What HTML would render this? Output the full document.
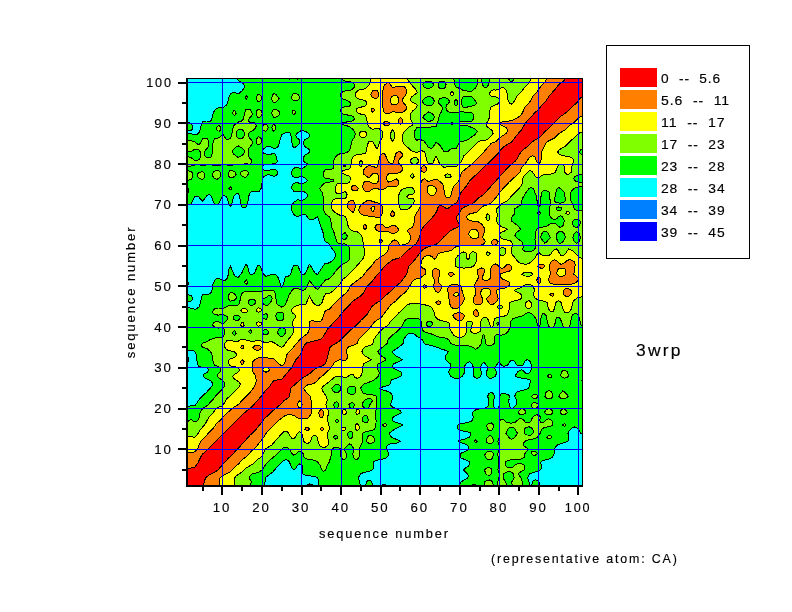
<!DOCTYPE html>
<html><head><meta charset="utf-8"><title>3wrp</title>
<style>
html,body{margin:0;padding:0;background:#fff;}
body{width:792px;height:612px;overflow:hidden;font-family:"Liberation Sans",sans-serif;}
svg{display:block;will-change:transform}
text{font-family:"Liberation Sans",sans-serif;font-size:13px;fill:#000;white-space:pre;stroke:#000;stroke-width:0.15px}
</style></head><body>
<svg width="792" height="612" viewBox="0 0 792 612">
<rect width="792" height="612" fill="#fff"/>
<defs><clipPath id="cp"><rect x="186" y="78" width="397" height="408"/></clipPath></defs>
<g clip-path="url(#cp)" shape-rendering="crispEdges">
<path fill="#ff0000" stroke="#ff0000" stroke-width="0.6" d="M186.9,486.1L203.3,486.1L205.4,478.0L208.7,475.2L214.6,472.3L218.1,469.8L228.4,458.2L232.4,454.6L236.4,449.9L240.3,446.1L250.2,435.1L256.1,429.4L264.0,419.2L272.9,410.7L279.9,405.0L283.8,400.9L287.2,398.5L289.4,396.5L290.9,388.3L291.7,387.4L301.6,378.5L309.5,373.8L313.7,370.0L315.5,368.8L322.0,365.9L325.4,363.9L326.2,361.8L329.8,347.6L332.2,345.5L339.2,341.4L351.1,329.6L357.0,324.7L361.0,320.3L366.8,315.0L371.8,306.8L372.8,305.8L374.8,304.1L380.8,300.5L384.7,296.3L390.6,291.4L394.6,287.2L400.5,282.5L406.6,274.2L408.8,266.1L414.4,260.3L422.3,250.0L426.2,247.6L434.2,245.0L437.1,243.7L439.6,241.6L443.2,237.5L450.0,231.1L453.9,228.8L457.5,227.4L459.9,225.5L456.6,219.2L456.4,217.2L459.3,213.1L461.8,208.6L464.6,207.0L471.7,204.0L473.7,202.6L477.7,198.6L483.6,194.5L505.4,170.3L509.3,166.1L515.3,161.2L517.2,158.4L521.2,151.5L528.1,145.9L532.2,141.8L538.9,137.7L541.0,135.9L544.9,131.7L548.9,128.2L552.8,123.9L556.8,120.5L560.7,116.4L566.7,112.2L571.7,107.1L576.6,103.2L580.5,97.7L582.5,96.6L582.5,78.6L565.0,78.6L564.0,80.7L558.6,84.7L554.8,89.8L549.9,94.9L545.9,101.0L541.9,105.1L538.6,109.2L534.3,113.3L531.0,117.3L526.9,121.4L525.1,123.6L521.2,130.4L517.2,134.6L511.8,141.8L505.1,145.9L502.4,147.9L497.5,154.0L493.5,158.1L470.0,180.5L466.0,186.6L462.2,190.7L460.8,192.7L457.9,200.1L456.3,202.9L452.0,205.5L448.0,208.5L446.0,208.3L439.9,204.9L438.1,207.3L436.8,211.1L434.4,215.1L428.2,222.1L424.3,225.9L422.3,228.4L421.0,231.4L418.5,239.6L416.1,243.7L406.1,251.8L400.5,257.5L392.6,259.9L384.6,266.1L380.0,272.2L375.9,276.3L371.2,282.4L367.1,286.4L363.6,292.6L362.0,294.6L361.0,295.6L353.1,300.9L347.9,306.8L343.6,310.9L338.9,317.0L327.4,329.2L323.4,336.5L321.4,339.0L319.4,339.7L307.6,342.6L305.6,343.4L303.6,346.9L300.8,353.7L299.7,355.5L295.9,359.8L291.4,367.9L282.7,378.1L281.9,379.0L273.9,380.6L272.0,382.8L269.6,386.3L265.7,390.4L260.1,397.6L251.9,406.7L242.0,414.8L236.4,420.9L225.8,431.1L222.0,435.2L217.5,439.3L214.0,443.3L202.7,454.0L200.4,457.6L197.5,463.7L194.8,467.1L186.9,469.2L186.9,486.1Z"/>
<path fill="#ff7f00" stroke="#ff7f00" stroke-width="0.6" d="M203.3,486.1L219.4,486.1L219.6,480.0L220.1,478.0L220.5,477.5L222.5,475.7L224.5,474.5L228.4,473.0L230.4,471.6L234.4,467.4L238.8,463.7L242.3,459.7L247.7,455.6L251.0,451.5L256.1,446.9L258.8,443.3L262.1,439.7L263.9,437.2L266.2,433.1L268.0,431.2L278.1,420.9L283.8,416.5L285.8,415.3L287.8,414.8L291.7,414.8L293.7,415.3L297.7,418.0L299.7,418.7L301.6,419.0L305.6,418.8L307.6,418.1L309.3,416.8L311.5,412.8L311.3,402.6L310.8,398.5L310.2,396.5L309.5,395.5L304.8,390.4L303.8,388.3L305.3,386.3L307.6,384.9L313.5,383.6L315.5,382.5L319.4,378.2L323.4,375.0L329.3,369.5L331.3,367.3L333.5,363.9L335.3,361.8L337.2,360.7L339.2,360.0L341.2,359.9L343.2,360.3L345.1,360.4L346.4,359.8L347.3,357.8L347.4,355.7L346.2,351.6L346.6,349.6L347.5,347.6L349.1,346.6L355.0,344.6L357.2,343.5L358.8,339.4L366.8,331.3L372.1,325.2L374.8,321.6L381.7,317.0L390.6,304.9L396.1,300.7L399.8,296.6L405.2,292.6L406.5,291.1L412.4,281.6L414.4,279.8L416.4,278.8L420.3,277.9L425.4,274.2L425.9,272.2L425.6,270.1L424.3,268.9L422.3,267.9L420.8,266.1L421.3,262.0L422.0,260.0L423.3,257.9L424.3,257.0L426.2,256.0L428.2,255.7L430.2,255.9L432.2,256.9L434.2,259.2L436.2,257.9L438.1,253.8L442.1,252.2L448.0,251.4L450.0,250.8L452.1,249.8L453.9,248.1L455.9,246.8L457.9,246.1L461.8,245.7L479.6,245.4L481.6,245.0L484.2,243.7L485.4,241.6L482.7,237.5L485.0,229.4L484.0,227.4L481.6,224.1L479.6,222.5L477.7,221.7L471.7,221.0L469.8,220.4L467.8,219.3L466.5,217.2L467.7,215.1L469.8,213.9L475.7,212.5L477.7,211.5L481.6,207.2L483.6,205.9L489.5,204.1L491.5,202.7L493.3,200.9L501.1,190.7L509.3,182.0L519.9,172.3L521.1,168.3L526.4,162.2L529.1,157.5L531.1,156.1L533.1,155.9L535.0,157.1L537.0,162.1L539.0,163.8L540.3,162.2L541.1,160.1L541.5,152.0L545.5,143.8L546.9,142.2L548.9,140.8L554.8,137.9L558.8,133.5L565.7,129.6L569.6,125.5L575.2,121.4L578.5,117.9L580.5,116.5L582.5,115.8L582.5,96.6L580.5,97.7L576.6,103.2L571.7,107.1L566.7,112.2L560.7,116.4L556.8,120.5L552.8,123.9L548.9,128.2L544.9,131.7L541.0,135.9L538.9,137.7L532.2,141.8L528.1,145.9L521.2,151.5L517.2,158.4L515.3,161.2L509.3,166.1L505.4,170.3L483.6,194.5L477.7,198.6L473.7,202.6L471.7,204.0L464.6,207.0L461.8,208.6L459.3,213.1L456.4,217.2L456.6,219.2L459.9,225.5L457.5,227.4L453.9,228.8L450.0,231.1L443.2,237.5L439.6,241.6L437.1,243.7L434.2,245.0L426.2,247.6L422.3,250.0L414.4,260.3L408.8,266.1L406.6,274.2L400.5,282.5L394.6,287.2L390.6,291.4L384.7,296.3L380.8,300.5L374.8,304.1L372.8,305.8L371.8,306.8L366.8,315.0L361.0,320.3L357.0,324.7L351.1,329.6L339.2,341.4L332.2,345.5L329.8,347.6L326.2,361.8L325.4,363.9L322.0,365.9L315.5,368.8L313.7,370.0L309.5,373.8L301.6,378.5L291.7,387.4L290.9,388.3L289.4,396.5L287.2,398.5L283.8,400.9L279.9,405.0L272.9,410.7L264.0,419.2L256.1,429.4L250.2,435.1L240.3,446.1L236.4,449.9L232.4,454.6L228.4,458.2L218.1,469.8L214.6,472.3L208.7,475.2L205.4,478.0L203.3,486.1ZM299.7,408.3L298.2,406.7L297.5,404.6L298.2,402.6L299.7,400.9L301.6,402.6L302.1,404.6L301.6,406.7L299.7,408.3ZM471.7,237.9L469.3,235.5L468.6,233.5L469.5,231.4L471.7,229.6L473.7,229.2L475.7,229.4L477.7,230.8L478.7,233.5L478.8,235.5L478.2,237.5L475.7,238.5L473.7,238.5L471.7,237.9ZM186.9,467.8L186.9,469.2L194.8,467.1L197.5,463.7L200.4,457.6L202.7,454.0L214.0,443.3L217.5,439.3L222.0,435.2L225.8,431.1L236.4,420.9L242.0,414.8L251.9,406.7L260.1,397.6L265.7,390.4L269.6,386.3L272.0,382.8L273.9,380.6L281.9,379.0L282.7,378.1L291.4,367.9L295.9,359.8L299.7,355.5L300.8,353.7L303.6,346.9L305.6,343.4L307.6,342.6L319.4,339.7L321.4,339.0L323.4,336.5L327.4,329.2L338.9,317.0L343.6,310.9L347.9,306.8L353.1,300.9L361.0,295.6L362.0,294.6L363.6,292.6L367.1,286.4L371.2,282.4L375.9,276.3L380.0,272.2L384.6,266.1L392.6,259.9L400.5,257.5L406.1,251.8L416.1,243.7L418.5,239.6L421.0,231.4L422.3,228.4L424.3,225.9L428.2,222.1L434.4,215.1L436.8,211.1L438.1,207.3L439.9,204.9L446.0,208.3L448.0,208.5L452.0,205.5L456.3,202.9L457.9,200.1L460.8,192.7L462.2,190.7L466.0,186.6L470.0,180.5L493.5,158.1L497.5,154.0L502.4,147.9L505.1,145.9L511.8,141.8L517.2,134.6L521.2,130.4L525.1,123.6L526.9,121.4L531.0,117.3L534.3,113.3L538.6,109.2L541.9,105.1L545.9,101.0L549.9,94.9L554.8,89.8L558.6,84.7L564.0,80.7L565.0,78.6L546.4,78.6L545.7,80.7L544.4,82.7L541.0,86.2L537.0,91.9L533.1,96.0L529.2,103.1L525.0,107.1L522.2,113.3L520.8,115.3L519.2,116.7L511.3,120.9L503.4,121.3L501.4,122.1L499.9,123.4L501.5,125.5L506.3,127.5L507.5,129.6L507.3,131.6L506.0,133.6L501.4,136.4L495.5,141.9L491.5,143.1L482.1,154.0L473.7,162.5L463.8,170.5L462.0,172.3L460.7,174.4L459.0,180.5L457.7,182.5L453.5,186.6L452.6,188.6L451.2,194.8L450.0,196.8L448.0,198.2L446.0,196.8L444.8,194.8L444.3,192.7L443.6,186.6L442.8,184.6L441.2,182.5L438.1,180.1L436.1,179.1L428.2,181.5L424.3,178.6L422.3,179.9L421.0,182.5L420.6,184.6L420.3,202.9L420.0,207.0L419.2,209.0L418.0,211.1L416.4,213.0L415.3,215.1L414.8,217.2L414.0,223.3L412.5,227.4L408.4,229.3L407.2,231.4L409.4,233.5L410.4,235.5L410.6,237.5L410.3,239.6L409.4,241.6L408.4,242.7L406.5,243.9L404.5,244.7L400.5,245.2L398.8,243.7L397.8,241.6L396.6,240.3L394.6,240.0L392.6,240.5L389.1,245.7L388.1,249.8L387.2,251.8L385.5,253.8L376.2,260.0L374.8,261.3L370.9,266.8L366.9,270.6L362.8,276.3L352.1,284.4L351.1,285.5L346.6,292.6L343.2,295.3L337.2,300.9L329.3,309.1L325.4,310.7L324.3,312.9L322.3,319.0L321.4,320.7L319.4,321.6L317.5,322.0L313.5,320.9L311.5,320.9L309.5,321.8L309.0,323.1L309.4,327.2L309.3,329.2L308.7,331.3L307.6,333.3L305.6,335.1L302.2,337.4L300.1,339.4L294.8,345.5L291.7,349.6L287.5,353.7L286.4,355.7L285.2,361.8L283.8,364.2L281.9,365.7L279.9,364.7L274.9,359.8L273.9,359.1L272.0,358.5L268.0,358.0L258.1,357.8L254.2,360.1L252.9,361.8L252.3,363.9L252.1,367.9L253.1,372.0L255.6,376.1L256.2,378.1L256.2,382.2L255.6,384.2L254.5,386.3L250.2,392.2L240.3,402.6L238.3,404.5L234.4,406.8L232.0,408.7L228.4,412.1L225.0,414.8L220.5,420.1L216.6,423.5L212.5,429.1L208.7,432.6L205.1,437.2L201.0,441.3L199.7,443.3L198.2,447.4L197.1,449.4L195.3,451.5L194.8,451.9L192.8,452.4L186.9,452.7L186.9,467.8ZM266.0,372.2L264.0,371.4L262.4,370.0L264.0,368.0L266.0,367.4L268.0,368.0L269.6,370.0L268.0,371.4L266.0,372.2ZM430.2,195.2L427.9,192.7L427.3,190.7L427.3,188.6L428.2,186.0L430.2,185.5L432.2,185.6L434.7,186.6L436.1,188.6L436.4,190.7L436.1,191.9L435.9,192.7L434.2,195.0L432.2,196.0L430.2,195.2ZM304.7,429.1L305.6,429.9L307.6,430.9L309.8,429.1L307.6,427.2L305.6,428.0L304.7,429.1ZM320.0,429.1L321.4,430.6L323.4,429.8L323.9,429.1L323.4,428.3L321.4,427.4L320.0,429.1ZM319.9,416.8L321.4,418.4L322.7,416.8L324.0,412.8L323.4,411.2L321.4,409.4L319.4,410.6L318.7,412.8L319.1,414.8L319.9,416.8ZM241.5,363.9L242.3,364.8L243.3,363.9L244.1,361.8L242.3,359.6L240.5,361.8L241.5,363.9ZM255.2,349.6L258.1,350.3L260.1,349.7L261.4,347.6L259.7,345.5L258.1,344.9L256.1,345.3L254.2,346.2L252.7,347.6L254.2,349.2L255.2,349.6ZM240.8,347.6L242.3,349.0L243.9,347.6L243.1,345.5L242.3,345.0L241.6,345.5L240.8,347.6ZM455.6,319.0L457.9,320.8L459.9,321.0L461.8,320.1L463.2,319.0L464.0,317.0L464.1,315.0L461.8,313.3L459.9,312.8L455.9,313.1L453.9,314.0L452.8,315.0L453.7,317.0L455.6,319.0ZM473.8,315.0L475.7,316.8L477.7,316.2L479.0,315.0L478.7,312.9L477.5,310.9L475.7,309.2L474.0,310.9L473.7,312.9L473.8,315.0ZM455.0,308.9L455.9,308.9L457.9,308.1L459.5,306.8L462.8,302.8L464.5,298.7L462.0,290.5L461.3,286.4L459.9,285.5L457.9,284.9L453.9,284.5L450.0,285.3L448.4,286.4L447.9,288.5L447.8,290.5L448.6,294.6L449.4,302.8L450.0,304.8L450.8,306.8L452.0,307.8L453.9,308.8L455.0,308.9ZM455.9,296.7L453.9,295.4L453.6,294.6L453.9,294.0L455.9,292.5L457.9,293.0L458.6,294.6L457.9,295.7L455.9,296.7ZM477.0,304.8L479.6,304.7L481.6,303.7L482.4,302.8L482.5,298.7L480.7,294.6L480.8,292.6L481.2,290.5L481.6,289.9L483.6,288.6L485.6,288.3L487.6,288.5L489.5,289.4L490.5,290.5L490.5,292.6L490.2,294.6L486.1,298.7L489.5,303.7L491.5,304.6L493.5,304.1L495.4,302.8L497.1,300.7L498.2,298.7L496.6,292.6L496.5,290.5L497.5,289.7L499.4,289.0L505.4,287.9L508.6,286.4L509.6,284.4L509.5,282.4L501.4,278.4L500.5,276.3L500.3,274.2L501.4,273.4L509.3,271.1L510.9,270.1L511.6,268.1L511.3,266.1L509.3,264.2L507.3,264.2L503.4,267.9L501.4,268.2L499.4,267.4L497.5,265.0L495.5,264.0L493.5,264.4L491.7,266.1L490.2,270.1L490.5,276.3L490.2,278.3L489.5,279.1L487.6,280.2L485.6,280.4L483.6,279.9L482.0,278.3L485.0,270.1L483.6,268.5L481.6,268.0L479.6,268.5L477.4,270.1L477.5,272.2L478.2,276.3L478.1,278.3L477.1,280.3L475.5,282.4L474.8,284.4L474.6,286.4L475.7,290.5L475.7,293.4L475.5,294.6L473.0,298.7L473.0,300.7L473.5,302.8L475.7,304.5L477.0,304.8ZM435.7,302.8L438.1,304.6L440.1,303.9L440.8,302.8L440.1,301.6L438.1,300.8L435.7,302.8ZM549.8,294.6L550.9,295.8L552.8,296.1L553.9,294.6L552.8,293.1L550.9,293.4L549.8,294.6ZM563.9,294.6L564.7,295.6L566.7,296.6L568.7,296.4L570.7,294.6L571.5,292.6L571.3,290.5L568.7,288.6L566.7,288.4L564.7,289.2L563.3,290.5L563.4,292.6L563.9,294.6ZM435.1,290.5L436.1,291.5L438.1,292.4L440.1,291.2L441.2,288.5L441.6,286.4L440.6,284.4L438.6,282.4L438.2,280.3L438.4,278.3L439.9,274.2L439.7,272.2L439.0,270.1L436.1,268.2L434.2,268.7L433.0,270.1L432.1,274.2L432.8,276.3L433.9,278.3L434.2,282.4L433.6,286.4L434.1,288.5L435.1,290.5ZM422.9,286.4L424.3,288.2L426.2,287.3L426.7,286.4L426.2,285.6L424.3,284.7L422.9,286.4ZM558.6,284.4L568.7,284.4L572.6,283.9L576.3,282.4L578.0,280.3L578.7,278.3L573.8,274.2L574.9,270.1L575.1,264.0L574.5,262.0L572.6,260.5L570.6,259.9L568.5,260.0L566.7,260.6L564.7,262.6L562.7,263.9L560.7,264.1L558.8,263.1L556.8,260.8L554.8,259.9L552.8,260.3L550.9,262.0L550.0,264.0L549.5,266.1L550.3,274.2L548.8,278.3L548.8,280.3L549.3,282.4L550.9,283.4L552.8,284.0L558.6,284.4ZM560.7,276.4L558.8,275.9L556.9,274.2L557.0,272.2L557.5,270.1L558.8,268.8L560.7,268.0L562.7,268.1L564.7,268.9L565.8,270.1L566.0,272.2L565.7,274.2L564.7,275.4L562.7,276.3L560.7,276.4ZM537.2,282.4L539.0,283.9L540.8,282.4L540.7,280.3L540.3,278.3L539.0,276.8L537.3,278.3L536.8,280.3L537.2,282.4ZM448.0,274.2L450.0,276.1L452.0,276.1L454.2,274.2L452.0,272.3L450.0,272.3L448.0,274.2ZM540.7,268.1L542.9,268.0L545.0,266.1L542.9,264.1L541.0,264.0L539.0,264.8L537.7,266.1L539.0,267.4L540.7,268.1ZM491.9,243.7L493.5,245.2L495.5,244.9L497.2,243.7L498.3,241.6L495.5,239.3L493.5,239.3L491.3,241.6L491.9,243.7ZM379.0,241.6L380.8,243.0L382.5,241.6L381.5,239.6L380.8,239.1L380.0,239.6L379.0,241.6ZM392.4,233.5L396.6,232.6L398.0,231.4L398.5,229.4L396.6,226.4L394.6,225.7L392.6,225.5L388.7,227.0L386.7,227.3L384.7,226.9L382.7,224.8L380.8,223.7L376.8,224.8L376.1,225.3L374.9,227.4L375.9,229.4L376.8,230.5L378.8,231.5L380.8,232.0L384.7,231.4L387.4,231.4L388.7,231.7L390.6,232.9L392.4,233.5ZM364.6,229.4L364.9,229.8L366.8,227.4L366.0,225.3L364.9,224.6L363.8,225.3L363.1,227.4L364.6,229.4ZM375.6,217.2L378.8,217.3L380.8,216.7L381.8,215.1L382.6,211.1L382.6,209.0L381.7,204.9L380.8,203.5L376.8,202.8L368.9,200.1L366.8,200.9L363.6,202.9L361.0,205.3L359.7,207.0L358.9,209.0L359.0,211.1L360.0,213.1L361.0,214.2L364.9,215.7L372.8,216.6L375.6,217.2ZM372.8,211.4L372.1,211.1L370.8,209.0L371.7,207.0L372.8,206.3L374.4,207.0L374.9,209.0L373.5,211.1L372.8,211.4ZM390.8,215.1L392.6,217.2L394.5,215.1L394.5,213.1L392.6,210.8L390.8,213.1L390.8,215.1ZM350.9,211.1L353.1,212.3L354.0,211.1L354.9,209.0L355.2,207.0L355.0,204.5L354.7,202.9L353.1,200.6L351.1,200.7L349.1,201.5L348.0,202.9L347.2,204.9L347.4,207.0L349.1,209.3L350.9,211.1ZM354.5,190.7L357.0,190.4L358.6,188.6L357.0,186.8L355.0,185.5L353.1,185.2L351.8,186.6L351.3,188.6L353.1,190.6L354.5,190.7ZM364.6,190.7L366.9,191.4L368.9,191.5L370.4,190.7L372.8,188.9L374.8,188.6L377.1,188.6L380.8,189.7L382.7,189.5L384.7,188.8L386.7,187.2L388.7,186.1L390.6,186.1L394.6,186.8L396.6,186.9L398.2,184.6L398.6,182.5L398.2,180.5L396.6,179.0L388.7,182.2L387.1,180.5L386.6,178.5L386.8,176.4L387.9,174.4L388.7,173.7L390.6,173.4L396.6,173.7L400.5,172.2L402.2,170.3L402.5,168.3L401.6,166.2L399.3,164.2L398.5,162.2L398.8,160.1L402.3,156.0L402.3,154.0L400.5,151.9L398.6,151.7L396.6,152.4L395.7,154.0L393.4,162.2L392.6,163.3L390.6,163.1L388.7,162.3L384.7,153.8L382.7,153.7L380.8,154.7L380.1,156.0L379.3,158.1L378.3,164.2L377.6,166.2L376.8,167.2L374.8,167.1L368.9,165.5L366.9,166.6L364.9,168.3L363.6,170.3L363.2,172.3L364.0,174.4L364.9,175.1L368.9,178.0L372.8,173.7L374.8,173.4L376.8,173.4L377.9,174.4L378.8,176.4L378.9,178.5L378.6,180.5L377.4,182.5L376.8,183.0L372.8,183.5L368.9,181.6L366.9,181.5L364.9,181.8L364.0,182.5L363.0,184.6L362.8,186.6L363.2,188.6L364.6,190.7ZM423.3,172.3L424.3,172.6L424.6,172.3L426.5,170.3L426.5,168.3L424.3,165.3L422.3,166.5L421.1,168.3L420.8,170.3L422.3,171.9L423.3,172.3ZM385.8,125.5L386.7,125.7L388.7,125.2L390.1,123.4L388.7,122.1L386.7,121.6L384.7,121.6L383.2,123.4L384.7,125.3L385.8,125.5ZM399.2,123.4L400.5,124.8L401.8,123.4L402.6,121.4L402.4,119.4L400.5,117.2L398.6,119.4L398.5,121.4L399.2,123.4ZM386.1,113.3L388.7,113.4L392.6,111.8L400.5,112.6L402.5,112.1L404.5,111.2L406.2,109.2L406.5,107.1L405.7,105.1L403.4,103.1L402.5,101.0L402.6,99.0L403.9,97.0L405.8,94.9L406.5,92.9L406.6,90.8L406.0,88.8L404.5,86.9L402.5,86.2L398.6,86.2L396.6,86.5L392.6,87.6L388.7,82.6L386.7,83.2L384.7,85.0L383.8,86.8L382.9,90.8L382.8,107.1L383.7,111.2L384.7,112.8L386.1,113.3ZM392.6,105.0L390.9,103.1L390.5,101.0L390.7,99.0L391.5,97.0L392.6,96.0L394.6,95.7L396.6,95.8L397.8,97.0L398.6,99.0L398.6,101.0L397.9,103.1L396.6,104.4L394.6,104.9L392.6,105.0ZM371.6,111.2L372.8,112.3L374.0,111.2L374.3,109.2L372.8,108.0L371.4,109.2L371.6,111.2ZM371.8,97.0L372.8,97.8L374.8,98.3L376.8,98.4L378.1,97.0L378.8,94.9L378.6,92.9L376.8,90.2L374.8,90.0L372.8,90.8L371.1,92.9L370.9,94.9L371.8,97.0Z"/>
<path fill="#ffff00" stroke="#ffff00" stroke-width="0.6" d="M219.4,486.1L234.4,486.1L234.9,482.1L234.4,478.0L236.3,475.9L242.3,471.9L246.3,467.8L253.5,463.7L257.2,459.6L260.3,457.6L262.1,455.9L263.5,453.5L265.0,449.4L266.0,448.5L271.4,445.4L279.9,435.7L283.8,431.8L285.8,431.2L287.8,432.1L290.9,437.2L291.7,438.2L293.7,439.0L295.4,437.2L297.7,433.1L299.7,431.7L301.4,433.1L302.4,435.2L303.6,441.3L305.6,443.0L307.6,443.4L309.5,442.6L310.6,441.3L311.6,437.2L313.5,435.4L315.5,435.4L317.4,437.2L318.5,443.3L319.5,445.4L321.4,446.9L323.4,447.5L325.4,447.1L327.8,445.4L328.6,443.3L328.7,441.3L327.4,437.2L327.3,435.2L327.6,433.1L328.7,431.1L329.3,429.1L329.2,427.0L327.8,420.9L327.6,416.8L328.8,412.8L328.3,410.7L325.7,404.6L327.3,400.5L327.0,398.5L326.2,396.5L322.4,390.4L321.8,388.3L323.4,386.1L329.3,381.8L333.3,378.2L335.3,377.0L337.2,376.4L339.2,376.1L341.2,376.4L343.2,377.2L345.1,377.5L347.1,377.1L351.1,374.3L353.1,374.8L355.0,377.4L357.0,378.2L359.0,377.7L360.8,376.1L362.4,372.0L362.8,370.0L363.1,363.9L371.6,359.8L364.4,355.7L362.8,353.7L362.0,351.6L362.7,349.6L364.1,347.6L364.9,347.0L370.9,344.9L373.5,343.5L373.9,339.4L376.8,335.0L382.2,329.2L388.0,325.2L390.9,321.1L398.6,313.2L403.4,308.9L406.5,305.6L408.4,304.3L412.4,303.4L420.3,303.9L428.2,305.5L430.9,306.8L433.9,310.9L434.4,315.0L435.6,317.0L437.6,319.0L440.1,320.3L446.0,321.7L449.0,323.1L449.5,327.2L450.2,329.2L451.2,331.3L454.0,335.4L455.9,336.8L457.9,337.4L459.9,337.5L461.8,337.2L463.8,336.1L464.8,335.4L465.9,333.3L466.5,331.3L466.6,329.2L466.0,323.1L467.8,321.6L469.8,321.1L471.7,321.9L472.6,323.1L470.9,329.2L470.8,331.3L471.7,332.4L473.7,333.3L475.7,333.4L477.7,332.9L480.2,331.3L480.9,329.2L481.0,327.2L480.5,323.1L480.8,321.1L481.8,319.0L483.6,317.6L485.6,317.1L487.6,318.5L490.2,325.2L491.3,327.2L491.8,327.2L493.5,325.1L494.0,321.1L494.7,319.0L495.5,318.2L497.5,317.5L503.4,316.5L506.8,315.0L508.1,312.9L508.9,310.9L509.3,308.9L509.5,302.8L511.3,301.7L519.2,299.7L521.2,298.7L521.8,296.6L521.5,294.6L514.2,290.5L517.2,288.9L521.2,287.6L525.1,285.0L527.1,284.4L529.1,284.3L531.1,285.0L533.0,286.4L534.0,288.5L534.4,290.5L533.2,294.6L534.1,296.6L535.7,298.7L539.0,300.1L544.9,301.4L547.3,302.8L548.0,306.8L548.7,308.9L549.8,310.9L550.9,311.8L552.8,311.8L553.6,310.9L555.9,302.8L556.8,301.5L558.8,300.8L560.7,302.0L561.3,302.8L562.7,308.5L563.7,310.9L564.7,312.1L566.7,312.8L568.7,312.1L570.2,310.9L571.3,308.9L572.0,306.8L572.7,302.8L573.9,300.7L576.6,298.3L578.5,297.5L582.5,296.7L582.5,258.8L580.4,257.9L577.8,255.9L572.6,250.8L570.6,249.6L568.7,248.9L564.7,254.7L562.7,255.8L560.7,255.2L559.6,253.8L557.6,249.8L556.8,248.9L554.8,249.6L552.8,251.2L550.9,253.9L548.9,255.4L546.9,255.9L542.9,255.7L541.0,254.6L539.0,252.6L537.4,253.8L535.0,257.9L531.0,262.0L529.1,263.3L527.1,264.0L523.2,264.1L521.2,263.7L519.2,262.6L518.3,262.0L511.8,253.8L511.0,249.8L512.4,245.7L512.3,243.7L511.5,241.6L509.3,240.4L503.4,239.3L501.4,238.4L500.4,237.5L499.8,235.5L499.9,233.5L501.4,232.1L503.7,231.4L507.5,229.4L503.7,227.4L501.4,226.7L499.4,225.3L497.5,223.2L496.5,221.2L497.2,215.1L496.7,209.0L501.4,203.8L507.5,200.9L510.8,196.8L519.0,188.6L521.9,184.6L522.9,178.5L523.5,176.4L529.1,170.7L531.1,170.9L532.7,172.3L535.5,176.4L537.0,178.0L539.0,177.9L541.0,176.1L542.9,175.1L544.9,174.7L550.9,174.1L552.8,173.7L554.8,172.7L555.2,172.3L557.8,166.2L558.8,165.1L560.7,164.1L562.7,164.5L564.2,166.2L564.9,168.3L564.9,172.3L566.7,174.1L568.7,174.1L571.2,172.3L571.5,170.3L571.4,168.3L571.8,166.2L573.4,162.2L573.8,160.1L572.0,158.1L570.6,157.2L568.7,156.4L562.7,155.7L560.7,155.0L559.1,154.0L557.7,152.0L559.1,149.9L565.6,145.9L569.5,141.8L574.5,137.7L578.4,133.6L580.5,132.4L582.5,131.8L582.5,115.8L580.5,116.5L578.5,117.9L575.2,121.4L569.6,125.5L565.7,129.6L558.8,133.5L554.8,137.9L548.9,140.8L546.9,142.2L545.5,143.8L541.5,152.0L541.1,160.1L540.3,162.2L539.0,163.8L537.0,162.1L535.0,157.1L533.1,155.9L531.1,156.1L529.1,157.5L526.4,162.2L521.1,168.3L519.9,172.3L509.3,182.0L501.1,190.7L493.3,200.9L491.5,202.7L489.5,204.1L483.6,205.9L481.6,207.2L477.7,211.5L475.7,212.5L469.8,213.9L467.7,215.1L466.5,217.2L467.8,219.3L469.8,220.4L471.7,221.0L477.7,221.7L479.6,222.5L481.6,224.1L484.0,227.4L485.0,229.4L482.7,237.5L485.4,241.6L484.2,243.7L481.6,245.0L479.6,245.4L461.8,245.7L457.9,246.1L455.9,246.8L453.9,248.1L452.1,249.8L450.0,250.8L448.0,251.4L442.1,252.2L438.1,253.8L436.2,257.9L434.2,259.2L432.2,256.9L430.2,255.9L428.2,255.7L426.2,256.0L424.3,257.0L423.3,257.9L422.0,260.0L421.3,262.0L420.8,266.1L422.3,267.9L424.3,268.9L425.6,270.1L425.9,272.2L425.4,274.2L420.3,277.9L416.4,278.8L414.4,279.8L412.4,281.6L406.5,291.1L405.2,292.6L399.8,296.6L396.1,300.7L390.6,304.9L381.7,317.0L374.8,321.6L372.1,325.2L366.8,331.3L358.8,339.4L357.2,343.5L355.0,344.6L349.1,346.6L347.5,347.6L346.6,349.6L346.2,351.6L347.4,355.7L347.3,357.8L346.4,359.8L345.1,360.4L343.2,360.3L341.2,359.9L339.2,360.0L337.2,360.7L335.3,361.8L333.5,363.9L331.3,367.3L329.3,369.5L323.4,375.0L319.4,378.2L315.5,382.5L313.5,383.6L307.6,384.9L305.3,386.3L303.8,388.3L304.8,390.4L309.5,395.5L310.2,396.5L310.8,398.5L311.3,402.6L311.5,412.8L309.3,416.8L307.6,418.1L305.6,418.8L301.6,419.0L299.7,418.7L297.7,418.0L293.7,415.3L289.8,414.6L285.8,415.3L283.3,416.8L278.1,420.9L266.2,433.1L263.9,437.2L256.1,446.9L251.0,451.5L247.7,455.6L242.3,459.7L238.8,463.7L234.4,467.4L230.4,471.6L228.4,473.0L224.5,474.5L222.5,475.7L220.5,477.5L220.1,478.0L219.6,480.0L219.4,486.1ZM305.6,429.9L304.7,429.1L305.6,428.0L307.6,427.2L309.8,429.1L307.6,430.9L305.6,429.9ZM321.4,430.6L320.0,429.1L321.4,427.4L323.4,428.3L323.9,429.1L323.4,429.8L321.4,430.6ZM424.3,288.2L422.9,286.4L424.3,284.7L426.2,285.6L426.7,286.4L426.2,287.3L424.3,288.2ZM436.1,303.1L435.7,302.8L438.1,300.8L440.1,301.6L440.8,302.8L440.1,303.9L438.1,304.6L436.1,303.1ZM455.9,319.3L453.7,317.0L452.8,315.0L453.9,314.0L455.9,313.1L459.9,312.8L461.8,313.3L464.1,315.0L464.0,317.0L463.2,319.0L461.8,320.1L459.9,321.0L457.9,320.8L455.9,319.3ZM475.7,316.8L473.8,315.0L473.7,312.9L474.0,310.9L475.7,309.2L477.5,310.9L478.7,312.9L479.0,315.0L477.7,316.2L475.7,316.8ZM497.5,307.5L496.9,306.8L499.4,305.2L501.4,305.2L502.9,306.8L501.4,308.6L499.4,308.8L497.5,307.5ZM527.1,276.4L525.1,276.2L523.2,275.4L521.8,274.2L523.2,273.1L525.1,272.2L529.2,272.2L531.1,272.8L532.7,274.2L531.1,275.6L529.1,276.3L527.1,276.4ZM539.0,283.9L537.2,282.4L536.8,280.3L537.3,278.3L539.0,276.8L540.3,278.3L540.7,280.3L540.8,282.4L539.0,283.9ZM541.0,268.2L539.0,267.4L537.7,266.1L539.0,264.8L541.0,264.0L542.9,264.1L544.9,265.9L544.9,266.3L542.9,268.0L541.0,268.2ZM550.9,295.8L549.8,294.6L550.9,293.4L552.8,293.1L553.9,294.6L552.8,296.1L550.9,295.8ZM558.8,284.4L552.8,284.0L550.9,283.4L549.3,282.4L548.8,280.3L548.8,278.3L550.3,274.2L549.5,266.1L550.0,264.0L550.9,262.0L552.8,260.3L554.8,259.9L556.8,260.8L558.8,263.1L560.7,264.1L562.7,263.9L564.7,262.6L566.7,260.6L568.5,260.0L570.6,259.9L572.6,260.5L574.5,262.0L575.1,264.0L574.9,270.1L573.8,274.2L578.7,278.3L578.0,280.3L576.3,282.4L572.6,283.9L568.7,284.4L558.8,284.4ZM564.7,295.6L563.9,294.6L563.4,292.6L563.3,290.5L564.7,289.2L566.7,288.4L568.7,288.6L571.3,290.5L571.5,292.6L570.7,294.6L568.7,296.4L566.7,296.6L564.7,295.6ZM321.4,418.4L319.9,416.8L319.1,414.8L318.7,412.8L319.4,410.6L321.4,409.4L323.4,411.2L324.0,412.8L322.7,416.8L321.4,418.4ZM436.1,291.5L435.1,290.5L434.1,288.5L433.6,286.4L434.2,282.4L434.2,279.6L433.9,278.3L432.8,276.3L432.1,274.2L433.0,270.1L434.2,268.7L436.1,268.2L439.0,270.1L439.7,272.2L439.9,274.2L438.4,278.3L438.2,280.3L438.6,282.4L440.6,284.4L441.6,286.4L441.2,288.5L440.1,291.2L438.1,292.4L436.1,291.5ZM455.9,308.9L453.9,308.8L452.0,307.8L450.8,306.8L449.4,302.8L448.6,294.6L447.8,290.5L447.9,288.5L448.4,286.4L450.0,285.3L453.9,284.5L457.9,284.9L459.9,285.5L461.3,286.4L462.0,290.5L464.5,298.7L463.8,300.8L461.8,304.2L459.5,306.8L457.9,308.1L455.9,308.9ZM477.7,304.9L475.7,304.5L473.5,302.8L473.0,300.7L473.0,298.7L475.5,294.6L475.7,293.4L475.7,290.5L474.6,286.4L474.8,284.4L475.5,282.4L477.1,280.3L478.1,278.3L478.2,276.3L477.5,272.2L477.4,270.1L479.6,268.5L481.6,268.0L483.6,268.5L485.0,270.1L482.0,278.3L483.6,279.9L485.6,280.4L487.6,280.2L489.5,279.1L490.2,278.3L490.5,276.3L490.2,270.1L491.7,266.1L493.5,264.4L495.5,264.0L497.5,265.0L499.4,267.4L501.4,268.2L503.4,267.9L507.3,264.2L509.3,264.2L511.3,266.1L511.6,268.1L510.9,270.1L509.3,271.1L501.4,273.4L500.3,274.2L500.5,276.3L501.4,278.4L509.5,282.4L509.6,284.4L508.6,286.4L505.4,287.9L499.4,289.0L497.5,289.7L496.5,290.5L496.6,292.6L498.2,298.7L497.1,300.7L495.4,302.8L493.5,304.1L491.5,304.6L489.5,303.7L486.1,298.7L490.2,294.6L490.5,292.6L490.5,290.5L489.5,289.4L487.6,288.5L485.6,288.3L483.6,288.6L481.6,289.9L481.2,290.5L480.8,292.6L480.7,294.6L482.5,298.7L482.4,302.8L481.6,303.7L479.6,304.7L477.7,304.9ZM450.0,276.1L448.0,274.2L450.0,272.3L452.0,272.3L454.2,274.2L452.0,276.1L450.0,276.1ZM455.9,266.3L455.6,266.1L455.2,264.0L456.0,257.9L457.7,255.9L461.8,252.6L463.8,251.9L465.8,253.0L466.3,253.8L466.4,257.9L467.8,259.5L469.5,257.9L470.0,253.8L471.7,252.1L473.7,251.8L475.7,252.9L476.4,253.8L476.7,255.9L476.5,260.0L476.1,262.0L475.1,264.0L473.6,266.1L469.8,267.7L465.8,268.1L459.9,267.8L457.9,267.3L455.9,266.3ZM487.6,255.7L485.9,253.8L487.6,252.0L489.5,252.8L490.2,253.8L489.5,254.9L487.6,255.7ZM493.5,245.2L491.9,243.7L491.3,241.6L493.5,239.3L495.5,239.3L498.3,241.6L497.2,243.7L495.5,244.9L493.5,245.2ZM501.4,255.7L499.5,253.8L499.2,251.8L499.4,249.8L501.4,247.6L503.4,247.7L505.4,249.0L505.8,249.8L505.4,253.3L505.2,253.8L503.4,255.7L501.4,255.7ZM487.6,220.7L486.6,219.2L485.9,217.2L486.6,215.1L487.6,213.8L489.5,215.3L490.0,217.2L489.5,219.8L487.6,220.7ZM186.9,451.5L186.9,452.7L192.8,452.4L194.8,451.9L197.1,449.4L198.2,447.4L199.7,443.3L201.0,441.3L205.1,437.2L208.7,432.6L212.5,429.1L216.6,423.5L220.5,420.1L225.0,414.8L234.4,406.8L238.3,404.5L250.2,392.2L254.2,386.8L255.6,384.2L256.3,380.2L255.6,376.1L253.1,372.0L252.1,367.9L252.3,363.9L252.9,361.8L254.2,360.1L258.1,357.8L268.0,358.0L272.0,358.5L273.9,359.1L274.9,359.8L279.9,364.7L281.9,365.7L283.8,364.2L285.2,361.8L286.4,355.7L287.5,353.7L291.7,349.6L294.8,345.5L300.1,339.4L302.2,337.4L305.6,335.1L307.6,333.3L308.7,331.3L309.3,329.2L309.4,327.2L309.0,323.1L309.5,321.8L311.5,320.9L313.5,320.9L317.5,322.0L319.4,321.6L321.4,320.7L322.3,319.0L324.3,312.9L325.4,310.7L329.3,309.1L337.2,300.9L343.2,295.3L346.6,292.6L351.1,285.5L352.1,284.4L362.8,276.3L366.9,270.6L370.9,266.8L374.8,261.3L376.2,260.0L385.5,253.8L387.2,251.8L388.1,249.8L389.1,245.7L392.6,240.5L394.6,240.0L396.6,240.3L397.8,241.6L398.8,243.7L400.5,245.2L404.5,244.7L406.5,243.9L408.4,242.7L409.4,241.6L410.3,239.6L410.6,237.5L410.4,235.5L409.4,233.5L407.2,231.4L408.4,229.3L412.5,227.4L414.0,223.3L414.8,217.2L415.3,215.1L416.4,213.0L418.0,211.1L419.2,209.0L420.0,207.0L420.3,202.9L420.6,184.6L421.0,182.5L422.3,179.9L424.3,178.6L428.2,181.5L436.1,179.1L438.1,180.1L441.2,182.5L442.8,184.6L443.6,186.6L444.3,192.7L444.8,194.8L446.0,196.8L448.0,198.2L450.0,196.8L451.2,194.8L452.6,188.6L453.5,186.6L457.7,182.5L459.0,180.5L460.7,174.4L462.0,172.3L463.8,170.5L473.7,162.5L482.1,154.0L491.5,143.1L495.5,141.9L501.4,136.4L506.0,133.6L507.3,131.6L507.5,129.6L506.3,127.5L501.5,125.5L499.9,123.4L501.4,122.1L503.4,121.3L511.3,120.9L519.2,116.7L520.8,115.3L522.2,113.3L525.0,107.1L529.2,103.1L533.1,96.0L537.0,91.9L541.0,86.2L544.4,82.7L545.7,80.7L546.4,78.6L530.9,78.6L530.3,80.7L529.1,82.9L525.1,86.9L521.2,92.0L517.2,96.0L513.3,102.8L511.3,104.1L509.3,102.8L508.3,101.0L507.7,99.0L507.0,92.9L506.3,90.8L505.4,89.4L503.4,87.6L501.4,88.0L497.5,89.6L495.5,90.1L493.5,89.9L491.5,90.3L489.8,92.9L489.8,94.9L491.5,96.8L495.5,96.8L497.5,97.5L499.2,99.0L499.6,101.0L498.6,103.1L497.5,104.1L491.5,106.7L491.1,107.1L490.2,109.2L489.8,111.2L489.3,117.3L488.8,119.4L487.9,121.4L486.2,123.4L486.1,125.5L487.6,127.0L491.5,130.0L492.9,131.6L493.1,133.6L487.6,139.4L485.6,140.0L479.6,141.0L475.7,144.0L467.8,152.5L463.8,155.9L461.0,162.2L455.9,167.0L450.0,166.5L444.0,167.2L442.2,166.2L440.1,164.2L438.8,162.2L438.1,159.8L436.1,155.9L434.2,159.8L433.5,162.2L432.2,163.8L430.2,163.8L428.2,163.2L427.4,162.2L426.6,160.1L425.4,154.0L424.3,151.8L422.3,150.9L420.3,150.9L417.8,152.0L416.4,152.3L412.4,151.5L404.5,144.7L403.9,143.8L402.9,141.8L402.4,139.8L402.6,135.7L403.2,133.6L404.5,131.6L408.4,127.6L412.4,125.1L413.6,123.4L411.6,121.4L410.6,119.4L410.4,115.3L410.9,113.3L412.4,111.2L415.0,109.2L416.5,107.1L417.2,105.1L416.4,104.3L412.4,102.2L411.1,101.0L410.5,99.0L411.6,97.0L417.2,92.9L416.5,90.8L415.3,88.8L410.4,83.5L408.4,80.8L407.6,78.6L370.8,78.6L370.1,82.7L369.2,84.7L366.9,87.4L364.9,88.7L361.0,89.5L359.0,90.1L357.0,91.3L355.8,92.9L355.1,94.9L355.9,97.0L357.0,98.0L359.3,99.0L364.9,100.4L365.7,101.0L366.8,103.1L366.1,105.1L364.9,106.0L357.0,108.4L356.1,109.2L356.1,111.2L357.0,112.3L359.0,113.5L361.0,114.2L364.9,114.9L366.2,117.3L367.5,123.4L368.9,126.9L370.9,128.4L372.8,129.4L376.8,128.2L378.8,128.6L380.8,129.7L382.2,131.6L382.8,133.6L382.8,135.7L382.1,137.7L379.6,141.8L378.4,145.9L376.8,149.0L372.8,141.4L370.9,141.2L368.9,141.8L367.8,143.8L366.0,152.0L364.9,153.9L359.0,154.1L357.0,154.5L355.0,155.3L353.1,156.6L351.6,160.1L350.6,166.2L349.9,168.3L349.1,169.1L347.1,169.8L343.2,170.3L341.2,172.0L341.2,172.6L343.2,173.7L349.6,176.4L351.0,178.5L350.5,180.5L349.1,182.3L347.1,183.4L345.1,183.7L341.2,183.2L339.2,183.3L337.2,184.0L335.7,186.6L335.2,188.6L335.3,190.7L336.1,192.7L337.2,193.6L339.2,193.6L345.1,191.8L346.3,192.7L347.1,194.8L346.6,196.8L345.1,198.6L339.2,198.1L337.2,198.2L335.3,198.8L333.3,199.9L332.5,200.9L331.5,202.9L331.2,204.9L331.3,207.0L331.9,209.0L333.3,211.0L337.2,213.9L339.2,214.9L341.2,215.7L345.1,216.1L346.6,219.2L347.9,225.3L349.1,227.9L351.1,230.0L353.1,231.2L357.0,231.7L359.0,233.0L361.0,234.8L362.2,237.5L363.8,245.7L364.3,253.8L363.4,257.9L362.2,260.0L359.0,263.1L354.8,268.1L347.1,276.0L343.2,279.0L339.2,285.0L333.6,290.5L329.3,293.5L325.4,293.9L324.0,296.6L321.9,302.8L321.4,303.6L319.4,305.1L317.5,305.8L315.5,304.9L313.5,303.3L309.5,295.9L305.6,304.7L299.7,304.9L297.7,305.4L293.7,307.0L292.1,308.9L291.7,310.9L292.5,312.9L295.0,315.0L295.5,317.0L292.8,321.1L292.3,323.1L292.6,325.2L293.5,327.2L293.7,329.2L293.5,331.3L292.8,333.3L291.7,335.4L288.2,339.4L284.0,345.5L281.9,347.2L279.9,346.5L273.9,342.7L272.0,341.8L270.0,341.5L266.0,343.1L260.1,340.5L258.1,340.0L254.2,341.2L250.2,341.0L244.3,339.6L242.3,339.5L240.3,340.0L238.3,341.2L236.4,341.5L234.4,341.4L230.4,340.1L228.4,340.2L226.5,341.0L224.8,343.5L224.4,345.5L225.0,347.6L226.5,349.5L228.4,350.6L234.4,351.7L236.2,353.7L236.2,355.7L234.4,357.7L230.4,358.7L229.1,359.8L228.4,361.8L228.8,363.9L230.4,365.9L236.4,367.1L238.3,368.2L239.7,370.0L238.3,372.0L234.4,374.4L232.7,376.1L233.4,378.1L234.4,379.0L239.3,382.2L240.3,384.2L239.6,386.3L235.8,390.4L226.5,399.1L223.4,404.6L222.5,405.7L218.6,407.2L216.3,408.7L214.6,410.5L212.6,413.7L208.7,417.5L204.7,424.9L200.7,429.1L196.8,435.3L194.8,437.2L190.9,436.7L186.9,437.2L186.9,451.5ZM242.3,364.8L241.5,363.9L240.5,361.8L242.3,359.6L244.1,361.8L243.3,363.9L242.3,364.8ZM256.1,350.0L254.2,349.2L252.7,347.6L254.2,346.2L255.6,345.5L258.1,344.9L259.7,345.5L261.4,347.6L260.1,349.7L258.1,350.3L256.1,350.0ZM364.9,229.8L363.1,227.4L363.8,225.3L364.9,224.6L366.0,225.3L366.8,227.4L364.9,229.8ZM380.8,243.0L379.0,241.6L380.0,239.6L380.8,239.1L381.5,239.6L382.5,241.6L380.8,243.0ZM392.6,233.5L390.6,232.9L388.7,231.7L387.4,231.4L384.7,231.4L380.8,232.0L378.8,231.5L376.8,230.5L375.9,229.4L374.9,227.4L376.1,225.3L376.8,224.8L380.8,223.7L382.7,224.8L384.7,226.9L386.7,227.3L388.7,227.0L392.6,225.5L394.6,225.7L396.6,226.4L397.4,227.4L398.5,229.4L398.0,231.4L396.6,232.6L392.6,233.5ZM400.5,209.3L399.4,207.0L398.9,204.9L398.6,200.9L398.9,194.8L400.5,190.8L402.5,189.3L404.5,188.3L406.5,187.8L410.4,187.6L412.4,187.9L413.3,188.6L414.4,190.7L414.1,192.7L412.4,194.5L408.4,195.0L406.9,196.8L408.4,198.2L412.4,198.3L413.2,198.8L414.3,200.9L413.7,202.9L410.4,207.2L408.4,208.9L402.5,209.7L400.5,209.3ZM414.4,164.5L412.4,164.1L410.6,162.2L410.6,160.1L412.4,158.2L414.4,157.7L416.4,157.7L417.1,158.1L418.3,159.9L418.5,162.2L416.4,164.3L414.4,164.5ZM424.3,172.6L422.3,171.9L420.8,170.3L421.1,168.3L422.3,166.5L424.3,165.3L426.5,168.3L426.5,170.3L424.3,172.6ZM446.0,177.4L444.6,176.4L445.5,174.4L446.0,174.2L448.0,173.9L449.9,174.4L451.3,176.4L450.0,177.4L448.0,178.1L446.0,177.4ZM372.8,112.3L371.6,111.2L371.4,109.2L372.8,108.0L374.3,109.2L374.0,111.2L372.8,112.3ZM351.1,211.3L349.1,209.3L347.4,207.0L347.2,204.9L348.0,202.9L349.1,201.5L351.1,200.7L353.1,200.6L354.7,202.9L355.0,204.5L355.2,207.0L354.9,209.0L354.0,211.1L353.1,212.3L351.1,211.3ZM242.3,349.0L240.8,347.6L241.6,345.5L242.3,345.0L243.1,345.5L243.9,347.6L242.3,349.0ZM376.8,217.4L372.8,216.6L364.9,215.7L361.0,214.2L360.0,213.1L359.0,211.1L358.9,209.0L359.7,207.0L361.0,205.3L363.6,202.9L366.8,200.9L368.9,200.1L376.8,202.8L380.8,203.5L381.7,204.9L382.6,209.0L382.6,211.1L381.8,215.1L380.8,216.7L378.8,217.3L376.8,217.4ZM392.6,217.2L390.8,215.1L390.8,213.1L392.6,210.8L394.5,213.1L394.5,215.1L392.6,217.2ZM412.4,178.1L410.6,176.4L411.4,174.4L412.4,173.7L413.4,174.4L414.2,176.4L412.4,178.1ZM372.8,97.8L371.8,97.0L370.9,94.9L371.1,92.9L372.8,90.8L374.8,90.0L376.8,90.2L378.6,92.9L378.8,94.9L378.1,97.0L376.8,98.4L374.8,98.3L372.8,97.8ZM355.0,190.7L353.1,190.6L351.3,188.6L351.8,186.6L353.1,185.2L355.0,185.5L357.0,186.8L358.6,188.6L357.0,190.4L355.0,190.7ZM361.0,166.8L360.3,166.2L359.0,164.2L359.3,162.2L361.0,160.6L362.6,162.2L362.6,164.2L361.0,166.8ZM364.9,190.9L363.2,188.6L362.8,186.6L363.0,184.6L364.0,182.5L364.9,181.8L366.9,181.5L368.9,181.6L372.8,183.5L376.8,183.0L377.4,182.5L378.6,180.5L378.9,178.5L378.8,176.4L377.9,174.4L376.8,173.4L374.8,173.4L372.8,173.7L368.9,178.0L364.9,175.1L364.0,174.4L363.2,172.3L363.6,170.3L364.9,168.3L366.9,166.6L368.9,165.5L374.8,167.1L376.8,167.2L377.6,166.2L378.3,164.2L379.3,158.1L380.1,156.0L380.8,154.7L382.7,153.7L384.7,153.8L388.7,162.3L390.6,163.1L392.6,163.3L393.4,162.2L395.7,154.0L396.6,152.4L398.6,151.7L400.5,151.9L402.3,154.0L402.3,156.0L398.8,160.1L398.5,162.2L399.3,164.2L401.6,166.2L402.5,168.3L402.2,170.3L400.5,172.2L396.6,173.7L390.6,173.4L388.7,173.7L387.9,174.4L386.8,176.4L386.6,178.5L387.1,180.5L388.7,182.2L396.6,179.0L398.2,180.5L398.6,182.5L398.2,184.6L396.6,186.9L394.6,186.8L390.6,186.1L388.7,186.1L386.7,187.2L384.7,188.8L382.7,189.5L380.8,189.7L377.1,188.6L374.8,188.6L372.8,188.9L370.4,190.7L368.9,191.5L366.9,191.4L364.9,190.9ZM386.7,125.7L384.7,125.3L383.2,123.4L384.7,121.6L386.7,121.6L388.7,122.1L390.1,123.4L388.7,125.2L386.7,125.7ZM392.6,141.1L391.5,139.8L390.7,137.7L390.5,135.7L390.6,133.6L391.3,131.6L392.6,129.9L394.0,131.6L394.6,133.6L394.8,135.7L394.5,137.7L393.7,139.8L392.6,141.1ZM400.5,124.8L399.2,123.4L398.5,121.4L398.6,119.4L400.5,117.2L402.4,119.4L402.6,121.4L401.8,123.4L400.5,124.8ZM386.7,113.4L384.7,112.8L383.7,111.2L382.8,107.1L382.9,90.8L383.8,86.8L384.7,85.0L386.7,83.2L388.7,82.6L392.6,87.6L396.6,86.5L398.6,86.2L402.5,86.2L404.5,86.9L406.0,88.8L406.6,90.8L406.5,92.9L405.8,94.9L403.9,97.0L402.6,99.0L402.5,101.0L403.4,103.1L405.7,105.1L406.5,107.2L406.2,109.2L404.5,111.2L402.5,112.1L400.5,112.6L392.6,111.8L388.7,113.4L386.7,113.4ZM341.0,429.1L343.2,430.8L345.1,430.0L346.0,429.1L345.1,427.8L343.2,427.1L341.0,429.1ZM355.7,429.1L357.0,430.8L359.0,429.1L359.3,427.0L358.8,425.0L357.0,423.5L355.3,425.0L355.3,427.0L355.7,429.1ZM342.0,412.8L343.2,414.1L345.1,414.5L346.6,412.8L346.0,410.7L345.1,409.2L343.2,409.8L342.0,412.8ZM355.6,412.8L357.0,414.4L359.0,413.8L360.0,412.8L359.0,409.9L357.0,409.4L355.6,412.8ZM298.2,406.7L299.7,408.3L301.6,406.7L302.1,404.6L301.6,402.6L299.7,400.9L298.2,402.6L297.5,404.6L298.2,406.7ZM265.6,372.0L266.0,372.2L268.0,371.4L269.6,370.0L267.9,367.9L266.0,367.4L264.2,367.9L262.4,370.0L264.0,371.4L265.6,372.0ZM242.0,327.2L242.3,327.4L242.6,327.2L244.2,325.2L243.5,323.1L242.3,322.3L241.4,323.1L240.7,325.2L242.0,327.2ZM256.9,325.2L258.1,326.3L260.1,325.7L261.0,325.2L261.6,323.1L260.1,322.2L258.1,321.7L256.4,323.1L256.9,325.2ZM240.7,310.9L242.3,312.3L244.3,312.7L246.2,312.7L247.7,310.9L246.2,309.0L244.3,308.5L242.3,308.8L240.7,310.9ZM256.5,310.9L258.1,312.3L261.3,310.9L260.9,308.9L258.1,307.8L257.1,308.9L256.5,310.9ZM525.8,306.8L527.1,308.1L529.1,308.7L531.2,306.8L531.6,304.8L531.3,302.8L529.1,300.8L527.1,301.3L525.8,302.8L525.6,304.8L525.8,306.8ZM455.9,296.6L457.9,295.7L458.6,294.6L457.9,293.0L455.9,292.5L453.9,294.0L453.6,294.6L453.9,295.4L455.9,296.6ZM560.1,276.3L562.7,276.3L564.7,275.4L565.7,274.2L566.0,272.2L565.8,270.1L564.7,268.9L562.7,268.1L560.7,268.0L558.8,268.8L557.5,270.1L557.0,272.2L556.9,274.2L558.8,275.9L560.1,276.3ZM471.1,237.5L473.7,238.5L475.7,238.5L478.2,237.5L478.8,235.5L478.7,233.5L477.7,230.8L475.7,229.4L473.7,229.2L471.7,229.6L469.8,231.1L468.6,233.5L469.3,235.5L471.1,237.5ZM565.8,213.1L566.7,214.0L568.7,214.6L570.1,213.1L568.7,211.4L566.7,211.9L565.8,213.1ZM372.1,211.1L372.8,211.4L373.5,211.1L374.9,209.0L374.4,207.0L372.8,206.3L371.7,207.0L370.8,209.0L372.1,211.1ZM429.6,194.8L432.2,196.0L434.2,195.0L435.9,192.7L436.4,190.7L436.1,188.6L434.7,186.6L434.2,186.3L432.2,185.6L430.2,185.5L428.2,186.0L427.9,186.6L427.3,188.6L427.3,190.7L427.9,192.7L429.6,194.8ZM359.7,135.7L361.0,137.0L362.9,137.3L364.9,137.1L366.4,135.7L366.8,133.6L364.9,131.3L362.9,131.1L361.0,131.5L359.2,133.6L359.7,135.7ZM390.9,103.1L392.6,105.0L394.6,104.9L396.6,104.4L397.9,103.1L398.6,101.0L398.6,99.0L397.8,97.0L396.6,95.8L394.6,95.7L392.6,96.0L391.5,97.0L390.7,99.0L390.5,101.0L390.9,103.1ZM451.1,94.9L452.0,95.8L453.2,94.9L453.6,92.9L452.0,91.4L450.5,92.9L451.1,94.9Z"/>
<path fill="#7fff00" stroke="#7fff00" stroke-width="0.6" d="M234.4,486.1L249.3,486.1L251.6,482.1L249.1,478.0L250.2,475.5L252.2,473.8L258.1,472.5L262.5,469.8L264.7,465.8L266.0,464.2L270.6,459.6L275.9,455.1L281.3,449.4L283.8,447.6L285.8,447.3L287.8,447.9L289.6,449.4L292.0,453.5L293.7,455.2L295.7,454.4L297.7,452.0L299.8,451.5L301.6,452.1L303.1,453.5L304.3,457.6L305.6,458.3L307.6,459.1L313.5,460.1L315.5,460.6L317.4,461.7L320.6,465.8L321.5,469.8L323.4,471.5L325.7,469.8L327.1,465.8L329.4,461.7L331.3,455.1L331.6,449.4L333.3,448.1L335.3,447.4L337.2,447.3L339.2,447.9L340.9,449.4L340.3,453.5L341.2,457.6L343.2,459.5L345.1,459.1L346.3,457.6L346.4,455.6L346.2,453.5L344.4,449.4L345.4,447.4L349.1,443.9L351.1,444.4L353.0,447.4L353.8,449.4L352.8,453.5L353.5,457.6L355.0,459.3L357.0,459.4L358.9,457.6L359.6,455.6L359.9,453.5L359.0,449.4L362.0,443.3L362.5,441.3L362.0,437.2L362.2,435.2L362.8,433.1L364.9,432.0L372.8,430.0L374.5,429.1L375.5,427.0L376.2,420.9L375.4,416.8L375.4,414.8L376.4,406.7L376.8,398.5L376.5,396.5L374.8,395.5L370.9,394.6L366.9,394.2L364.9,393.7L362.9,392.8L360.6,388.3L361.5,386.3L363.8,384.2L372.8,380.7L376.4,378.1L378.4,376.1L379.0,374.1L379.0,372.0L377.1,367.9L377.2,365.9L378.1,363.9L384.7,360.8L386.1,359.8L384.1,357.8L381.2,355.7L379.1,353.7L377.8,351.6L379.5,349.6L387.2,343.5L388.2,339.4L392.2,335.4L397.3,331.3L401.4,327.2L404.4,321.1L406.5,319.2L408.4,318.7L412.4,318.4L416.4,318.4L419.1,319.0L420.3,319.8L422.0,323.1L421.9,327.2L422.4,329.2L423.4,331.3L424.3,331.8L432.2,334.2L438.1,336.8L446.0,338.2L448.4,339.4L451.0,343.5L453.9,344.9L457.9,345.5L465.8,345.6L469.8,346.1L471.7,346.7L475.7,349.3L478.2,347.6L480.1,345.5L481.4,343.5L482.6,335.4L483.6,334.6L484.6,335.4L485.6,343.5L487.6,345.3L489.5,345.7L491.5,345.4L494.3,343.5L494.6,337.4L495.2,335.4L495.5,335.1L497.5,334.6L501.4,335.2L503.4,334.8L506.2,333.3L508.2,331.3L510.1,327.2L510.3,323.1L511.0,321.1L512.5,319.0L515.3,317.7L521.2,316.4L523.2,315.6L525.1,314.0L527.1,313.0L529.1,312.9L531.1,313.3L533.0,315.0L536.2,319.0L537.6,325.2L539.0,327.2L540.0,325.2L540.7,319.0L541.2,317.0L541.9,315.0L542.9,313.6L544.9,314.1L545.9,315.0L548.2,325.2L548.9,326.6L550.9,327.8L552.8,327.6L553.4,327.2L554.8,324.8L555.8,319.0L556.8,317.7L558.8,317.4L560.3,319.0L561.3,321.1L562.7,325.6L564.0,327.2L564.7,327.6L566.7,327.9L568.7,327.3L570.1,325.2L571.5,317.0L572.7,315.0L574.6,313.5L576.6,313.6L578.1,315.0L579.9,319.0L580.1,323.1L580.5,324.5L582.5,326.3L582.5,296.7L578.5,297.5L576.6,298.3L573.9,300.7L572.7,302.8L571.3,308.9L570.2,310.9L568.7,312.1L566.7,312.8L564.7,312.1L563.7,310.9L562.7,308.5L561.3,302.8L560.7,302.0L558.8,300.8L556.8,301.5L555.9,302.8L553.6,310.9L552.8,311.8L550.9,311.8L549.8,310.9L548.7,308.9L548.0,306.8L547.3,302.8L544.9,301.4L539.0,300.1L535.7,298.7L534.1,296.6L533.2,294.6L534.4,290.5L534.0,288.5L533.0,286.4L531.1,285.0L529.1,284.3L527.0,284.4L525.1,285.0L521.2,287.6L517.2,288.9L514.2,290.5L521.5,294.6L521.8,296.6L521.2,298.7L519.2,299.7L511.3,301.7L509.5,302.8L509.3,308.9L508.9,310.9L508.1,312.9L506.8,315.0L503.4,316.5L497.5,317.5L495.5,318.2L494.7,319.0L494.0,321.1L493.5,325.1L491.8,327.2L491.3,327.2L490.2,325.2L487.6,318.5L485.6,317.1L483.6,317.6L481.8,319.0L480.8,321.1L480.5,323.1L481.0,327.2L480.9,329.2L480.2,331.3L477.7,332.9L475.7,333.4L473.7,333.3L471.7,332.4L470.8,331.3L470.9,329.2L472.6,323.1L471.7,321.9L469.8,321.1L467.8,321.6L466.0,323.1L466.6,329.2L466.5,331.3L465.9,333.3L464.8,335.4L463.8,336.1L461.8,337.2L459.9,337.5L457.9,337.4L455.9,336.8L454.0,335.4L451.2,331.3L450.2,329.2L449.5,327.2L449.0,323.1L446.0,321.7L440.1,320.3L437.6,319.0L435.6,317.0L434.4,315.0L433.9,310.9L430.9,306.8L428.2,305.5L418.3,303.7L412.4,303.4L410.4,303.7L407.5,304.8L398.8,312.9L395.1,317.0L392.6,319.3L390.9,321.1L388.0,325.2L382.2,329.2L376.5,335.4L373.9,339.4L373.5,343.5L370.9,344.9L364.9,347.0L364.1,347.6L362.7,349.6L362.0,351.6L362.8,353.7L364.4,355.7L371.6,359.8L363.1,363.9L362.8,370.0L362.4,372.0L360.8,376.1L359.0,377.7L357.0,378.2L355.0,377.4L353.1,374.8L351.1,374.3L347.1,377.1L345.1,377.5L343.2,377.2L341.2,376.4L339.2,376.1L337.2,376.4L335.3,377.0L333.3,378.2L329.3,381.8L323.4,386.1L321.8,388.3L322.4,390.4L326.2,396.5L327.0,398.5L327.3,400.5L325.7,404.6L328.3,410.7L328.8,412.8L327.6,416.8L327.8,420.9L329.2,427.0L329.3,429.1L328.7,431.1L327.6,433.1L327.3,435.2L327.4,437.2L328.7,441.3L328.6,443.3L327.8,445.4L325.4,447.1L323.4,447.5L321.4,446.9L319.5,445.4L318.5,443.3L317.4,437.2L315.5,435.4L313.5,435.4L311.6,437.2L310.6,441.3L309.5,442.6L307.6,443.4L305.6,443.0L303.6,441.3L302.4,435.2L301.4,433.1L299.7,431.7L297.7,433.1L295.4,437.2L293.7,439.0L291.7,438.2L290.9,437.2L287.8,432.1L285.8,431.2L283.8,431.8L279.9,435.7L271.4,445.4L266.0,448.5L265.0,449.4L263.5,453.5L262.1,455.9L260.3,457.6L257.2,459.6L253.5,463.7L246.3,467.8L242.3,471.9L236.3,475.9L234.4,478.0L234.9,482.1L234.4,486.1ZM333.3,437.4L333.3,437.0L335.3,435.3L337.2,436.2L337.9,437.2L337.2,438.2L335.3,439.1L333.3,437.4ZM341.2,429.4L341.0,429.1L341.2,428.8L343.2,427.1L345.1,427.8L346.0,429.1L345.1,430.0L343.2,430.8L341.2,429.4ZM349.1,438.1L348.4,437.2L347.9,435.2L348.0,433.1L349.1,432.0L351.1,431.1L352.9,433.1L352.8,435.2L352.2,437.2L351.1,438.6L349.1,438.1ZM357.0,430.8L355.7,429.1L355.3,427.0L355.3,425.0L357.0,423.5L358.8,425.0L359.3,427.0L359.0,429.1L357.0,430.8ZM362.9,421.4L362.4,420.9L362.4,418.9L363.2,416.8L364.9,415.4L366.9,415.6L367.8,416.8L368.3,420.9L366.9,422.6L364.9,422.8L362.9,421.4ZM428.2,326.8L426.8,325.2L426.3,323.1L428.2,321.2L430.2,321.2L432.9,323.1L432.0,325.2L430.2,326.7L428.2,326.8ZM497.5,325.7L496.8,323.1L497.5,322.1L499.0,323.1L498.0,325.2L497.5,325.7ZM527.1,308.1L525.8,306.8L525.6,304.8L525.8,302.8L527.1,301.3L529.1,300.8L531.3,302.7L531.6,304.8L531.2,306.8L529.1,308.7L527.1,308.1ZM335.3,421.4L334.9,420.9L335.3,420.4L337.2,419.2L338.8,420.9L337.2,422.6L335.3,421.4ZM343.2,414.1L342.0,412.8L342.6,410.7L343.2,409.8L345.1,409.2L346.0,410.7L346.6,412.8L345.1,414.5L343.2,414.1ZM351.1,408.9L349.4,406.7L348.9,404.6L351.1,402.7L353.1,403.0L354.3,404.6L353.1,407.9L351.1,408.9ZM357.0,414.4L355.6,412.8L357.0,409.4L359.0,409.9L360.0,412.8L359.0,413.8L357.0,414.4ZM366.9,408.8L364.9,408.5L363.1,406.7L362.3,404.6L362.8,402.6L364.5,400.5L366.9,398.9L368.9,398.4L370.9,398.6L372.6,400.5L370.0,404.6L368.9,407.4L366.9,408.8ZM335.3,408.2L334.2,406.7L333.6,404.6L335.3,402.1L337.2,401.9L339.0,404.6L338.3,406.7L337.2,408.2L335.3,408.2ZM351.1,394.5L349.1,393.7L347.6,392.4L347.3,390.4L347.5,388.3L349.1,386.8L351.1,386.2L353.1,386.3L355.0,387.1L356.0,388.3L355.5,392.4L355.0,393.2L353.1,394.4L351.1,394.5ZM335.3,392.5L333.3,391.2L332.6,390.4L331.9,388.3L333.3,386.3L335.3,384.8L337.2,384.3L339.2,385.1L340.1,386.3L340.8,388.3L340.2,390.4L339.2,391.6L337.6,392.4L335.3,392.5ZM470.6,486.1L476.7,486.1L475.7,484.7L473.7,484.1L471.7,485.0L470.6,486.1ZM483.8,486.1L493.5,486.1L492.4,482.1L491.5,480.9L489.5,480.0L487.6,480.1L485.6,481.1L484.5,482.1L483.8,486.1ZM497.4,486.1L507.0,486.1L505.8,482.1L503.1,478.0L503.2,475.9L503.8,473.9L505.4,472.4L507.3,471.8L509.3,471.7L511.3,472.1L513.3,473.8L513.9,475.9L514.1,478.0L511.6,482.1L512.4,486.1L522.5,486.1L522.2,482.1L521.0,478.0L518.1,473.9L519.2,472.8L524.2,469.8L524.9,467.8L524.7,465.8L523.2,464.5L521.2,463.7L519.2,463.5L517.2,463.9L515.3,465.0L513.3,466.9L511.3,467.8L509.3,467.9L507.3,467.3L505.7,465.8L505.5,463.7L505.9,461.7L507.3,460.7L509.3,460.1L511.3,459.7L519.2,459.4L521.2,459.0L524.2,457.6L525.0,453.5L527.1,450.6L528.8,449.4L523.4,445.4L523.6,443.3L524.8,441.3L527.1,440.2L535.0,438.5L537.0,437.8L539.0,435.4L540.3,433.1L541.7,429.1L542.9,428.2L550.9,426.2L552.8,425.2L552.9,423.0L552.1,420.9L550.9,419.8L548.9,418.9L546.9,419.1L542.9,422.8L541.0,422.4L539.8,420.9L540.2,416.8L539.0,415.6L537.0,414.8L535.0,415.1L533.0,416.8L531.8,418.9L531.0,420.9L529.1,422.7L527.1,423.0L525.1,422.0L523.2,419.6L521.2,418.8L519.2,419.0L517.2,420.3L515.3,422.1L513.3,422.8L511.3,423.2L507.3,422.6L505.4,421.5L503.4,419.4L501.4,419.1L499.4,420.9L499.8,425.0L499.1,433.1L499.3,437.2L497.8,441.3L498.2,443.3L499.2,445.4L499.4,447.4L499.2,449.4L497.9,453.5L498.1,457.6L498.9,463.7L498.8,465.8L497.8,469.8L499.2,473.9L499.2,475.9L497.7,482.1L497.4,486.1ZM509.3,438.0L505.8,433.1L508.1,429.1L509.3,427.7L511.3,427.0L513.3,427.4L514.9,429.1L517.2,433.3L516.4,435.2L513.3,438.6L511.3,439.2L509.3,438.0ZM529.1,435.3L527.1,435.1L525.1,434.1L524.4,433.1L524.3,431.1L524.5,429.1L525.1,428.3L527.1,427.1L529.1,426.9L531.1,427.4L532.8,429.1L533.2,431.1L533.1,433.2L531.1,434.9L529.1,435.3ZM486.1,473.9L487.6,475.3L489.5,475.5L490.9,473.9L491.8,471.9L492.1,469.8L491.5,468.8L489.5,467.8L487.6,467.8L485.6,469.0L484.7,469.8L485.1,471.9L486.1,473.9ZM489.1,459.6L491.5,459.1L492.7,457.6L493.4,453.5L491.5,451.7L489.5,451.4L487.6,451.7L485.1,453.5L484.9,455.6L485.5,457.6L487.6,459.3L489.1,459.6ZM531.4,453.5L533.1,455.3L535.0,455.5L537.3,453.5L535.3,451.5L533.1,451.0L531.9,451.5L531.4,453.5ZM369.0,443.3L370.9,443.4L372.8,442.9L374.6,441.3L374.5,439.3L373.7,437.2L370.9,435.2L368.9,435.5L367.5,437.2L366.8,439.3L366.5,441.3L366.9,442.1L369.0,443.3ZM489.1,443.3L491.5,443.3L493.7,441.3L493.0,439.3L491.5,436.3L489.5,435.4L487.5,437.2L486.3,439.3L486.0,441.3L487.6,442.9L489.1,443.3ZM474.1,441.3L475.7,442.9L477.3,441.3L475.7,439.8L474.1,441.3ZM546.7,437.2L548.9,439.1L550.9,438.3L551.8,437.2L550.9,436.1L548.9,435.3L546.7,437.2ZM186.9,435.2L186.9,437.2L190.9,436.7L194.8,437.2L196.9,435.2L200.7,429.1L204.7,425.0L208.7,417.5L212.6,413.7L214.6,410.5L216.3,408.7L218.6,407.2L222.5,405.7L223.4,404.6L226.5,399.1L235.8,390.4L239.6,386.3L240.3,384.2L239.3,382.2L234.4,379.0L233.4,378.1L232.7,376.1L234.4,374.4L238.3,372.0L239.7,370.0L238.3,368.2L236.4,367.1L230.4,365.9L228.8,363.9L228.4,361.8L229.1,359.8L230.4,358.7L234.4,357.7L236.2,355.7L236.2,353.7L234.4,351.7L228.4,350.6L226.5,349.5L225.0,347.6L224.4,345.5L224.8,343.5L226.5,341.0L228.4,340.2L230.4,340.1L234.4,341.4L236.4,341.5L238.3,341.2L240.3,340.0L242.3,339.5L244.3,339.6L250.2,341.0L254.2,341.2L258.1,340.0L260.1,340.5L266.0,343.1L270.0,341.5L272.0,341.8L273.9,342.7L279.9,346.5L281.9,347.2L284.0,345.5L288.2,339.4L291.7,335.4L292.8,333.3L293.5,331.3L293.7,329.2L293.5,327.2L292.6,325.2L292.3,323.1L292.8,321.1L295.5,317.0L295.0,315.0L292.5,312.9L291.7,310.9L292.1,308.9L293.7,307.0L297.7,305.4L299.7,304.9L305.6,304.7L309.5,295.9L313.5,303.3L315.5,304.9L317.5,305.8L319.4,305.1L321.4,303.6L321.9,302.8L324.0,296.6L325.4,293.9L329.3,293.5L333.3,290.8L339.2,285.0L343.2,279.0L347.1,276.0L348.9,274.2L351.1,271.6L355.0,267.9L362.9,258.9L364.0,255.9L364.3,253.8L364.0,247.7L362.2,237.5L361.0,234.8L359.0,233.0L357.0,231.7L353.1,231.2L351.1,230.0L349.1,227.9L347.9,225.3L346.6,219.2L345.1,216.1L341.2,215.7L339.2,214.9L337.2,213.9L333.3,211.0L331.9,209.0L331.3,207.0L331.2,204.9L331.5,202.9L332.5,200.9L333.3,199.9L335.3,198.8L337.2,198.2L339.2,198.1L345.1,198.6L346.6,196.8L347.1,194.8L346.3,192.7L345.1,191.8L339.2,193.6L337.2,193.6L336.1,192.7L335.3,190.7L335.2,188.6L335.7,186.6L337.2,184.0L339.2,183.3L341.2,183.2L345.1,183.7L347.1,183.4L349.1,182.3L350.5,180.5L351.0,178.5L349.6,176.4L343.2,173.7L341.2,172.6L341.2,172.0L343.2,170.3L347.1,169.8L349.1,169.1L349.9,168.3L350.6,166.2L351.6,160.1L353.1,156.6L355.0,155.3L357.0,154.5L359.0,154.1L364.9,153.9L366.0,152.0L367.8,143.8L368.9,141.8L370.9,141.2L372.8,141.4L376.8,149.0L378.4,145.9L379.6,141.8L382.1,137.7L382.7,135.8L382.8,133.6L382.2,131.6L380.8,129.7L378.8,128.6L376.8,128.2L372.8,129.4L370.9,128.4L368.9,126.9L367.5,123.4L366.2,117.3L364.9,114.9L361.0,114.2L359.0,113.5L357.0,112.3L356.1,111.2L356.1,109.2L357.0,108.4L364.9,106.0L366.1,105.1L366.8,103.1L365.7,101.0L364.9,100.4L359.3,99.0L357.0,98.0L355.9,97.0L355.1,94.9L355.8,92.9L357.0,91.3L359.0,90.1L364.9,88.7L366.9,87.4L369.2,84.7L370.1,82.7L370.8,78.6L342.1,78.6L343.8,80.7L345.1,81.1L349.1,81.3L353.1,83.1L354.4,84.7L354.5,86.8L353.1,88.7L351.1,90.0L343.2,91.4L341.1,92.9L340.5,94.9L340.8,97.0L341.2,97.7L342.7,99.0L347.1,100.5L349.1,101.5L350.7,103.1L350.4,105.1L349.1,106.2L343.6,107.1L341.2,108.6L340.8,109.2L340.6,111.2L341.8,113.3L343.2,114.0L353.1,116.3L353.9,117.3L354.4,119.4L353.1,120.5L351.1,121.2L349.1,121.7L343.2,122.4L341.2,123.4L343.2,124.9L349.1,126.4L353.1,129.6L354.7,131.6L355.1,133.6L354.9,135.7L354.0,137.7L352.5,139.8L351.7,141.8L350.4,147.9L349.1,150.7L347.1,152.2L345.1,153.0L341.2,153.2L337.2,155.2L335.3,157.2L333.8,160.1L333.5,162.2L334.0,166.2L333.5,168.3L333.3,168.6L331.3,169.2L325.4,169.5L323.6,172.3L323.3,174.4L323.6,176.4L325.4,178.4L333.3,179.5L334.0,180.5L333.3,181.5L325.4,182.8L323.4,184.2L321.4,186.1L319.7,188.6L322.3,192.7L322.9,194.8L323.4,198.8L323.4,207.0L324.0,211.1L325.4,214.1L329.3,216.8L330.5,219.2L331.9,227.4L334.4,233.5L336.7,241.6L337.2,242.5L339.2,243.6L341.2,244.1L345.1,243.9L348.4,245.7L349.1,246.9L349.7,249.8L349.8,253.8L349.5,257.9L348.9,260.0L347.1,262.1L341.2,265.1L337.2,269.4L333.3,274.6L329.3,278.8L325.4,279.9L319.4,287.7L317.5,289.4L315.5,288.1L313.5,285.9L311.5,283.0L309.5,280.9L308.6,282.4L305.6,289.2L303.6,290.1L301.6,290.2L297.7,288.3L295.7,288.3L293.7,288.8L291.7,291.0L289.2,294.6L285.8,303.9L283.8,306.2L281.9,307.2L277.5,304.8L276.6,302.8L276.2,300.7L275.8,296.6L274.9,292.6L273.9,290.8L272.0,290.5L264.0,290.9L256.1,291.9L254.2,292.0L250.2,291.1L246.2,291.4L244.3,291.8L242.3,292.9L241.4,294.6L239.5,302.8L238.3,304.9L236.4,305.6L234.4,305.7L230.4,305.3L228.4,305.7L222.5,308.8L218.6,308.0L216.6,308.2L214.6,308.9L212.9,310.9L212.9,312.9L214.6,314.5L218.6,315.2L222.5,314.2L224.5,315.1L227.4,317.0L227.9,319.0L224.5,322.8L222.5,323.9L218.6,322.0L216.6,321.8L214.6,322.0L213.1,323.1L212.8,325.2L214.6,327.2L218.6,328.1L222.5,327.5L224.0,329.2L224.6,331.3L224.5,333.3L223.8,335.4L222.5,337.1L217.1,337.4L210.6,339.3L206.7,341.7L202.7,343.1L201.1,345.5L202.7,347.5L206.7,348.4L210.6,351.7L211.7,353.7L212.2,355.7L213.2,361.8L213.9,363.9L214.6,365.2L218.6,366.4L219.9,367.9L220.5,369.9L220.1,372.0L217.7,374.1L217.0,376.1L218.6,377.9L222.5,380.3L224.0,382.2L224.6,384.2L224.3,386.3L222.5,388.9L217.0,394.4L212.6,399.9L208.2,404.6L206.7,406.0L202.7,408.3L200.1,412.8L198.8,418.9L197.2,420.9L194.8,422.0L190.9,419.5L186.9,421.9L186.9,435.2ZM234.4,335.5L232.6,333.3L233.4,331.3L234.4,330.6L235.3,331.3L236.2,333.3L234.4,335.5ZM242.3,327.4L240.7,325.2L241.4,323.1L242.3,322.3L243.5,323.1L244.2,325.2L242.3,327.4ZM250.2,333.7L249.7,333.3L248.6,331.3L250.2,329.6L251.8,331.3L250.7,333.3L250.2,333.7ZM258.1,326.3L256.9,325.2L256.4,323.1L258.1,321.7L260.1,322.2L261.6,323.1L261.0,325.2L258.1,326.3ZM264.0,334.4L262.6,333.3L262.5,331.3L264.0,330.1L266.0,329.5L268.7,331.3L268.5,333.3L268.0,333.8L266.0,335.0L264.0,334.4ZM279.9,336.0L279.1,335.4L277.8,333.3L277.7,331.3L278.7,329.2L279.9,328.3L281.9,327.6L283.8,328.3L285.0,329.2L285.7,331.3L285.2,333.3L283.8,335.4L281.9,336.8L279.9,336.0ZM343.2,166.5L342.7,166.2L343.2,165.7L345.1,164.6L346.1,166.2L345.1,166.9L343.2,166.5ZM361.0,137.0L359.7,135.7L359.2,133.6L361.0,131.5L362.9,131.1L364.9,131.3L366.8,133.6L366.4,135.7L364.9,137.1L362.9,137.3L361.0,137.0ZM343.2,239.1L341.6,237.5L341.7,235.5L343.2,233.6L345.1,232.7L347.1,235.5L347.0,237.5L345.1,239.5L343.2,239.1ZM234.4,319.8L233.5,319.0L233.0,317.0L234.4,315.8L236.4,315.3L238.3,315.2L240.3,317.0L239.5,319.0L238.3,320.2L236.4,320.3L234.4,319.8ZM242.3,312.3L240.7,310.9L242.3,308.8L244.3,308.5L246.2,309.0L247.7,310.9L246.2,312.7L244.3,312.7L242.3,312.3ZM250.2,305.4L248.4,302.8L248.6,300.7L250.2,299.3L254.2,299.8L255.4,300.7L255.6,302.8L254.2,304.5L252.2,305.4L250.2,305.4ZM258.1,312.3L256.5,310.9L257.1,308.9L258.1,307.8L260.9,308.9L261.3,310.9L258.1,312.3ZM266.0,319.3L264.0,318.7L261.9,317.0L262.9,315.0L266.0,313.7L267.6,315.0L267.9,317.0L266.0,319.3ZM277.9,320.6L276.6,319.0L275.9,317.1L276.0,315.0L277.1,312.9L277.9,312.4L279.9,312.0L281.9,312.0L283.0,312.9L283.9,315.0L283.9,317.0L283.4,319.0L281.9,320.7L279.9,320.9L277.9,320.6ZM266.0,305.5L264.0,304.6L262.3,302.8L262.0,300.7L263.4,298.7L266.0,297.5L270.0,294.8L271.8,296.6L272.1,298.7L271.6,300.7L270.0,303.1L268.3,304.8L266.0,305.5ZM487.6,429.1L489.5,430.9L491.5,430.6L492.7,429.1L493.5,424.8L491.5,423.0L489.5,423.1L487.6,424.4L486.9,425.0L486.9,427.0L487.6,429.1ZM382.6,425.0L384.7,426.9L387.1,425.0L384.7,423.2L382.6,425.0ZM562.5,425.0L562.7,425.5L564.7,426.2L565.8,425.0L564.7,423.7L562.7,424.5L562.5,425.0ZM521.1,414.8L523.2,414.8L526.0,412.8L525.3,410.7L523.2,408.9L521.2,409.0L519.1,410.7L518.1,412.8L519.2,413.9L521.1,414.8ZM548.0,414.8L548.9,415.0L550.9,414.6L552.8,412.8L552.2,410.7L550.9,409.2L548.6,408.7L546.9,409.2L545.3,410.7L544.5,412.8L546.9,414.6L548.0,414.8ZM560.3,412.8L560.7,413.5L562.7,414.8L564.7,414.7L567.2,412.8L566.4,410.7L564.7,409.0L562.7,408.8L560.8,410.7L560.3,412.8ZM532.0,406.7L533.1,408.0L535.0,408.7L537.0,407.6L537.8,406.7L538.4,404.6L537.0,403.3L535.0,402.5L533.1,403.0L531.5,404.6L532.0,406.7ZM534.6,398.5L535.0,398.6L537.0,397.8L538.0,396.5L537.0,395.1L535.0,394.4L533.1,394.8L531.4,396.5L533.1,398.1L534.6,398.5ZM548.2,398.5L550.9,398.4L553.0,396.5L552.6,394.4L551.7,392.4L550.9,391.3L548.9,390.5L546.9,391.5L545.9,392.4L545.1,394.4L545.0,396.5L546.9,398.2L548.2,398.5ZM561.9,398.5L564.7,398.5L566.7,397.7L568.1,396.5L567.1,394.4L565.0,392.4L562.7,390.9L559.9,394.4L558.8,396.5L560.7,398.3L561.9,398.5ZM581.7,380.2L582.5,380.6L582.5,379.8L581.7,380.2ZM564.3,378.1L566.7,377.6L568.3,376.1L568.1,374.1L567.4,372.0L566.7,371.2L564.7,370.1L562.7,370.7L561.4,372.0L560.9,374.1L561.0,376.1L562.7,377.8L564.3,378.1ZM547.5,376.1L548.9,377.6L550.9,377.6L551.9,376.1L550.9,374.6L548.9,374.6L547.5,376.1ZM581.8,372.0L582.5,372.4L582.5,371.6L581.8,372.0ZM496.9,306.8L497.5,307.5L499.4,308.8L501.4,308.6L502.9,306.8L501.4,305.2L499.4,305.2L496.9,306.8ZM229.7,300.7L230.4,301.2L232.4,300.8L234.4,300.1L236.0,298.7L236.3,296.6L234.4,293.7L232.4,292.9L230.4,292.7L228.9,294.6L228.3,296.6L228.5,298.7L229.7,300.7ZM246.0,284.4L246.4,284.4L248.0,282.4L246.2,279.9L244.4,282.4L246.0,284.4ZM525.5,276.3L529.2,276.3L531.1,275.6L532.7,274.2L531.1,272.8L529.2,272.2L525.1,272.2L523.2,273.1L521.8,274.2L523.2,275.4L525.5,276.3ZM455.6,266.1L457.9,267.3L459.9,267.8L463.8,268.1L469.8,267.7L473.6,266.1L475.1,264.0L476.1,262.0L476.5,260.0L476.7,255.9L476.4,253.8L475.7,252.9L473.7,251.8L471.7,252.1L470.0,253.8L469.5,257.9L467.8,259.5L466.4,257.9L466.3,253.8L465.8,253.0L463.8,251.9L461.8,252.6L457.7,255.9L456.0,257.9L455.2,264.0L455.6,266.1ZM522.8,264.0L527.1,264.0L529.1,263.3L531.0,262.0L535.0,257.9L537.4,253.8L539.0,252.6L541.0,254.6L542.9,255.7L546.9,255.9L548.9,255.4L550.9,253.9L552.8,251.2L554.8,249.6L556.8,248.9L557.6,249.8L559.6,253.8L560.7,255.2L562.7,255.8L564.7,254.7L568.7,248.9L570.6,249.6L572.6,250.8L577.8,255.9L580.4,257.9L582.5,258.8L582.5,211.1L578.5,210.7L576.6,210.2L574.4,209.0L573.0,204.9L570.8,200.9L570.2,194.8L570.3,192.7L573.6,188.6L576.6,187.3L578.5,186.9L582.5,186.6L582.5,182.5L580.5,182.5L576.6,181.5L574.4,180.5L573.9,178.5L574.7,176.4L578.5,174.8L582.5,174.4L582.5,154.8L581.0,154.0L579.3,152.0L580.8,149.9L582.5,149.1L582.5,131.8L580.5,132.4L578.4,133.6L574.5,137.7L569.5,141.8L565.6,145.9L559.1,149.9L557.7,152.0L559.1,154.0L560.7,155.0L562.7,155.7L568.7,156.4L570.6,157.2L572.0,158.1L573.8,160.1L573.4,162.2L571.8,166.2L571.4,168.3L571.5,170.3L571.2,172.3L568.7,174.1L566.7,174.1L564.9,172.3L564.9,168.3L564.2,166.2L562.7,164.5L560.7,164.1L558.8,165.1L557.8,166.2L555.2,172.3L554.8,172.7L552.8,173.7L550.9,174.1L544.9,174.7L542.9,175.1L541.0,176.1L539.0,177.9L537.0,178.0L535.5,176.4L532.7,172.3L531.1,170.9L529.1,170.7L523.5,176.4L522.9,178.5L521.9,184.6L519.0,188.6L510.8,196.8L507.5,200.9L501.4,203.8L496.7,209.0L497.2,215.1L496.5,221.2L497.5,223.2L499.4,225.3L501.4,226.7L503.7,227.4L507.5,229.4L503.7,231.4L501.4,232.1L499.9,233.5L499.8,235.5L500.4,237.5L501.4,238.4L503.4,239.3L509.3,240.4L511.5,241.6L512.3,243.7L512.4,245.7L511.0,249.8L511.8,253.8L518.3,262.0L521.2,263.7L522.8,264.0ZM527.1,251.9L525.1,251.4L522.7,249.8L523.4,245.7L521.7,241.6L516.1,237.5L515.0,235.5L515.1,233.5L520.5,229.4L519.5,227.4L517.5,225.3L511.6,221.2L511.3,219.2L511.8,217.2L515.0,213.1L514.4,209.0L520.9,204.9L521.7,200.9L523.3,196.8L527.2,190.7L529.1,188.5L531.1,187.0L533.0,188.6L534.2,190.7L536.7,196.8L537.4,204.9L539.0,206.5L540.4,204.9L541.3,192.7L542.9,191.1L544.9,190.6L546.9,190.8L548.9,192.1L549.3,192.7L549.6,194.8L550.5,204.9L549.2,209.0L550.2,217.2L552.8,219.0L554.8,219.3L556.8,218.6L558.8,216.3L560.7,215.6L562.7,217.2L563.8,219.2L564.3,221.2L563.2,225.3L562.7,226.0L560.7,227.3L558.8,226.8L556.8,224.6L554.8,223.4L552.8,223.1L550.9,223.5L546.9,226.1L539.0,228.1L536.2,229.4L535.0,239.6L535.3,247.7L534.6,249.8L531.1,251.7L527.1,251.9ZM544.9,243.2L543.4,241.6L540.6,237.6L542.0,233.5L542.9,232.1L544.9,231.4L546.9,231.8L548.5,233.5L550.2,237.5L546.9,241.6L544.9,243.2ZM558.8,242.8L557.8,241.6L556.8,239.5L556.2,237.5L556.4,235.5L556.9,233.5L558.8,231.7L560.7,231.4L562.7,232.1L564.0,233.5L564.9,235.5L565.4,237.5L563.0,241.6L560.7,243.5L558.8,242.8ZM566.7,214.0L565.8,213.1L566.7,211.9L568.7,211.4L570.1,213.1L568.7,214.6L566.7,214.0ZM574.6,241.9L573.4,239.6L572.9,237.5L573.4,235.5L574.4,233.5L576.6,231.7L579.0,233.5L579.9,235.5L580.2,237.5L579.9,239.6L579.0,241.6L576.6,243.4L574.6,241.9ZM558.8,211.1L556.8,210.1L556.1,209.0L556.8,207.9L558.6,207.0L560.7,207.3L562.2,209.0L560.7,210.5L558.8,211.1ZM576.6,227.4L574.6,227.0L573.0,225.3L572.7,223.3L572.9,221.2L574.6,219.5L576.6,219.2L578.5,219.9L580.1,221.2L580.2,223.3L579.8,225.3L578.5,226.5L576.6,227.4ZM558.8,203.1L556.8,202.8L554.8,201.6L554.4,200.9L554.6,198.8L556.4,190.7L557.3,188.6L558.8,187.3L563.0,190.7L564.6,192.7L565.2,198.8L565.1,200.9L564.7,201.5L562.7,202.7L558.8,203.1ZM485.9,253.8L487.6,255.7L489.5,254.9L490.2,253.8L489.5,252.8L487.6,252.0L485.9,253.8ZM499.5,253.8L501.4,255.7L503.4,255.7L505.2,253.8L505.7,251.8L505.8,249.8L505.4,249.0L503.4,247.7L501.1,247.7L499.4,249.8L499.2,251.8L499.5,253.8ZM486.6,219.2L487.6,220.7L489.5,219.8L489.8,219.2L490.0,217.2L489.5,215.3L487.6,213.8L486.6,215.1L485.9,217.2L486.6,219.2ZM537.2,213.1L539.0,214.8L540.6,213.1L539.0,211.4L537.2,213.1ZM400.3,209.0L400.5,209.3L402.5,209.7L408.4,208.9L410.4,207.2L413.7,202.9L414.3,200.9L413.2,198.8L412.4,198.3L408.4,198.2L406.9,196.8L408.4,195.0L412.4,194.5L414.1,192.7L414.4,190.7L413.3,188.6L412.4,187.9L410.4,187.6L406.5,187.8L404.5,188.3L402.5,189.3L400.5,190.8L398.9,194.8L398.6,198.8L398.9,204.9L399.4,207.0L400.3,209.0ZM186.9,192.7L186.9,193.9L188.0,192.7L188.9,190.7L188.3,188.6L186.9,187.6L186.9,192.7ZM228.8,188.6L230.4,190.3L231.9,188.6L230.4,187.0L228.8,188.6ZM186.9,178.5L186.9,180.3L190.9,179.6L191.8,178.5L192.8,176.4L192.9,174.4L192.0,172.3L190.9,171.5L186.9,170.3L186.9,178.5ZM199.9,178.5L200.8,179.0L202.7,179.4L203.6,178.5L204.7,176.4L204.7,174.3L203.7,172.3L202.7,171.7L200.8,172.1L198.8,172.9L197.2,174.4L197.4,176.4L198.8,178.0L199.9,178.5ZM214.6,178.5L216.6,179.1L218.6,178.9L220.3,176.4L220.6,174.4L220.3,172.3L218.6,170.4L214.6,171.1L213.1,172.3L212.5,174.4L212.9,176.4L214.6,178.5ZM228.9,176.4L230.4,178.0L232.4,177.7L234.4,176.5L236.1,174.4L235.2,172.3L232.4,170.8L230.4,170.1L230.0,170.3L228.5,172.3L228.3,174.4L228.9,176.4ZM242.4,176.4L244.3,177.1L246.2,177.1L246.8,176.4L248.1,174.4L248.1,172.3L246.4,170.3L244.3,170.5L242.3,171.1L240.8,172.3L240.5,174.4L242.4,176.4ZM410.6,176.4L412.4,178.1L414.2,176.4L413.4,174.4L412.4,173.7L411.4,174.4L410.6,176.4ZM444.6,176.4L446.0,177.4L448.0,178.1L450.0,177.4L451.3,176.4L449.9,174.4L448.0,173.9L445.5,174.4L444.6,176.4ZM186.9,166.2L190.9,166.0L196.8,164.5L198.8,164.5L202.7,165.9L206.7,164.9L208.7,164.7L210.6,164.8L214.6,165.6L218.6,165.8L222.5,164.4L224.5,164.2L226.5,164.5L228.4,165.4L230.4,165.9L234.4,164.3L238.3,164.6L246.2,163.8L250.2,164.2L252.0,162.2L251.7,160.1L249.6,158.1L248.5,156.0L248.0,152.0L248.3,149.9L249.1,147.9L250.8,145.9L252.1,143.8L252.2,141.8L251.4,139.8L249.2,137.7L248.2,135.7L248.4,133.6L250.2,131.7L252.2,130.9L254.2,129.6L255.8,127.5L256.2,125.5L255.4,123.4L254.2,122.2L250.2,122.6L248.8,121.4L248.4,119.4L252.0,115.3L252.2,113.3L251.3,111.2L250.2,109.9L248.2,109.1L246.2,109.0L245.1,111.2L243.8,117.3L243.1,119.4L242.3,120.7L238.3,122.1L236.1,123.4L233.9,125.5L233.1,127.5L231.5,135.7L230.4,138.1L228.4,139.3L226.5,139.5L222.5,133.9L221.4,135.7L218.6,137.9L214.6,138.7L213.2,141.8L212.8,143.8L212.2,154.0L211.6,156.0L210.6,157.5L208.7,157.9L206.7,157.7L205.1,156.0L204.6,154.0L204.7,152.0L205.6,149.9L207.4,147.9L208.5,145.9L208.8,143.8L208.7,141.8L207.9,139.8L206.7,138.2L204.7,138.0L202.7,138.7L199.9,143.8L198.8,144.9L194.8,142.0L190.9,140.8L186.9,140.5L186.9,150.8L190.9,151.7L194.8,149.1L196.8,149.3L198.9,149.9L200.5,152.0L200.9,154.0L200.8,156.0L200.2,158.1L198.8,159.7L196.8,160.3L194.8,160.4L190.9,157.6L186.9,156.4L186.9,166.2ZM236.4,156.2L233.6,154.0L232.5,152.0L233.1,149.9L234.4,148.4L236.4,146.7L238.3,145.8L242.3,148.2L243.9,149.9L244.3,152.0L243.6,154.0L240.3,156.6L238.3,157.6L236.4,156.2ZM238.3,138.4L237.4,137.7L236.4,135.7L236.2,133.6L236.6,131.6L238.3,129.5L240.3,129.4L242.3,129.8L243.9,131.6L244.4,133.6L244.2,135.7L243.0,137.7L242.3,138.3L240.3,138.6L238.3,138.4ZM360.3,166.2L361.0,166.8L362.6,164.2L362.6,162.2L361.0,160.6L359.3,162.2L359.0,164.2L360.3,166.2ZM442.2,166.2L444.0,167.2L450.0,166.5L455.9,167.0L461.0,162.2L463.8,155.9L467.8,152.5L475.7,144.0L479.6,141.0L485.6,140.0L487.6,139.4L493.1,133.6L492.9,131.6L491.5,130.0L487.6,127.0L486.1,125.5L486.2,123.4L487.9,121.4L488.8,119.4L489.3,117.3L489.8,111.2L490.2,109.2L491.1,107.1L491.5,106.7L497.5,104.1L498.6,103.1L499.6,101.0L499.2,99.0L497.5,97.5L495.5,96.8L491.5,96.8L489.8,94.9L489.8,92.9L491.5,90.3L493.5,89.9L495.5,90.1L497.5,89.6L501.4,88.0L503.4,87.6L505.4,89.4L506.3,90.8L507.0,92.9L507.7,99.0L508.3,101.0L509.3,102.8L511.3,104.1L513.3,102.8L517.2,96.0L521.2,92.0L525.1,86.9L529.1,82.9L530.3,80.7L530.9,78.6L514.1,78.6L513.3,80.4L511.3,81.9L509.3,80.2L508.5,78.6L489.5,78.6L489.1,82.7L487.6,86.6L485.6,87.5L483.6,86.9L482.6,84.7L481.7,80.7L481.6,78.6L477.7,78.6L477.4,82.7L477.0,84.7L475.7,87.8L471.7,91.2L469.8,91.3L463.8,90.7L459.9,88.5L455.9,87.0L454.8,84.7L454.3,82.7L453.9,78.6L407.6,78.6L408.4,80.8L410.4,83.5L415.3,88.8L416.5,90.8L417.2,92.9L411.6,97.0L410.5,99.0L411.1,101.0L412.4,102.2L416.4,104.3L417.2,105.1L416.5,107.1L415.0,109.2L412.4,111.2L410.9,113.3L410.4,115.3L410.6,119.4L411.6,121.4L413.6,123.4L412.4,125.1L408.4,127.6L404.5,131.6L403.2,133.6L402.6,135.7L402.3,137.7L402.9,141.8L404.5,144.7L412.4,151.5L416.4,152.3L417.8,152.0L420.3,150.9L422.3,150.9L424.3,151.8L425.4,154.0L426.6,160.1L427.4,162.2L428.2,163.2L430.2,163.8L432.2,163.8L433.5,162.2L434.2,159.8L436.1,155.9L438.1,159.8L438.8,162.2L440.1,164.2L442.2,166.2ZM444.0,151.6L440.1,145.5L438.1,143.5L436.1,142.5L432.2,148.1L430.2,148.2L428.2,147.1L424.3,141.3L420.3,139.5L416.4,140.2L414.8,137.7L414.2,133.6L414.5,131.6L416.4,127.9L418.3,127.3L426.2,127.6L436.1,126.4L437.4,123.4L439.4,115.3L441.8,111.2L442.2,109.2L442.0,107.2L440.8,105.1L438.6,103.1L438.2,101.0L439.4,99.0L440.1,98.5L444.0,97.4L446.0,97.9L448.0,99.1L449.5,101.0L448.8,103.1L446.6,105.1L445.9,107.1L446.2,109.2L448.0,111.9L455.9,112.9L459.9,111.6L469.8,112.5L471.7,112.8L472.4,113.3L473.6,115.3L473.8,117.3L473.3,119.4L471.7,121.1L459.9,122.0L458.4,123.4L459.9,125.0L465.8,125.4L467.8,125.8L473.7,128.4L475.7,129.6L477.3,131.6L475.8,133.6L473.7,135.6L467.8,139.6L463.8,141.2L459.9,142.0L455.9,148.8L452.0,148.1L448.0,151.4L446.0,151.9L444.0,151.6ZM428.2,121.8L424.3,118.9L422.7,117.3L424.3,115.3L428.2,111.9L432.2,113.7L433.8,115.3L434.2,117.3L433.5,119.4L432.2,120.4L428.2,121.8ZM440.1,88.4L438.5,86.8L438.1,84.7L439.0,82.7L440.1,81.4L442.1,81.0L444.0,81.1L445.4,82.7L446.0,84.6L445.8,86.8L444.0,88.6L442.1,88.7L440.1,88.4ZM452.0,95.8L451.1,94.9L450.5,92.9L452.0,91.4L453.6,92.9L453.2,94.9L452.0,95.8ZM455.9,105.8L454.9,105.1L453.9,103.1L454.5,101.0L455.9,99.5L457.6,101.0L458.0,103.1L457.0,105.1L455.9,105.8ZM463.8,107.5L463.1,107.1L462.0,105.1L461.7,103.1L462.1,99.0L463.2,97.0L463.8,96.6L465.8,96.4L471.7,97.0L473.7,98.7L477.0,103.1L475.7,104.6L473.7,105.6L465.8,107.4L463.8,107.5ZM428.2,105.7L424.3,104.1L423.2,103.1L422.5,101.0L424.3,98.8L428.2,96.3L430.2,96.8L432.2,97.7L433.5,99.0L434.2,101.0L433.9,103.1L432.2,105.0L428.2,105.7ZM424.3,87.0L422.6,84.7L424.3,82.3L426.2,81.3L428.2,81.0L430.2,81.3L432.2,82.3L433.9,84.7L432.2,86.9L430.2,88.0L428.2,88.5L426.2,88.0L424.3,87.0ZM413.1,164.2L414.4,164.5L416.4,164.3L418.5,162.2L418.3,159.9L417.1,158.1L416.4,157.7L414.4,157.7L412.4,158.2L410.6,160.1L410.6,162.2L412.4,164.1L413.1,164.2ZM257.0,143.8L258.1,145.0L260.1,144.0L261.8,141.8L261.9,139.8L260.1,137.5L258.1,136.8L256.2,139.7L256.1,141.8L257.0,143.8ZM391.5,139.8L392.6,141.1L393.7,139.8L394.6,137.3L394.6,133.5L394.0,131.6L392.6,129.9L391.3,131.6L390.6,133.6L390.7,137.7L391.5,139.8ZM216.8,129.6L218.6,131.3L220.5,130.7L221.0,129.6L220.5,127.2L218.6,125.2L216.7,127.5L216.8,129.6ZM262.8,129.6L264.0,130.7L266.0,131.2L267.6,129.6L268.1,127.5L267.3,125.5L266.0,124.0L264.0,124.7L263.1,125.5L262.1,127.5L262.8,129.6ZM272.3,129.6L273.9,131.2L275.5,129.6L275.9,127.3L275.3,125.5L273.9,124.5L272.6,125.5L272.0,127.2L272.3,129.6ZM450.3,123.4L452.0,125.3L453.6,123.4L452.0,121.8L450.3,123.4ZM257.7,117.3L258.1,117.7L260.1,116.9L261.6,115.3L262.2,113.3L261.6,111.2L260.1,109.9L258.1,109.2L256.4,111.2L256.0,113.3L256.3,115.3L257.7,117.3ZM234.1,115.3L234.7,115.3L236.2,113.3L235.4,111.2L234.4,110.3L233.3,111.2L232.5,113.3L234.1,115.3ZM272.2,115.3L273.9,117.3L275.9,117.1L277.9,116.3L278.8,115.3L279.8,113.3L278.9,111.2L277.9,110.3L275.9,109.5L273.9,109.0L273.6,109.2L272.1,111.2L271.8,113.3L272.2,115.3ZM292.2,113.3L293.7,114.7L295.2,113.3L295.1,111.2L293.7,110.2L292.3,111.2L292.2,113.3ZM257.4,101.0L258.1,101.5L260.1,101.0L261.9,99.0L261.8,97.0L260.1,95.2L258.1,94.4L256.3,97.0L256.2,99.0L257.4,101.0ZM272.2,101.0L273.9,103.1L275.9,101.9L279.3,99.0L277.9,96.7L275.9,94.5L273.9,93.5L272.8,94.9L272.0,97.0L271.8,99.0L272.2,101.0ZM245.8,99.0L246.2,99.3L246.7,99.0L247.5,97.0L246.2,95.8L245.1,97.0L245.8,99.0ZM292.0,99.0L293.7,100.8L295.7,100.9L297.7,100.4L298.9,99.0L299.6,97.0L298.5,94.9L297.7,94.2L295.7,93.5L293.7,93.2L292.2,94.9L291.7,97.0L292.0,99.0ZM289.4,78.6L289.8,79.5L290.2,78.6L289.4,78.6ZM297.3,78.6L297.7,79.4L298.1,78.6L297.3,78.6Z"/>
<path fill="#00ff00" stroke="#00ff00" stroke-width="0.6" d="M249.3,486.1L263.9,486.1L265.0,482.1L265.0,478.0L272.9,471.9L278.2,465.8L283.8,460.4L285.8,459.7L287.8,460.4L289.2,461.7L291.7,467.5L293.7,469.5L295.7,468.6L297.7,465.0L299.7,463.9L302.2,465.8L302.6,467.8L302.6,471.9L303.0,473.9L305.6,475.1L307.6,475.6L313.5,476.3L315.5,476.9L317.7,478.0L318.4,480.0L318.7,486.1L360.5,486.1L358.5,478.0L359.2,475.9L360.6,473.9L362.9,472.8L370.9,470.8L372.7,469.8L373.3,467.8L373.3,463.7L373.9,461.7L376.8,460.3L382.7,459.2L386.8,457.6L388.2,455.6L388.8,453.5L386.9,449.4L386.7,447.4L387.3,445.4L390.6,443.9L396.6,443.0L398.6,442.4L400.6,441.3L391.5,437.2L390.0,435.2L389.4,433.1L394.7,429.1L399.2,427.0L402.5,425.0L400.5,423.9L394.6,422.0L392.6,420.9L392.4,418.9L393.4,416.8L401.7,412.8L400.4,410.7L392.6,407.2L390.6,405.1L390.4,404.6L392.5,398.5L392.8,396.5L391.8,394.4L390.6,393.1L388.7,391.7L382.7,389.8L379.7,388.3L382.7,386.9L388.7,385.1L390.1,384.2L391.3,380.2L392.6,379.4L398.6,377.4L401.0,376.1L401.6,374.1L401.1,372.0L392.6,368.0L392.4,365.9L393.4,363.9L400.5,360.8L402.1,359.8L399.4,357.8L395.7,355.7L393.5,353.7L392.2,351.6L400.5,345.9L402.5,344.1L403.1,343.5L403.6,339.4L405.1,337.4L406.7,335.4L408.4,333.9L410.4,333.2L412.4,333.3L414.4,334.2L416.4,335.9L422.0,339.4L424.3,343.5L426.2,344.5L434.2,346.2L440.1,348.6L446.0,350.5L448.3,351.6L447.3,353.7L445.6,355.7L445.3,357.8L445.7,359.8L450.3,363.9L450.7,365.9L450.6,367.9L448.6,372.0L449.3,374.1L450.6,376.1L453.9,377.9L455.9,378.3L458.4,378.1L459.9,377.8L462.4,376.1L465.0,372.0L464.3,367.9L464.8,365.9L465.9,363.9L467.8,362.1L469.8,361.9L472.1,363.9L473.5,367.9L473.0,372.0L473.2,376.1L475.7,378.0L477.7,378.2L479.6,377.6L480.9,376.1L481.5,372.0L479.8,367.9L482.0,363.9L483.6,362.2L485.3,363.9L486.8,365.9L487.8,367.9L486.6,372.0L487.0,376.1L487.6,376.9L489.5,378.1L491.5,378.2L493.5,377.7L495.4,376.1L496.2,374.1L496.3,372.0L494.7,367.9L497.5,363.8L499.4,361.7L501.4,365.2L503.4,366.0L505.4,366.0L507.3,365.3L508.7,363.9L509.6,361.8L511.3,360.0L513.3,360.0L514.9,361.8L515.9,363.9L517.2,365.3L519.2,366.0L521.2,365.8L523.2,364.7L525.1,361.0L527.1,359.7L529.1,360.5L530.2,361.8L531.9,365.9L532.2,367.9L530.1,372.0L529.1,372.9L527.1,373.9L525.1,372.8L523.2,370.4L521.2,369.9L519.2,370.6L517.6,372.0L516.2,374.1L515.3,376.1L517.2,377.2L519.2,377.8L525.1,378.4L529.1,379.7L530.0,380.2L530.3,382.2L529.3,386.3L528.2,388.3L525.1,389.7L519.2,391.1L517.2,391.9L516.4,392.4L515.3,394.2L514.8,396.5L516.6,400.5L516.5,402.6L516.1,404.6L513.3,408.2L511.3,408.4L510.0,406.7L509.2,404.6L508.6,400.5L509.5,398.5L510.0,396.5L509.3,395.5L507.7,394.4L503.4,393.2L501.4,393.3L500.6,394.4L499.8,396.5L499.4,400.5L499.4,404.6L498.8,406.7L497.5,408.5L495.5,408.7L493.9,406.7L493.3,404.6L494.4,396.5L493.5,393.7L491.3,392.4L489.5,393.1L488.4,394.4L487.7,396.5L488.9,400.5L489.0,402.6L488.8,404.6L487.6,406.6L485.6,407.8L483.6,408.5L477.7,409.1L474.1,410.7L472.3,412.8L473.2,416.8L472.9,418.9L472.0,420.9L467.8,422.6L461.8,423.4L459.9,424.0L458.0,425.0L457.2,427.0L457.6,429.1L459.9,430.2L467.8,431.8L470.9,433.1L470.6,435.2L469.2,437.2L465.8,438.7L459.9,440.3L458.1,441.3L459.9,442.3L465.8,444.4L467.7,445.4L468.9,447.4L469.0,449.4L460.6,453.5L460.0,455.6L460.5,457.6L469.5,461.7L469.7,463.7L468.8,465.8L465.8,467.8L463.5,469.8L465.2,471.9L467.7,473.9L468.3,475.9L467.9,478.0L460.5,482.1L460.0,484.1L459.9,486.1L470.6,486.1L471.7,485.0L473.7,484.1L475.7,484.7L476.7,486.1L483.8,486.1L484.5,482.1L485.6,481.1L487.6,480.1L489.5,480.0L491.5,480.9L492.4,482.1L493.5,486.1L497.4,486.1L497.7,482.1L499.2,475.9L499.2,473.9L497.8,469.8L498.8,465.8L498.9,463.7L498.1,457.6L497.9,453.5L499.2,449.4L499.4,447.4L499.2,445.4L498.2,443.3L497.8,441.3L499.3,437.2L499.1,433.1L499.8,425.0L499.4,420.9L501.4,419.1L503.4,419.4L505.4,421.5L507.3,422.6L511.3,423.2L513.3,422.8L515.3,422.1L517.2,420.3L519.2,419.0L521.2,418.8L523.2,419.6L525.1,422.0L527.1,423.0L529.1,422.7L531.0,420.9L531.8,418.9L533.0,416.8L535.0,415.1L537.0,414.8L539.0,415.6L540.2,416.8L539.8,420.9L541.0,422.4L542.9,422.8L546.9,419.1L548.9,418.9L550.9,419.8L552.1,420.9L552.9,423.0L552.8,425.2L550.9,426.2L542.9,428.2L541.7,429.1L540.3,433.1L539.0,435.4L537.0,437.8L535.0,438.5L527.1,440.2L524.8,441.3L523.6,443.3L523.4,445.4L528.8,449.4L527.1,450.6L525.0,453.5L524.2,457.6L521.2,459.0L519.2,459.4L511.3,459.7L509.3,460.1L507.3,460.7L505.9,461.7L505.5,463.7L505.7,465.8L507.3,467.3L509.3,467.9L511.3,467.8L513.3,466.9L515.3,465.0L517.2,463.9L519.2,463.5L521.2,463.7L523.2,464.5L524.7,465.8L524.9,467.8L524.2,469.8L519.2,472.8L518.1,473.9L521.0,478.0L522.2,482.1L522.5,486.1L529.4,486.1L529.1,482.1L527.8,478.0L528.4,475.9L529.1,474.7L529.7,473.9L531.1,473.2L539.0,470.8L540.6,469.8L541.3,467.8L541.4,465.8L540.9,463.7L541.0,461.7L542.9,460.7L548.9,459.0L552.0,457.6L553.5,455.6L554.3,453.5L554.4,449.4L555.3,447.4L556.8,445.4L558.8,444.4L564.7,442.6L567.7,441.3L568.7,439.3L568.9,437.2L567.9,433.1L569.1,431.1L571.0,429.1L572.6,427.7L574.5,427.0L576.6,427.4L578.5,429.1L580.4,433.1L582.5,434.1L582.5,380.6L581.7,380.2L582.5,379.8L582.5,372.4L581.8,372.0L582.5,371.6L582.5,326.3L580.5,324.5L580.1,323.1L579.9,319.0L578.1,315.0L576.6,313.6L574.6,313.5L572.7,315.0L571.5,317.0L570.1,325.2L568.7,327.3L566.7,327.9L564.7,327.6L564.0,327.2L562.7,325.6L561.3,321.1L560.3,319.0L558.8,317.4L556.8,317.7L555.8,319.0L554.8,324.8L553.4,327.2L552.8,327.6L550.9,327.8L548.9,326.6L548.2,325.2L545.9,315.0L544.9,314.1L542.9,313.6L541.9,315.0L540.7,319.0L540.0,325.2L539.0,327.2L537.6,325.2L536.2,319.0L533.0,315.0L531.1,313.3L529.1,312.9L527.1,313.0L525.1,314.0L523.2,315.6L521.2,316.4L515.3,317.7L512.5,319.0L511.0,321.1L510.3,323.1L510.1,327.2L508.2,331.3L506.2,333.3L503.4,334.8L501.4,335.2L497.5,334.6L495.5,335.1L495.2,335.4L494.6,337.4L494.3,343.5L491.5,345.4L489.5,345.7L487.6,345.3L485.6,343.5L484.6,335.4L483.6,334.6L482.6,335.4L481.4,343.5L480.1,345.5L478.2,347.6L475.7,349.3L471.7,346.7L469.8,346.1L465.8,345.6L457.9,345.5L453.9,344.9L451.0,343.5L448.4,339.4L446.0,338.2L438.1,336.8L432.2,334.2L424.3,331.8L423.4,331.3L422.4,329.2L421.9,327.2L422.0,323.1L420.3,319.8L419.1,319.0L416.4,318.4L412.4,318.4L408.4,318.7L406.5,319.2L404.4,321.1L401.4,327.2L397.3,331.3L392.2,335.4L388.2,339.4L387.2,343.5L379.5,349.6L377.8,351.6L379.1,353.7L381.2,355.7L384.1,357.8L386.1,359.8L384.7,360.8L378.1,363.9L377.2,365.9L377.1,367.9L379.0,372.0L379.0,374.1L378.4,376.1L376.4,378.1L372.8,380.7L363.8,384.2L361.5,386.3L360.6,388.3L362.9,392.8L364.9,393.7L366.9,394.2L370.9,394.6L374.8,395.5L376.5,396.5L376.8,398.5L376.4,406.7L375.4,414.8L375.4,416.8L376.2,420.9L375.5,427.0L374.5,429.1L372.8,430.0L364.9,432.0L362.8,433.1L362.2,435.2L362.0,437.2L362.5,441.3L362.0,443.3L359.0,449.4L359.9,453.5L359.6,455.6L358.9,457.6L357.0,459.4L355.0,459.3L353.5,457.6L352.8,453.5L353.8,449.4L353.0,447.4L351.1,444.4L349.1,443.9L345.4,447.4L344.4,449.4L346.2,453.5L346.4,455.6L346.3,457.6L345.1,459.1L343.2,459.5L341.2,457.6L340.3,453.5L340.9,449.4L339.2,447.9L337.2,447.3L335.3,447.4L333.3,448.1L331.6,449.4L331.3,455.1L329.4,461.7L327.1,465.8L325.7,469.8L323.4,471.5L321.5,469.8L320.6,465.8L317.4,461.7L315.5,460.6L313.5,460.1L307.6,459.1L305.6,458.3L304.3,457.6L303.1,453.5L301.6,452.1L299.8,451.5L297.7,452.0L295.7,454.4L293.7,455.2L292.0,453.5L289.6,449.4L287.8,447.9L285.8,447.3L283.8,447.6L281.3,449.4L275.9,455.1L270.6,459.6L266.0,464.2L264.7,465.8L262.5,469.8L258.1,472.5L252.2,473.8L250.2,475.5L249.1,478.0L251.6,482.1L249.3,486.1ZM370.9,443.4L368.9,443.3L366.9,442.1L366.5,441.3L367.5,437.2L368.9,435.5L370.9,435.2L373.7,437.2L374.5,439.3L374.6,441.3L372.8,442.9L370.9,443.4ZM382.7,425.2L382.7,424.8L384.7,423.2L387.1,425.0L384.7,426.9L382.7,425.2ZM475.7,442.9L474.1,441.3L475.7,439.8L477.3,441.3L475.7,442.9ZM487.6,475.3L486.1,473.9L485.1,471.9L484.7,469.8L485.6,469.0L487.6,467.8L489.5,467.8L491.5,468.8L492.1,469.8L491.8,471.9L490.9,473.9L489.5,475.5L487.6,475.3ZM521.2,414.9L519.2,413.9L518.1,412.8L519.1,410.7L521.2,409.0L523.2,408.9L525.3,410.7L526.0,412.8L523.2,414.8L521.2,414.9ZM533.1,408.0L532.0,406.7L531.5,404.6L533.1,403.0L535.0,402.5L537.0,403.3L538.4,404.6L537.8,406.7L537.0,407.6L535.0,408.7L533.1,408.0ZM548.9,415.0L546.9,414.6L544.5,412.8L545.3,410.7L546.9,409.2L548.9,408.6L550.9,409.2L552.2,410.7L552.8,412.8L550.9,414.6L548.9,415.0ZM533.1,455.3L531.4,453.5L531.9,451.5L533.1,451.0L535.3,451.5L537.3,453.5L535.0,455.5L533.1,455.3ZM546.9,437.5L546.9,436.9L548.9,435.3L550.9,436.1L551.8,437.2L550.9,438.3L548.9,439.1L546.9,437.5ZM560.7,413.5L560.3,412.8L560.8,410.7L562.7,408.8L564.7,409.0L566.4,410.7L567.2,412.8L564.7,414.7L562.7,414.8L560.7,413.5ZM562.7,425.5L562.5,425.0L562.7,424.5L564.7,423.7L565.8,425.0L564.7,426.2L562.7,425.5ZM489.5,459.7L487.6,459.3L485.5,457.6L484.9,455.6L485.1,453.5L487.6,451.7L489.5,451.4L491.5,451.7L493.4,453.5L492.7,457.6L491.5,459.1L489.5,459.7ZM535.0,398.6L533.1,398.1L531.4,396.5L533.1,394.8L535.3,394.4L537.0,395.1L538.0,396.5L537.0,397.8L535.0,398.6ZM548.9,398.6L546.9,398.2L545.0,396.5L545.1,394.4L545.9,392.4L546.9,391.5L548.9,390.5L550.9,391.3L551.7,392.4L552.6,394.4L553.0,396.5L550.9,398.4L548.9,398.6ZM562.7,398.6L560.7,398.3L558.8,396.5L559.9,394.4L562.7,390.9L565.0,392.4L567.1,394.4L568.1,396.5L566.7,397.7L564.7,398.5L562.7,398.6ZM489.5,443.4L487.6,442.9L486.0,441.3L486.3,439.3L487.5,437.2L489.5,435.4L491.5,436.3L493.0,439.3L493.7,441.3L491.5,443.3L489.5,443.4ZM548.9,377.6L547.5,376.1L548.9,374.6L550.9,374.6L551.9,376.1L550.9,377.6L548.9,377.6ZM564.7,378.2L562.7,377.8L561.0,376.1L560.9,374.1L561.4,372.0L562.7,370.7L564.7,370.1L566.7,371.2L567.4,372.0L568.1,374.1L568.3,376.1L566.7,377.6L564.7,378.2ZM489.5,430.9L487.6,429.1L486.9,427.0L486.9,425.0L489.5,423.1L491.5,423.0L493.6,425.0L493.3,427.0L492.7,429.1L491.5,430.6L489.5,430.9ZM305.9,486.1L313.6,486.1L311.5,484.2L309.5,484.0L307.6,484.6L305.9,486.1ZM365.6,486.1L372.8,486.1L371.9,482.1L370.9,481.1L368.9,480.1L366.9,481.4L366.5,482.1L365.6,486.1ZM381.5,486.1L386.6,486.1L384.7,484.3L382.7,484.6L381.5,486.1ZM507.0,486.1L512.4,486.1L511.6,482.1L514.1,478.0L513.3,473.9L511.3,472.1L509.3,471.7L507.3,471.8L505.4,472.4L503.8,473.9L503.2,475.9L503.1,478.0L505.8,482.1L507.0,486.1ZM531.8,486.1L539.5,486.1L539.7,484.1L539.4,482.1L537.0,480.2L535.0,479.9L533.1,480.9L532.3,482.1L531.8,486.1ZM333.2,437.2L335.3,439.1L337.2,438.2L337.9,437.2L337.2,436.2L335.3,435.3L333.2,437.2ZM348.4,437.2L349.1,438.1L351.1,438.6L352.2,437.2L352.8,435.2L352.9,433.1L351.1,431.1L349.1,432.0L348.0,433.1L347.9,435.2L348.4,437.2ZM508.7,437.2L509.3,438.0L511.3,439.2L513.3,438.6L516.4,435.2L517.3,433.1L514.9,429.1L513.3,427.4L511.3,427.0L509.3,427.7L508.1,429.1L505.8,433.1L508.7,437.2ZM527.6,435.2L529.1,435.3L531.1,434.9L533.1,433.1L533.2,431.1L532.8,429.1L531.1,427.4L529.1,426.9L527.1,427.1L525.1,428.3L524.5,429.1L524.3,431.1L524.4,433.1L525.1,434.1L527.6,435.2ZM186.9,420.9L186.9,421.9L190.9,419.5L194.8,422.0L197.2,420.9L198.8,418.9L200.1,412.8L202.7,408.3L206.7,406.0L208.2,404.6L212.6,399.9L217.0,394.4L222.5,388.9L224.3,386.3L224.6,384.2L224.0,382.2L222.5,380.3L218.6,377.9L217.0,376.1L217.7,374.1L220.1,372.0L220.5,369.9L219.9,367.9L218.6,366.4L214.6,365.2L213.9,363.9L213.2,361.8L212.2,355.7L211.7,353.7L210.6,351.7L206.7,348.4L202.7,347.5L201.1,345.5L202.7,343.1L206.7,341.7L210.6,339.3L217.1,337.4L222.5,337.1L223.8,335.4L224.5,333.3L224.6,331.3L224.0,329.2L222.5,327.5L218.6,328.1L214.6,327.2L212.8,325.2L213.1,323.1L214.6,322.0L216.6,321.8L218.6,322.0L222.5,323.9L224.5,322.8L227.9,319.0L227.4,317.0L224.5,315.1L222.5,314.2L218.6,315.2L214.6,314.5L212.9,312.9L212.9,310.9L214.6,308.9L216.6,308.2L218.6,308.0L222.5,308.8L228.4,305.7L230.4,305.3L234.4,305.7L236.4,305.6L238.3,304.9L239.5,302.8L241.4,294.6L242.3,292.9L244.3,291.8L246.2,291.4L250.2,291.1L254.2,292.0L256.1,291.9L264.0,290.9L272.0,290.5L273.9,290.8L274.9,292.6L275.8,296.6L276.2,300.7L276.6,302.8L277.5,304.8L281.9,307.2L283.8,306.2L285.8,303.9L289.2,294.6L291.7,291.0L293.7,288.8L295.7,288.3L297.7,288.3L301.6,290.2L303.6,290.1L305.6,289.2L308.6,282.4L309.5,280.9L311.5,283.0L313.5,285.9L315.5,288.1L317.5,289.4L319.4,287.7L325.4,279.9L329.3,278.8L333.3,274.6L337.2,269.4L341.2,265.1L347.1,262.1L348.9,260.0L349.5,257.9L349.8,253.8L349.7,249.8L349.1,246.9L348.4,245.7L345.1,243.9L341.2,244.1L339.2,243.6L337.2,242.5L336.7,241.6L334.4,233.5L331.9,227.4L330.5,219.2L329.3,216.8L325.4,214.1L324.0,211.1L323.4,207.0L323.4,198.8L322.9,194.8L322.3,192.7L319.7,188.6L321.4,186.1L323.4,184.2L325.4,182.8L333.3,181.5L334.0,180.5L333.3,179.5L325.4,178.4L323.6,176.4L323.3,174.4L323.6,172.3L325.4,169.5L331.3,169.2L333.3,168.6L333.5,168.3L334.0,166.2L333.5,162.2L333.8,160.1L335.3,157.2L337.2,155.2L341.2,153.2L345.1,153.0L347.1,152.2L349.1,150.7L350.4,147.9L351.7,141.8L352.5,139.8L354.0,137.7L354.9,135.7L355.1,133.6L354.7,131.6L353.1,129.6L349.1,126.4L343.2,124.9L341.2,123.4L343.2,122.4L349.1,121.7L351.1,121.2L353.1,120.5L354.4,119.4L353.9,117.3L353.1,116.3L343.2,114.0L341.8,113.3L340.6,111.2L340.8,109.2L343.2,107.3L349.1,106.2L350.4,105.1L350.7,103.1L349.1,101.5L347.1,100.5L342.7,99.0L341.2,97.7L340.8,97.0L340.5,94.9L341.2,92.8L343.2,91.4L351.1,90.0L353.1,88.7L354.5,86.8L354.4,84.7L353.1,83.1L351.1,82.1L349.1,81.3L345.1,81.1L343.8,80.7L342.1,78.6L298.1,78.6L297.7,79.4L297.3,78.6L290.2,78.6L289.8,79.5L289.4,78.6L237.4,78.6L238.3,80.7L242.3,82.8L243.9,84.7L244.3,86.9L243.7,88.8L242.3,90.5L240.3,92.4L238.3,93.7L234.4,92.6L232.4,92.9L230.4,93.9L229.1,97.0L227.4,103.1L226.5,105.1L224.5,106.6L222.5,107.6L218.6,107.6L216.6,108.5L214.6,110.1L213.3,113.3L211.6,119.4L210.6,121.4L208.7,121.5L206.7,121.0L204.7,121.1L202.7,121.8L201.8,123.4L199.5,131.6L198.8,133.0L198.0,133.6L196.8,134.4L194.8,135.0L190.9,133.7L186.9,133.3L186.9,140.5L190.9,140.8L194.8,142.0L198.8,144.9L199.9,143.8L202.7,138.7L204.7,138.0L206.7,138.2L207.9,139.8L208.7,141.8L208.8,143.8L208.5,145.9L207.4,147.9L205.6,149.9L204.7,152.0L204.6,154.0L205.1,156.0L206.7,157.7L208.7,157.9L210.6,157.5L211.6,156.0L212.2,154.0L212.8,143.8L213.2,141.8L214.6,138.7L218.6,137.9L221.4,135.7L222.5,133.9L226.5,139.5L228.4,139.3L230.4,138.1L231.5,135.7L233.1,127.5L233.9,125.5L236.1,123.4L238.3,122.1L242.3,120.7L243.1,119.4L245.1,111.2L246.1,109.2L248.2,109.1L250.2,109.9L251.3,111.2L252.2,113.3L252.0,115.3L248.4,119.4L248.8,121.4L250.2,122.6L254.2,122.2L255.4,123.4L256.2,125.5L255.8,127.5L254.2,129.6L252.2,130.9L250.2,131.7L248.4,133.6L248.2,135.7L249.2,137.7L251.4,139.8L252.2,141.8L252.1,143.8L250.8,145.9L249.1,147.9L248.3,149.9L248.0,152.0L248.5,156.0L249.6,158.1L251.7,160.1L252.0,162.2L250.2,164.2L246.2,163.8L238.3,164.6L234.4,164.3L230.4,165.9L228.4,165.4L226.5,164.5L224.5,164.2L222.5,164.4L218.6,165.8L214.6,165.6L210.6,164.8L208.7,164.7L206.7,164.9L202.7,165.9L198.8,164.5L196.8,164.5L190.9,166.0L186.9,166.3L186.9,170.3L190.9,171.5L192.0,172.3L192.9,174.4L192.8,176.4L191.8,178.5L190.9,179.6L186.9,180.3L186.9,187.6L188.3,188.6L188.9,190.7L188.0,192.7L186.9,193.9L186.9,204.9L188.9,204.8L190.9,204.3L194.8,196.7L196.8,196.3L198.8,196.9L200.8,199.4L202.7,201.2L204.7,198.8L206.7,195.7L208.7,194.8L210.6,195.1L214.6,204.3L216.6,204.8L218.6,204.2L222.5,195.6L224.5,195.7L226.5,196.9L227.4,198.8L229.4,204.9L230.4,206.7L231.4,204.9L233.0,198.8L234.4,195.4L236.4,193.9L238.3,193.6L239.7,196.8L241.2,204.9L242.3,207.2L244.3,207.7L246.2,206.9L247.2,204.9L247.8,202.9L248.6,196.8L250.2,192.5L252.2,191.5L254.2,191.2L258.1,192.1L260.1,190.3L261.7,186.6L262.2,180.5L262.9,178.5L264.1,176.4L266.0,175.2L268.0,174.9L270.0,175.0L273.9,176.3L275.9,175.5L277.3,174.4L277.9,172.5L276.6,170.3L273.9,169.4L272.0,169.5L268.0,170.4L266.0,170.5L264.0,169.9L262.1,168.3L262.3,166.2L264.0,164.9L266.0,164.2L270.0,164.2L273.9,163.8L275.9,163.0L277.0,162.2L277.1,160.1L275.9,155.7L274.9,154.0L273.9,153.3L272.0,153.8L270.0,154.8L266.0,154.1L264.0,153.3L262.4,152.0L262.6,149.9L266.0,147.1L268.0,146.6L270.0,146.5L273.9,148.4L276.1,147.9L277.9,146.7L278.4,145.9L279.2,143.8L280.6,137.7L281.9,134.5L283.8,133.4L287.8,132.4L289.8,132.7L290.3,133.6L291.5,137.7L292.1,143.8L292.7,145.9L293.7,147.8L295.7,146.9L297.7,145.5L299.1,143.8L299.7,141.8L299.2,139.8L296.9,137.7L295.8,135.7L296.8,133.6L297.7,132.6L301.6,130.4L303.6,130.8L307.6,132.5L308.9,133.6L309.6,135.7L308.4,137.7L304.8,139.8L303.7,141.8L303.5,143.8L304.2,145.9L305.6,147.2L307.6,148.2L309.4,149.9L309.4,152.0L307.6,153.7L305.6,154.7L304.2,156.0L303.5,158.1L303.5,160.1L304.3,162.2L307.7,164.2L305.7,166.2L301.6,169.1L297.7,167.4L295.7,167.6L293.7,168.3L292.1,170.3L291.6,172.3L291.8,174.4L292.9,176.4L293.7,177.0L297.7,177.5L301.6,176.2L303.6,177.2L305.6,178.7L307.2,180.5L305.6,182.2L301.6,184.4L297.7,182.6L293.7,183.3L292.3,184.6L291.7,186.6L291.9,188.6L293.7,191.2L297.7,191.5L301.6,190.9L305.6,192.4L307.5,194.8L307.3,196.8L305.6,198.8L303.6,199.9L301.6,200.4L297.7,199.7L293.7,202.3L292.1,204.9L291.7,206.4L291.6,209.0L291.9,211.1L293.7,214.5L295.7,215.8L297.7,216.6L301.6,214.5L303.6,214.4L305.6,214.8L309.5,219.5L311.5,219.9L313.5,219.6L315.5,217.9L317.5,216.9L318.6,219.2L320.4,225.3L322.8,231.4L324.4,239.6L325.4,241.6L329.3,244.0L332.8,249.8L334.4,251.8L335.2,253.8L335.3,255.9L334.7,257.9L333.3,259.8L331.3,261.4L329.3,262.9L325.4,263.4L324.7,264.0L323.1,266.1L317.5,274.6L315.5,273.3L313.5,271.1L311.5,267.2L309.5,264.5L308.6,266.1L305.6,273.4L303.6,274.4L301.6,274.2L297.7,265.5L295.7,265.0L293.7,265.5L292.5,268.1L290.5,274.2L289.8,275.6L285.8,276.8L285.0,278.3L283.2,284.4L281.9,287.5L280.4,284.4L278.6,278.3L277.3,276.3L275.9,275.1L273.9,274.0L272.0,274.3L266.0,276.5L265.6,276.3L263.5,274.2L260.1,266.2L258.1,264.9L254.2,273.4L252.2,274.4L250.2,274.2L249.2,272.2L247.3,266.1L246.2,264.1L244.3,267.4L242.3,272.0L238.3,277.5L236.4,276.9L234.4,275.4L230.4,266.0L229.4,268.1L228.8,270.1L227.9,276.3L226.5,279.7L224.5,280.3L222.5,280.1L218.6,278.2L216.6,278.8L214.6,280.2L213.0,284.4L211.9,290.5L210.6,293.6L208.7,294.1L204.7,294.2L202.7,294.8L201.8,296.6L199.8,304.8L198.8,307.2L196.8,308.6L194.8,309.3L186.9,307.3L186.9,350.3L192.8,350.7L194.8,351.4L195.9,353.7L196.4,355.7L197.1,361.8L197.6,363.9L198.8,366.5L200.8,367.0L204.7,367.0L206.7,367.4L208.5,370.0L207.4,372.0L203.9,374.1L203.1,376.1L205.0,378.1L210.6,380.8L211.9,382.2L212.6,384.2L211.9,386.3L206.7,392.1L200.8,397.5L194.8,405.7L190.9,405.7L186.9,406.8L186.9,420.9ZM230.4,301.2L229.7,300.7L228.5,298.7L228.4,296.2L228.9,294.6L230.4,292.7L232.4,292.9L234.4,293.7L235.2,294.6L236.3,296.6L236.0,298.7L234.4,300.1L230.4,301.2ZM246.2,284.5L244.4,282.4L246.2,279.9L248.0,282.4L246.2,284.5ZM218.6,131.3L216.8,129.6L216.7,127.5L218.6,125.2L220.5,127.2L221.0,129.6L220.5,130.7L218.6,131.3ZM234.4,115.5L232.5,113.3L233.3,111.2L234.4,110.3L235.4,111.2L236.2,113.3L234.4,115.5ZM246.2,99.3L245.8,99.0L245.1,97.0L246.2,95.8L247.5,97.0L246.7,99.0L246.2,99.3ZM200.8,179.0L198.8,178.0L197.4,176.4L197.2,174.4L198.8,172.9L200.8,172.1L202.7,171.7L203.7,172.3L204.7,174.3L204.7,176.4L203.6,178.5L202.7,179.4L200.8,179.0ZM214.6,178.5L212.9,176.4L212.5,174.4L213.1,172.3L214.6,171.1L218.6,170.4L220.3,172.3L220.6,174.4L220.3,176.4L218.6,178.9L216.6,179.1L214.6,178.5ZM230.4,190.3L228.8,188.6L230.4,187.0L231.9,188.6L230.4,190.3ZM244.3,177.1L242.3,176.4L240.5,174.4L240.8,172.3L242.3,171.1L246.2,170.2L248.1,172.3L248.1,174.4L246.2,177.1L244.3,177.1ZM258.1,145.0L257.0,143.8L256.1,141.8L256.2,139.8L258.1,136.8L260.1,137.5L261.9,139.8L261.8,141.8L260.1,144.0L258.1,145.0ZM264.0,130.7L262.8,129.6L262.1,127.5L263.1,125.5L264.0,124.7L266.0,124.0L267.3,125.5L268.1,127.5L267.6,129.6L266.0,131.2L264.0,130.7ZM273.9,131.2L272.3,129.6L271.9,127.5L272.6,125.5L273.9,124.5L275.3,125.5L276.0,127.5L275.5,129.6L273.9,131.2ZM293.7,114.7L292.2,113.3L292.3,111.2L293.7,110.2L295.1,111.2L295.2,113.3L293.7,114.7ZM230.4,178.0L228.9,176.4L228.3,174.4L228.5,172.3L230.4,170.1L232.4,170.8L235.2,172.3L236.1,174.4L234.4,176.5L232.4,177.7L230.4,178.0ZM258.1,117.7L256.3,115.3L256.0,113.3L256.4,111.2L258.1,109.2L260.1,109.9L261.6,111.2L262.2,113.3L261.6,115.3L260.1,116.9L258.1,117.7ZM273.9,117.3L272.2,115.3L271.8,113.3L272.1,111.2L273.9,109.0L275.9,109.5L277.9,110.3L278.9,111.2L279.8,113.3L278.8,115.3L277.9,116.3L275.9,117.1L273.9,117.3ZM293.7,100.8L292.0,99.0L291.7,97.0L292.2,94.9L293.7,93.2L295.7,93.5L297.7,94.2L298.5,94.9L299.6,97.0L298.9,99.0L297.7,100.4L295.7,100.9L293.7,100.8ZM258.1,101.5L257.4,101.0L256.2,99.0L256.3,97.0L258.1,94.4L260.1,95.2L261.8,97.0L261.9,99.0L260.1,101.0L258.1,101.5ZM273.9,103.1L272.2,101.0L271.8,99.0L272.0,97.0L272.8,94.9L273.9,93.5L275.9,94.5L277.9,96.7L279.3,99.0L275.9,101.9L273.9,103.1ZM334.9,420.9L335.3,421.4L337.2,422.6L338.8,420.9L337.2,419.2L335.3,420.4L334.9,420.9ZM362.4,420.9L364.9,422.8L366.9,422.6L368.3,420.9L367.8,416.8L366.9,415.6L364.9,415.4L363.2,416.8L362.4,418.9L362.4,420.9ZM350.9,408.7L351.1,408.9L353.1,407.9L353.7,406.7L354.3,404.6L353.1,403.0L351.1,402.7L348.9,404.6L349.4,406.7L350.9,408.7ZM366.4,408.7L367.1,408.7L368.9,407.4L370.0,404.6L372.6,400.5L370.9,398.6L368.9,398.4L366.9,398.9L364.5,400.5L362.8,402.6L362.3,404.6L362.9,406.4L364.9,408.5L366.4,408.7ZM334.2,406.7L335.3,408.2L337.2,408.2L338.3,406.7L339.0,404.6L337.2,401.9L335.3,402.1L334.8,402.6L333.6,404.6L334.2,406.7ZM351.0,394.4L353.1,394.4L355.0,393.2L355.5,392.4L356.0,388.3L355.0,387.1L353.1,386.3L351.1,386.2L349.1,386.8L347.5,388.3L347.3,390.4L347.6,392.4L349.1,393.7L351.0,394.4ZM335.1,392.4L337.6,392.4L339.2,391.6L340.2,390.4L340.8,388.3L340.1,386.3L339.2,385.1L337.2,384.3L335.3,384.8L333.3,386.3L331.9,388.3L332.6,390.4L333.3,391.2L335.1,392.4ZM186.9,361.8L186.9,363.6L188.4,361.8L189.0,359.8L188.8,357.8L186.9,355.7L186.9,361.8ZM234.2,335.4L234.6,335.4L236.2,333.3L235.3,331.3L234.4,330.6L233.4,331.3L232.6,333.3L234.2,335.4ZM279.1,335.4L279.9,336.0L281.9,336.8L283.8,335.4L285.2,333.3L285.7,331.3L285.0,329.2L283.8,328.3L281.9,327.6L279.9,328.3L278.7,329.2L277.7,331.3L277.8,333.3L279.1,335.4ZM249.7,333.3L250.2,333.7L250.7,333.3L251.8,331.3L250.2,329.6L248.6,331.3L249.7,333.3ZM262.6,333.3L264.0,334.4L266.0,335.0L268.5,333.3L268.7,331.3L266.0,329.5L264.0,330.1L262.5,331.3L262.6,333.3ZM426.8,325.2L428.2,326.8L430.2,326.7L432.0,325.2L432.9,323.1L430.2,321.2L428.2,321.2L426.3,323.1L426.8,325.2ZM497.2,325.2L497.5,325.7L498.0,325.2L499.0,323.1L497.5,322.1L496.8,323.1L497.2,325.2ZM233.5,319.0L234.4,319.8L236.4,320.3L238.3,320.2L239.5,319.0L240.3,317.0L238.3,315.2L236.4,315.3L234.4,315.8L233.0,317.0L233.5,319.0ZM265.0,319.0L266.0,319.3L266.4,319.0L267.9,317.0L267.6,315.0L266.0,313.7L262.9,315.0L261.9,317.0L264.0,318.7L265.0,319.0ZM276.6,319.0L277.9,320.6L279.9,320.9L281.9,320.7L283.4,319.0L283.9,317.0L283.9,315.0L283.0,312.9L281.9,312.0L279.9,312.0L277.9,312.4L277.1,312.9L276.0,315.0L275.9,317.0L276.6,319.0ZM249.7,304.8L250.2,305.4L252.2,305.4L254.2,304.5L255.6,302.7L255.4,300.7L254.2,299.8L250.2,299.3L248.6,300.7L248.4,302.8L249.7,304.8ZM264.3,304.8L266.0,305.5L268.0,305.0L270.0,303.1L271.6,300.7L272.1,298.7L271.8,296.6L270.0,294.8L266.0,297.5L263.4,298.7L262.1,300.5L262.3,302.7L264.3,304.8ZM186.9,300.7L186.9,302.0L190.9,301.2L191.5,300.7L192.7,298.7L191.8,296.6L190.9,295.5L186.9,294.6L186.9,300.7ZM186.9,284.4L186.9,285.7L188.4,284.4L188.6,282.4L186.9,280.4L186.9,284.4ZM526.8,251.8L529.1,252.0L531.1,251.7L534.6,249.8L535.3,247.7L535.0,239.6L536.2,229.4L539.0,228.1L546.9,226.1L550.9,223.5L552.8,223.1L554.8,223.4L556.8,224.6L558.8,226.8L560.7,227.3L562.7,226.0L563.2,225.3L564.3,221.2L563.8,219.2L562.7,217.2L560.7,215.6L558.8,216.3L556.8,218.6L554.8,219.3L552.8,219.0L550.2,217.2L549.2,209.0L550.5,204.9L549.6,194.8L549.3,192.7L548.9,192.1L546.9,190.8L544.9,190.6L542.9,191.1L541.3,192.7L540.4,204.9L539.0,206.5L537.4,204.9L536.7,196.8L534.2,190.7L533.0,188.6L531.1,187.0L529.1,188.5L527.2,190.7L523.3,196.8L521.7,200.9L520.9,204.9L514.4,209.0L515.0,213.1L511.8,217.2L511.3,219.2L511.6,221.2L517.5,225.3L519.5,227.4L520.5,229.4L515.1,233.5L515.0,235.5L516.1,237.5L521.7,241.6L523.4,245.7L522.7,249.8L525.1,251.4L526.8,251.8ZM539.0,214.8L537.2,213.1L539.0,211.4L540.6,213.1L539.0,214.8ZM543.4,241.6L544.9,243.2L546.9,241.6L550.2,237.5L548.5,233.5L546.9,231.8L544.9,231.4L542.9,232.1L542.0,233.5L541.2,235.5L540.6,237.5L543.4,241.6ZM557.8,241.6L558.8,242.8L560.7,243.5L562.7,241.9L564.7,239.0L565.4,237.5L564.9,235.5L564.0,233.5L562.7,232.1L560.7,231.4L558.8,231.7L556.9,233.5L556.2,237.5L557.8,241.6ZM574.4,241.6L576.6,243.4L579.0,241.6L579.9,239.6L580.2,237.5L579.9,235.5L579.0,233.5L576.6,231.7L574.4,233.5L573.4,235.5L572.9,237.5L573.4,239.6L574.4,241.6ZM341.6,237.5L343.2,239.1L345.1,239.5L347.0,237.5L347.1,235.5L345.1,232.7L343.2,233.6L341.7,235.5L341.6,237.5ZM576.6,227.4L578.5,226.5L579.8,225.3L580.2,223.3L580.1,221.2L578.5,219.9L576.6,219.2L574.6,219.5L572.9,221.2L572.7,223.3L573.0,225.3L574.6,227.0L576.6,227.4ZM558.7,211.1L560.7,210.5L562.2,209.0L560.7,207.3L558.6,207.0L556.8,207.9L556.1,209.0L556.8,210.1L558.7,211.1ZM574.4,209.0L576.6,210.2L578.5,210.7L582.5,211.1L582.5,186.6L578.5,186.9L574.6,188.0L572.6,189.6L570.3,192.7L570.8,200.9L573.0,204.9L574.4,209.0ZM557.7,202.9L560.7,203.1L562.7,202.7L564.7,201.5L565.1,200.9L565.2,198.8L564.6,192.7L563.0,190.7L558.8,187.3L557.3,188.6L556.4,190.7L554.6,198.8L554.4,200.9L554.8,201.6L556.8,202.8L557.7,202.9ZM582.3,182.5L582.5,174.4L578.5,174.8L574.7,176.4L573.9,178.5L574.4,180.5L578.5,182.1L582.3,182.5ZM342.7,166.2L345.1,166.9L346.1,166.2L345.1,164.6L343.2,165.7L342.7,166.2ZM194.4,160.1L194.8,160.4L196.8,160.3L198.8,159.7L200.2,158.1L200.8,156.0L200.9,154.0L200.5,152.0L198.9,149.9L196.8,149.3L194.8,149.1L190.9,151.7L186.9,150.8L186.9,156.4L190.9,157.6L194.4,160.1ZM236.2,156.0L238.3,157.6L242.3,155.3L243.6,154.0L244.3,152.0L243.9,149.9L242.3,148.2L238.3,145.8L236.4,146.7L234.4,148.4L233.1,149.9L232.5,152.0L233.6,154.0L236.2,156.0ZM581.0,154.0L582.5,154.8L582.5,149.1L580.8,149.9L579.3,152.0L581.0,154.0ZM442.9,149.9L444.0,151.6L446.0,151.9L448.0,151.4L452.0,148.1L455.9,148.8L459.9,142.0L463.8,141.2L467.8,139.6L473.7,135.6L475.8,133.6L477.3,131.6L475.7,129.6L473.7,128.4L467.8,125.8L465.8,125.4L459.9,125.0L458.4,123.4L459.9,122.0L471.7,121.1L473.3,119.4L473.8,117.3L473.6,115.3L472.4,113.3L471.7,112.8L469.8,112.5L459.9,111.6L455.9,112.9L448.0,111.9L446.2,109.2L445.9,107.1L446.6,105.1L448.8,103.1L449.5,101.0L448.0,99.1L446.0,97.9L444.0,97.4L440.1,98.5L439.4,99.0L438.2,101.0L438.6,103.1L440.8,105.1L442.0,107.1L442.2,109.2L441.8,111.2L439.4,115.3L437.4,123.4L436.1,126.4L426.2,127.6L418.3,127.3L416.4,127.9L414.5,131.6L414.2,133.6L414.8,137.7L416.4,140.2L420.3,139.5L424.3,141.3L428.2,147.1L430.2,148.2L432.2,148.1L436.1,142.5L438.1,143.5L440.1,145.5L442.9,149.9ZM452.0,125.3L450.3,123.4L452.0,121.8L453.6,123.4L452.0,125.3ZM237.4,137.7L238.3,138.4L240.3,138.6L242.3,138.3L243.0,137.7L244.2,135.7L244.4,133.6L243.9,131.6L242.3,129.8L240.3,129.4L238.3,129.5L236.6,131.6L236.2,133.6L236.4,135.7L237.4,137.7ZM186.9,129.6L186.9,130.8L190.9,130.3L192.0,129.6L192.9,127.5L192.6,125.5L190.9,123.1L188.9,122.8L186.9,122.9L186.9,129.6ZM427.6,121.4L428.2,121.8L432.2,120.4L433.5,119.4L434.2,117.3L433.8,115.3L432.2,113.7L428.2,111.9L424.3,115.3L422.7,117.3L424.3,118.9L427.6,121.4ZM463.1,107.1L463.8,107.5L465.8,107.4L473.7,105.6L475.7,104.6L477.0,103.1L473.7,98.7L471.7,97.0L465.8,96.4L463.8,96.6L463.2,97.0L462.1,99.0L461.7,101.0L462.0,105.1L463.1,107.1ZM426.3,105.1L428.2,105.7L430.2,105.6L432.2,105.0L433.9,103.1L434.2,101.0L433.5,99.0L432.2,97.7L430.2,96.8L428.2,96.3L426.2,97.3L424.0,99.0L422.5,101.0L423.2,103.1L424.3,104.1L426.3,105.1ZM454.9,105.1L455.9,105.8L457.0,105.1L458.0,103.1L457.6,101.0L455.9,99.5L454.5,101.0L453.9,103.1L454.9,105.1ZM464.9,90.8L471.7,91.2L474.8,88.8L476.3,86.8L477.0,84.7L477.4,82.7L477.7,78.6L453.9,78.6L454.3,82.7L454.8,84.7L455.9,87.0L459.9,88.5L463.8,90.7L464.9,90.8ZM424.0,86.8L426.2,88.0L428.2,88.5L430.2,88.0L432.2,86.9L433.9,84.7L432.2,82.3L430.2,81.3L428.2,81.0L426.2,81.3L424.3,82.3L422.6,84.7L424.0,86.8ZM438.5,86.8L440.1,88.4L442.1,88.7L444.0,88.6L445.8,86.8L446.1,84.7L445.4,82.7L444.0,81.1L442.1,81.0L440.1,81.4L439.0,82.7L438.1,84.7L438.5,86.8ZM483.5,86.8L485.6,87.5L487.6,86.6L489.1,82.7L489.5,78.6L481.6,78.6L482.0,82.7L483.5,86.8ZM509.7,80.7L511.3,81.9L513.3,80.4L514.1,78.6L508.5,78.6L509.7,80.7Z"/>
<path fill="#00ffff" stroke="#00ffff" stroke-width="0.6" d="M263.9,486.1L305.9,486.1L307.6,484.6L309.5,484.0L311.5,484.2L313.6,486.1L318.7,486.1L318.4,480.0L317.7,478.0L315.5,476.9L311.5,476.0L307.6,475.6L305.6,475.1L303.0,473.9L302.6,471.9L302.6,467.8L302.2,465.8L299.7,463.9L297.7,465.0L295.7,468.6L293.7,469.5L291.7,467.5L289.2,461.7L287.8,460.4L285.8,459.7L283.8,460.4L278.2,465.8L272.9,471.9L265.0,478.0L265.0,482.1L263.9,486.1ZM360.5,486.1L365.6,486.1L366.5,482.1L366.9,481.4L368.9,480.1L370.9,481.1L371.9,482.1L372.8,486.1L381.5,486.1L382.7,484.6L384.7,484.3L386.6,486.1L459.9,486.1L460.0,484.1L460.5,482.1L467.9,478.0L468.3,475.9L467.7,473.9L465.2,471.9L463.5,469.8L465.8,467.8L468.8,465.8L469.7,463.7L469.5,461.7L460.5,457.6L460.0,455.6L460.6,453.5L469.0,449.4L468.9,447.4L467.7,445.4L465.8,444.4L459.9,442.3L458.1,441.3L459.9,440.3L465.8,438.7L469.2,437.2L470.6,435.2L470.9,433.1L467.8,431.8L461.8,430.8L457.9,429.2L457.2,427.0L458.0,425.0L461.8,423.4L467.8,422.6L471.7,421.1L472.9,418.9L473.2,416.8L472.3,412.8L473.7,411.1L475.7,409.8L477.7,409.1L483.6,408.5L485.6,407.8L487.6,406.6L488.8,404.6L489.0,402.6L488.9,400.5L487.7,396.5L488.4,394.4L489.5,393.1L491.5,392.3L493.5,393.7L494.4,396.5L493.3,404.6L493.9,406.7L495.5,408.7L497.5,408.5L498.8,406.7L499.4,404.6L499.4,400.5L499.8,396.5L500.6,394.4L501.4,393.3L503.4,393.2L507.7,394.4L509.3,395.5L510.0,396.5L509.5,398.5L508.6,400.5L509.2,404.6L510.0,406.7L511.3,408.4L513.3,408.2L516.1,404.6L516.5,402.6L516.6,400.5L514.8,396.5L515.3,394.2L516.4,392.4L517.2,391.9L519.2,391.1L525.1,389.7L528.2,388.3L529.3,386.3L530.3,382.2L530.0,380.2L529.1,379.7L525.1,378.4L519.2,377.8L517.2,377.2L515.3,376.1L516.2,374.1L517.6,372.0L519.2,370.6L521.2,369.9L523.2,370.4L525.1,372.8L527.1,373.9L529.1,372.9L530.1,372.0L532.2,367.9L531.9,365.9L530.2,361.8L529.1,360.5L527.1,359.7L525.1,361.0L523.2,364.7L521.2,365.8L519.2,366.0L517.2,365.3L515.9,363.9L514.9,361.8L513.3,360.0L511.3,360.0L509.6,361.8L508.7,363.9L507.3,365.3L505.4,366.0L503.4,366.0L501.4,365.2L499.4,361.7L497.5,363.8L494.7,367.9L496.3,372.0L496.2,374.1L495.4,376.1L493.5,377.7L491.5,378.2L489.5,378.1L487.6,376.9L487.0,376.1L486.6,372.0L487.8,367.9L486.8,365.9L485.3,363.9L483.6,362.2L482.0,363.9L479.8,367.9L481.5,372.0L480.9,376.1L479.6,377.6L477.7,378.2L475.7,378.0L473.2,376.1L473.0,372.0L473.5,367.9L472.1,363.9L469.8,361.9L467.8,362.1L465.9,363.9L464.8,365.9L464.3,367.9L465.0,372.0L462.4,376.1L459.9,377.8L458.4,378.1L455.9,378.3L453.9,377.9L450.6,376.1L449.3,374.1L448.6,372.0L450.6,367.9L450.7,365.9L450.3,363.9L445.7,359.8L445.3,357.8L445.6,355.7L447.3,353.7L448.3,351.6L446.0,350.5L440.1,348.6L434.2,346.2L426.2,344.5L424.3,343.5L422.0,339.4L416.4,335.9L414.4,334.2L412.4,333.3L410.4,333.2L408.4,333.9L406.7,335.4L403.6,339.4L403.1,343.5L400.5,345.9L392.2,351.6L393.5,353.7L395.7,355.7L399.4,357.8L402.1,359.8L400.5,360.8L393.4,363.9L392.4,365.9L392.6,368.0L401.1,372.0L401.6,374.1L401.0,376.1L398.6,377.4L392.6,379.4L391.3,380.2L390.1,384.2L388.7,385.1L382.7,386.9L379.7,388.3L382.7,389.8L388.7,391.7L390.6,393.1L391.8,394.4L392.8,396.5L392.5,398.5L390.4,404.6L390.6,405.1L392.6,407.2L400.4,410.7L401.7,412.8L393.4,416.8L392.4,418.9L392.6,420.9L394.6,422.0L400.5,423.9L402.5,425.0L399.2,427.0L394.7,429.1L389.4,433.1L390.0,435.2L391.5,437.2L400.6,441.3L398.6,442.4L396.6,443.0L390.6,443.9L387.3,445.4L386.7,447.4L386.9,449.4L388.8,453.5L388.2,455.6L386.8,457.6L382.7,459.2L376.8,460.3L373.9,461.7L373.3,463.7L373.3,467.8L372.7,469.8L370.9,470.8L362.9,472.8L360.6,473.9L359.2,475.9L358.5,478.0L360.5,486.1ZM529.4,486.1L531.8,486.1L532.3,482.1L533.1,480.9L535.0,479.9L537.0,480.2L539.4,482.1L539.7,484.1L539.5,486.1L582.5,486.1L582.5,434.1L580.4,433.1L578.5,429.1L576.6,427.4L574.6,427.0L572.6,427.7L569.1,431.1L567.9,433.1L568.9,437.2L568.7,439.3L567.7,441.3L564.7,442.6L558.8,444.4L556.8,445.4L555.3,447.4L554.4,449.4L554.3,453.5L553.5,455.6L552.0,457.6L548.9,459.0L542.9,460.7L541.0,461.7L540.9,463.7L541.4,465.8L541.3,467.8L540.6,469.8L539.0,470.8L533.1,472.4L529.7,473.9L528.4,475.9L527.8,478.0L529.1,482.1L529.4,486.1ZM186.9,406.7L190.9,405.7L194.8,405.7L200.8,397.5L206.7,392.1L211.9,386.3L212.6,384.2L211.9,382.2L210.6,380.8L205.0,378.1L203.1,376.1L203.9,374.1L207.4,372.0L208.5,370.0L207.2,367.9L206.7,367.4L204.7,367.0L200.8,367.0L198.8,366.5L197.6,363.9L197.1,361.8L196.4,355.7L195.0,351.6L192.8,350.7L190.9,350.5L186.9,350.3L186.9,355.7L188.8,357.8L189.0,359.8L188.4,361.8L186.9,363.6L186.9,406.7ZM192.7,308.9L194.8,309.3L196.8,308.6L198.8,307.2L199.8,304.8L201.8,296.6L202.7,294.8L204.7,294.2L208.7,294.1L210.6,293.6L211.9,290.5L213.0,284.4L214.6,280.2L216.6,278.8L218.6,278.2L222.5,280.1L224.5,280.3L226.5,279.7L227.9,276.3L228.8,270.1L229.4,268.1L230.4,266.0L234.4,275.4L236.4,276.9L238.3,277.5L242.3,272.0L244.3,267.4L246.2,264.1L247.3,266.1L249.2,272.2L250.2,274.2L252.2,274.4L254.2,273.4L258.1,264.9L260.1,266.2L263.5,274.2L265.6,276.3L266.0,276.5L272.0,274.3L273.9,274.0L275.9,275.1L277.3,276.3L278.6,278.3L280.4,284.4L281.9,287.5L283.2,284.4L285.0,278.3L285.8,276.8L289.8,275.6L290.5,274.2L292.5,268.1L293.7,265.5L295.7,265.0L297.7,265.5L301.6,274.2L303.6,274.4L305.6,273.4L308.6,266.1L309.5,264.5L311.5,267.2L313.5,271.1L315.5,273.3L317.5,274.6L323.1,266.1L325.4,263.4L329.3,262.9L333.3,259.8L334.7,257.9L335.3,255.9L335.2,253.8L334.4,251.8L332.8,249.8L329.3,244.0L325.4,241.6L324.4,239.6L322.8,231.4L320.4,225.3L318.6,219.2L317.5,216.9L315.5,217.9L313.5,219.6L311.5,219.9L309.5,219.5L305.6,214.8L303.6,214.4L301.6,214.5L297.7,216.6L295.7,215.8L293.7,214.5L291.9,211.1L291.6,209.0L291.7,206.4L292.1,204.9L293.7,202.3L297.7,199.7L301.6,200.4L303.6,199.9L305.6,198.8L307.3,196.8L307.5,194.8L305.6,192.4L301.6,190.9L297.7,191.5L293.7,191.2L291.9,188.6L291.7,186.6L292.3,184.6L293.7,183.3L297.7,182.6L301.6,184.4L305.6,182.2L307.2,180.5L305.6,178.7L303.6,177.2L301.6,176.2L297.7,177.5L293.7,177.0L292.9,176.4L291.8,174.4L291.6,172.3L292.1,170.3L293.7,168.3L295.7,167.6L297.7,167.4L301.6,169.1L305.7,166.2L307.7,164.2L304.3,162.2L303.5,160.1L303.5,158.1L304.2,156.0L305.6,154.7L307.6,153.7L309.4,152.0L309.4,149.9L307.6,148.2L305.6,147.2L304.2,145.9L303.5,143.8L303.7,141.8L304.8,139.8L308.4,137.7L309.6,135.7L308.9,133.6L307.6,132.5L303.6,130.8L301.6,130.4L297.7,132.6L296.8,133.6L295.8,135.7L296.9,137.7L299.2,139.8L299.7,141.8L299.1,143.8L297.7,145.5L295.7,146.9L293.7,147.8L292.7,145.9L292.1,143.8L291.5,137.7L290.3,133.6L289.8,132.7L287.8,132.4L283.8,133.4L281.9,134.5L280.6,137.7L279.2,143.8L278.4,145.9L277.9,146.7L276.1,147.9L273.9,148.4L270.0,146.5L268.0,146.6L266.0,147.1L262.6,149.9L262.4,152.0L264.0,153.3L266.0,154.1L270.0,154.8L272.0,153.8L273.9,153.3L274.9,154.0L275.9,155.7L277.1,160.1L277.0,162.2L275.9,163.0L273.9,163.8L270.0,164.2L266.0,164.2L264.0,164.9L262.3,166.2L262.1,168.3L264.0,169.9L266.0,170.5L268.0,170.4L272.0,169.5L273.9,169.4L276.6,170.3L278.0,172.3L277.3,174.4L275.9,175.5L273.9,176.3L270.0,175.0L268.0,174.9L266.0,175.2L264.1,176.4L262.9,178.5L262.2,180.5L261.7,186.6L261.0,188.6L259.7,190.7L258.1,192.1L254.2,191.2L252.2,191.5L250.0,192.7L248.6,196.8L247.8,202.9L246.2,206.9L244.3,207.7L242.1,207.0L240.6,202.9L239.7,196.8L238.3,193.6L236.4,193.9L234.4,195.4L233.0,198.8L231.4,204.9L230.4,206.7L229.4,204.9L227.4,198.8L226.5,196.9L224.5,195.7L222.5,195.6L218.6,204.2L216.6,204.8L214.6,204.3L210.6,195.1L208.7,194.8L206.7,195.7L204.7,198.8L202.7,201.2L200.8,199.4L198.8,196.9L196.8,196.3L194.8,196.7L190.9,204.3L188.9,204.8L186.9,204.9L186.9,280.4L188.6,282.4L188.4,284.4L186.9,285.7L186.9,294.6L190.9,295.5L191.8,296.6L192.7,298.7L191.5,300.7L190.9,301.2L186.9,302.0L186.9,307.3L192.7,308.9ZM190.5,133.6L194.8,135.0L196.8,134.4L198.8,133.0L199.5,131.6L201.8,123.4L202.7,121.8L204.7,121.1L206.7,121.0L208.7,121.5L210.6,121.4L211.6,119.4L213.3,113.3L214.6,110.1L216.6,108.5L218.6,107.6L222.5,107.6L224.5,106.6L226.5,105.1L227.4,103.1L229.1,97.0L230.4,93.9L232.4,92.9L234.4,92.6L238.3,93.7L240.3,92.4L242.3,90.5L243.7,88.8L244.3,86.8L243.9,84.7L242.3,82.8L238.3,80.7L237.4,78.6L186.9,78.6L186.9,122.9L188.9,122.8L190.9,123.1L192.6,125.5L192.9,127.5L192.0,129.6L190.9,130.3L186.9,130.8L186.9,133.3L190.5,133.6Z"/>
<path fill="none" stroke="#000" stroke-width="1" stroke-linejoin="round" d="M186.9,469.2L194.8,467.1L197.5,463.7L200.4,457.6L202.7,454.0L214.0,443.3L217.5,439.3L222.0,435.2L225.8,431.1L236.4,420.9L242.0,414.8L251.9,406.7L260.1,397.6L265.7,390.4L269.6,386.3L272.0,382.8L273.9,380.6L281.9,379.0L282.7,378.1L291.4,367.9L295.9,359.8L299.7,355.5L300.8,353.7L303.6,346.9L305.6,343.4L307.6,342.6L319.4,339.7L321.4,339.0L323.4,336.5L327.4,329.2L338.9,317.0L343.6,310.9L347.9,306.8L353.1,300.9L361.0,295.6L362.0,294.6L363.6,292.6L367.1,286.4L371.2,282.4L375.9,276.3L380.0,272.2L384.6,266.1L392.6,259.9L400.5,257.5L406.1,251.8L416.1,243.7L418.5,239.6L421.0,231.4L422.3,228.4L424.3,225.9L428.2,222.1L434.4,215.1L436.8,211.1L438.1,207.3L439.9,204.9L446.0,208.3L448.0,208.5L452.0,205.5L456.3,202.9L457.9,200.1L460.8,192.7L462.2,190.7L466.0,186.6L470.0,180.5L493.5,158.1L497.5,154.0L502.4,147.9L505.1,145.9L511.8,141.8L517.2,134.6L521.2,130.4L525.1,123.6L526.9,121.4L531.0,117.3L534.3,113.3L538.6,109.2L541.9,105.1L545.9,101.0L549.9,94.9L554.8,89.8L558.6,84.7L564.0,80.7L565.0,78.6M582.5,96.6L580.5,97.7L576.6,103.2L571.7,107.1L566.7,112.2L560.7,116.4L556.8,120.5L552.8,123.9L548.9,128.2L544.9,131.7L541.0,135.9L538.9,137.7L532.2,141.8L528.1,145.9L521.2,151.5L517.2,158.4L515.3,161.2L509.3,166.1L505.4,170.3L483.6,194.5L477.7,198.6L473.7,202.6L471.7,204.0L464.6,207.0L461.8,208.6L459.3,213.1L456.4,217.2L456.6,219.2L459.9,225.5L457.5,227.4L453.9,228.8L450.0,231.1L443.2,237.5L439.6,241.6L437.1,243.7L434.2,245.0L426.2,247.6L422.3,250.0L414.4,260.3L408.8,266.1L406.6,274.2L400.5,282.5L394.6,287.2L390.6,291.4L384.7,296.3L380.8,300.5L374.8,304.1L372.8,305.8L371.8,306.8L366.8,315.0L361.0,320.3L357.0,324.7L351.1,329.6L339.2,341.4L332.2,345.5L329.8,347.6L326.2,361.8L325.4,363.9L322.0,365.9L315.5,368.8L313.7,370.0L309.5,373.8L301.6,378.5L291.7,387.4L290.9,388.3L289.4,396.5L287.2,398.5L283.8,400.9L279.9,405.0L272.9,410.7L264.0,419.2L256.1,429.4L250.2,435.1L240.3,446.1L236.4,449.9L232.4,454.6L228.4,458.2L218.1,469.8L214.6,472.3L208.7,475.2L205.4,478.0L203.3,486.1M186.9,452.7L192.8,452.4L194.8,451.9L195.3,451.5L197.1,449.4L198.2,447.4L199.7,443.3L201.0,441.3L205.1,437.2L208.7,432.6L212.5,429.1L216.6,423.5L220.5,420.1L225.0,414.8L234.4,406.8L238.3,404.5L250.2,392.2L254.2,386.8L255.6,384.2L256.3,380.2L255.6,376.1L253.1,372.0L252.1,367.9L252.3,363.9L252.9,361.8L254.2,360.1L258.1,357.8L268.0,358.0L272.0,358.5L273.9,359.1L274.9,359.8L279.9,364.7L281.9,365.7L283.8,364.2L285.2,361.8L286.4,355.7L287.5,353.7L291.7,349.6L294.8,345.5L300.1,339.4L302.2,337.4L305.6,335.1L307.6,333.3L308.7,331.3L309.3,329.2L309.4,327.2L309.0,323.1L309.5,321.8L311.5,320.9L313.5,320.9L317.5,322.0L319.4,321.6L321.4,320.7L322.3,319.0L324.3,312.9L325.4,310.7L329.3,309.1L337.2,300.9L343.2,295.3L346.6,292.6L351.1,285.5L352.1,284.4L362.8,276.3L366.9,270.6L370.9,266.8L374.8,261.3L376.2,260.0L385.5,253.8L387.2,251.8L388.1,249.8L389.1,245.7L392.6,240.5L394.6,240.0L396.6,240.3L397.8,241.6L398.8,243.7L400.5,245.2L404.5,244.7L406.5,243.9L408.4,242.7L409.4,241.6L410.3,239.6L410.6,237.5L410.4,235.5L409.4,233.5L407.2,231.4L408.4,229.3L412.5,227.4L414.0,223.3L414.8,217.2L415.3,215.1L416.4,213.0L418.0,211.1L419.2,209.0L420.0,207.0L420.3,202.9L420.6,184.6L421.0,182.5L422.3,179.9L424.3,178.6L428.2,181.5L436.1,179.1L438.1,180.1L441.2,182.5L442.8,184.6L443.6,186.6L444.3,192.7L444.8,194.8L446.0,196.8L448.0,198.2L450.0,196.8L451.2,194.8L452.6,188.6L453.5,186.6L457.7,182.5L459.0,180.5L460.7,174.4L462.0,172.3L463.8,170.5L473.7,162.5L482.1,154.0L491.5,143.1L495.5,141.9L501.4,136.4L506.0,133.6L507.3,131.6L507.5,129.6L506.3,127.5L501.5,125.5L499.9,123.4L501.4,122.1L503.4,121.3L511.3,120.9L519.2,116.7L520.8,115.3L522.2,113.3L525.0,107.1L529.2,103.1L533.1,96.0L537.0,91.9L541.0,86.2L544.4,82.7L545.7,80.7L546.4,78.6M305.6,429.9L304.7,429.1L305.6,428.0L307.6,427.2L309.8,429.1L307.6,430.9L305.6,429.9M321.4,430.6L320.0,429.1L321.4,427.4L323.4,428.3L323.9,429.1L323.4,429.8L321.4,430.6M321.4,418.4L319.9,416.8L319.1,414.8L318.7,412.8L319.4,410.6L321.4,409.4L323.4,411.2L324.0,412.8L322.7,416.8L321.4,418.4M298.2,406.7L299.7,408.3L301.6,406.7L302.1,404.6L301.6,402.6L299.7,400.9L298.2,402.6L297.5,404.6L298.2,406.7M265.6,372.0L266.0,372.2L268.0,371.4L269.6,370.0L267.9,367.9L266.0,367.4L264.2,367.9L262.4,370.0L264.0,371.4L265.6,372.0M242.3,364.8L241.5,363.9L240.5,361.8L242.3,359.6L244.1,361.8L243.3,363.9L242.3,364.8M256.1,350.0L254.2,349.2L252.7,347.6L254.2,346.2L255.6,345.5L258.1,344.9L259.7,345.5L261.4,347.6L260.1,349.7L258.1,350.3L256.1,350.0M242.3,349.0L240.8,347.6L241.6,345.5L242.3,345.0L243.1,345.5L243.9,347.6L242.3,349.0M455.9,319.3L453.7,317.0L452.8,315.0L453.9,314.0L455.9,313.1L459.9,312.8L461.8,313.3L464.1,315.0L464.0,317.0L463.2,319.0L461.8,320.1L459.9,321.0L457.9,320.8L455.9,319.3M475.7,316.8L473.8,315.0L473.7,312.9L474.0,310.9L475.7,309.2L477.5,310.9L478.7,312.9L479.0,315.0L477.7,316.2L475.7,316.8M455.9,308.9L453.9,308.8L452.0,307.8L450.8,306.8L449.4,302.8L448.6,294.6L447.8,290.5L447.9,288.5L448.4,286.4L450.0,285.3L453.9,284.5L457.9,284.9L459.9,285.5L461.3,286.4L462.0,290.5L464.5,298.7L463.8,300.8L461.8,304.2L459.5,306.8L457.9,308.1L455.9,308.9M477.7,304.9L475.7,304.5L473.5,302.8L473.0,300.7L473.0,298.7L475.5,294.6L475.7,293.4L475.7,290.5L474.6,286.4L474.8,284.4L475.5,282.4L477.1,280.3L478.1,278.3L478.2,276.3L477.5,272.2L477.4,270.1L479.6,268.5L481.6,268.0L483.6,268.5L485.0,270.1L482.0,278.3L483.6,279.9L485.6,280.4L487.6,280.2L489.5,279.1L490.2,278.3L490.5,276.3L490.2,270.1L491.7,266.1L493.5,264.4L495.5,264.0L497.5,265.0L499.4,267.4L501.4,268.2L503.4,267.9L507.3,264.2L509.3,264.2L511.3,266.1L511.6,268.1L510.9,270.1L509.3,271.1L501.4,273.4L500.3,274.2L500.5,276.3L501.4,278.4L509.5,282.4L509.6,284.4L508.6,286.4L505.4,287.9L499.4,289.0L497.5,289.7L496.5,290.5L496.6,292.6L498.2,298.7L497.1,300.7L495.4,302.8L493.5,304.1L491.5,304.6L489.5,303.7L486.1,298.7L490.2,294.6L490.5,292.6L490.5,290.5L489.5,289.4L487.6,288.5L485.6,288.3L483.6,288.6L481.6,289.9L481.2,290.5L480.8,292.6L480.7,294.6L482.5,298.7L482.4,302.8L481.6,303.7L479.6,304.7L477.7,304.9M436.1,303.1L435.7,302.8L438.1,300.8L440.1,301.6L440.8,302.8L440.1,303.9L438.1,304.6L436.1,303.1M455.9,296.6L457.9,295.7L458.6,294.6L457.9,293.0L455.9,292.5L453.9,294.0L453.6,294.6L453.9,295.4L455.9,296.6M550.9,295.8L549.8,294.6L550.9,293.4L552.8,293.1L553.9,294.6L552.8,296.1L550.9,295.8M564.7,295.6L563.9,294.6L563.4,292.6L563.3,290.5L564.7,289.2L566.7,288.4L568.7,288.6L571.3,290.5L571.5,292.6L570.7,294.6L568.7,296.4L566.7,296.6L564.7,295.6M436.1,291.5L435.1,290.5L434.1,288.5L433.6,286.4L434.2,282.4L434.2,279.6L433.9,278.3L432.8,276.3L432.1,274.2L433.0,270.1L434.2,268.7L436.1,268.2L439.0,270.1L439.7,272.2L439.9,274.2L438.4,278.3L438.2,280.3L438.6,282.4L440.6,284.4L441.6,286.4L441.2,288.5L440.1,291.2L438.1,292.4L436.1,291.5M424.3,288.2L422.9,286.4L424.3,284.7L426.2,285.6L426.7,286.4L426.2,287.3L424.3,288.2M558.8,284.4L552.8,284.0L550.9,283.4L549.3,282.4L548.8,280.3L548.8,278.3L550.3,274.2L549.5,266.1L550.0,264.0L550.9,262.0L552.8,260.3L554.8,259.9L556.8,260.8L558.8,263.1L560.7,264.1L562.7,263.9L564.7,262.6L566.7,260.6L568.5,260.0L570.6,259.9L572.6,260.5L574.5,262.0L575.1,264.0L574.9,270.1L573.8,274.2L578.7,278.3L578.0,280.3L576.3,282.4L572.6,283.9L568.7,284.4L558.8,284.4M539.0,283.9L537.2,282.4L536.8,280.3L537.3,278.3L539.0,276.8L540.3,278.3L540.7,280.3L540.8,282.4L539.0,283.9M560.1,276.3L562.7,276.3L564.7,275.4L565.7,274.2L566.0,272.2L565.8,270.1L564.7,268.9L562.7,268.1L560.7,268.0L558.8,268.8L557.5,270.1L557.0,272.2L556.9,274.2L558.8,275.9L560.1,276.3M450.0,276.1L448.0,274.2L450.0,272.3L452.0,272.3L454.2,274.2L452.0,276.1L450.0,276.1M541.0,268.2L539.0,267.4L537.7,266.1L539.0,264.8L541.0,264.0L542.9,264.1L544.9,265.9L544.9,266.3L542.9,268.0L541.0,268.2M493.5,245.2L491.9,243.7L491.3,241.6L493.5,239.3L495.5,239.3L498.3,241.6L497.2,243.7L495.5,244.9L493.5,245.2M380.8,243.0L379.0,241.6L380.0,239.6L380.8,239.1L381.5,239.6L382.5,241.6L380.8,243.0M471.1,237.5L473.7,238.5L475.7,238.5L478.2,237.5L478.8,235.5L478.7,233.5L477.7,230.8L475.7,229.4L473.7,229.2L471.7,229.6L469.8,231.1L468.6,233.5L469.3,235.5L471.1,237.5M392.6,233.5L390.6,232.9L388.7,231.7L387.4,231.4L384.7,231.4L380.8,232.0L378.8,231.5L376.8,230.5L375.9,229.4L374.9,227.4L376.1,225.3L376.8,224.8L380.8,223.7L382.7,224.8L384.7,226.9L386.7,227.3L388.7,227.0L392.6,225.5L394.6,225.7L396.6,226.4L397.4,227.4L398.5,229.4L398.0,231.4L396.6,232.6L392.6,233.5M364.9,229.8L363.1,227.4L363.8,225.3L364.9,224.6L366.0,225.3L366.8,227.4L364.9,229.8M376.8,217.4L372.8,216.6L364.9,215.7L361.0,214.2L360.0,213.1L359.0,211.1L358.9,209.0L359.7,207.0L361.0,205.3L363.6,202.9L366.8,200.9L368.9,200.1L376.8,202.8L380.8,203.5L381.7,204.9L382.6,209.0L382.6,211.1L381.8,215.1L380.8,216.7L378.8,217.3L376.8,217.4M392.6,217.2L390.8,215.1L390.8,213.1L392.6,210.8L394.5,213.1L394.5,215.1L392.6,217.2M351.1,211.3L349.1,209.3L347.4,207.0L347.2,204.9L348.0,202.9L349.1,201.5L351.1,200.7L353.1,200.6L354.7,202.9L355.0,204.5L355.2,207.0L354.9,209.0L354.0,211.1L353.1,212.3L351.1,211.3M372.1,211.1L372.8,211.4L373.5,211.1L374.9,209.0L374.4,207.0L372.8,206.3L371.7,207.0L370.8,209.0L372.1,211.1M429.6,194.8L432.2,196.0L434.2,195.0L435.9,192.7L436.4,190.7L436.1,188.6L434.7,186.6L434.2,186.3L432.2,185.6L430.2,185.5L428.2,186.0L427.9,186.6L427.3,188.6L427.3,190.7L427.9,192.7L429.6,194.8M355.0,190.7L353.1,190.6L351.3,188.6L351.8,186.6L353.1,185.2L355.0,185.5L357.0,186.8L358.6,188.6L357.0,190.4L355.0,190.7M364.9,190.9L363.2,188.6L362.8,186.6L363.0,184.6L364.0,182.5L364.9,181.8L366.9,181.5L368.9,181.6L372.8,183.5L376.8,183.0L377.4,182.5L378.6,180.5L378.9,178.5L378.8,176.4L377.9,174.4L376.8,173.4L374.8,173.4L372.8,173.7L368.9,178.0L364.9,175.1L364.0,174.4L363.2,172.3L363.6,170.3L364.9,168.3L366.9,166.6L368.9,165.5L374.8,167.1L376.8,167.2L377.6,166.2L378.3,164.2L379.3,158.1L380.1,156.0L380.8,154.7L382.7,153.7L384.7,153.8L388.7,162.3L390.6,163.1L392.6,163.3L393.4,162.2L395.7,154.0L396.6,152.4L398.6,151.7L400.5,151.9L402.3,154.0L402.3,156.0L398.8,160.1L398.5,162.2L399.3,164.2L401.6,166.2L402.5,168.3L402.2,170.3L400.5,172.2L396.6,173.7L390.6,173.4L388.7,173.7L387.9,174.4L386.8,176.4L386.6,178.5L387.1,180.5L388.7,182.2L396.6,179.0L398.2,180.5L398.6,182.5L398.2,184.6L396.6,186.9L394.6,186.8L390.6,186.1L388.7,186.1L386.7,187.2L384.7,188.8L382.7,189.5L380.8,189.7L377.1,188.6L374.8,188.6L372.8,188.9L370.4,190.7L368.9,191.5L366.9,191.4L364.9,190.9M424.3,172.6L422.3,171.9L420.8,170.3L421.1,168.3L422.3,166.5L424.3,165.3L426.5,168.3L426.5,170.3L424.3,172.6M386.7,125.7L384.7,125.3L383.2,123.4L384.7,121.6L386.7,121.6L388.7,122.1L390.1,123.4L388.7,125.2L386.7,125.7M400.5,124.8L399.2,123.4L398.5,121.4L398.6,119.4L400.5,117.2L402.4,119.4L402.6,121.4L401.8,123.4L400.5,124.8M582.5,115.8L580.5,116.5L578.5,117.9L575.2,121.4L569.6,125.5L565.7,129.6L558.8,133.5L554.8,137.9L548.9,140.8L546.9,142.2L545.5,143.8L541.5,152.0L541.1,160.1L540.3,162.2L539.0,163.8L537.0,162.1L535.0,157.1L533.1,155.9L531.1,156.1L529.1,157.5L526.4,162.2L521.1,168.3L519.9,172.3L509.3,182.0L501.1,190.7L493.3,200.9L491.5,202.7L489.5,204.1L483.6,205.9L481.6,207.2L477.7,211.5L475.7,212.5L469.8,213.9L467.7,215.1L466.5,217.2L467.8,219.3L469.8,220.4L471.7,221.0L477.7,221.7L479.6,222.5L481.6,224.1L484.0,227.4L485.0,229.4L482.7,237.5L485.4,241.6L484.2,243.7L481.6,245.0L479.6,245.4L461.8,245.7L457.9,246.1L455.9,246.8L453.9,248.1L452.1,249.8L450.0,250.8L448.0,251.4L442.1,252.2L438.1,253.8L436.2,257.9L434.2,259.2L432.2,256.9L430.2,255.9L428.2,255.7L426.2,256.0L424.3,257.0L423.3,257.9L422.0,260.0L421.3,262.0L420.8,266.1L422.3,267.9L424.3,268.9L425.6,270.1L425.9,272.2L425.4,274.2L420.3,277.9L416.4,278.8L414.4,279.8L412.4,281.6L406.5,291.1L405.2,292.6L399.8,296.6L396.1,300.7L390.6,304.9L381.7,317.0L374.8,321.6L372.1,325.2L366.8,331.3L358.8,339.4L357.2,343.5L355.0,344.6L349.1,346.6L347.5,347.6L346.6,349.6L346.2,351.6L347.4,355.7L347.3,357.8L346.4,359.8L345.1,360.4L343.2,360.3L341.2,359.9L339.2,360.0L337.2,360.7L335.3,361.8L333.5,363.9L331.3,367.3L329.3,369.5L323.4,375.0L319.4,378.2L315.5,382.5L313.5,383.6L307.6,384.9L305.3,386.3L303.8,388.3L304.8,390.4L309.5,395.5L310.2,396.5L310.8,398.5L311.3,402.6L311.5,412.8L309.3,416.8L307.6,418.1L305.6,418.8L301.6,419.0L299.7,418.7L297.7,418.0L293.7,415.3L289.8,414.6L285.8,415.3L283.3,416.8L278.1,420.9L266.2,433.1L263.9,437.2L256.1,446.9L251.0,451.5L247.7,455.6L242.3,459.7L238.8,463.7L234.4,467.4L230.4,471.6L228.4,473.0L224.5,474.5L222.5,475.7L220.5,477.5L220.1,478.0L219.6,480.0L219.4,486.1M386.7,113.4L384.7,112.8L383.7,111.2L382.8,107.1L382.9,90.8L383.8,86.8L384.7,85.0L386.7,83.2L388.7,82.6L392.6,87.6L396.6,86.5L398.6,86.2L402.5,86.2L404.5,86.9L406.0,88.8L406.6,90.8L406.5,92.9L405.8,94.9L403.9,97.0L402.6,99.0L402.5,101.0L403.4,103.1L405.7,105.1L406.5,107.2L406.2,109.2L404.5,111.2L402.5,112.1L400.5,112.6L392.6,111.8L388.7,113.4L386.7,113.4M372.8,112.3L371.6,111.2L371.4,109.2L372.8,108.0L374.3,109.2L374.0,111.2L372.8,112.3M390.9,103.1L392.6,105.0L394.6,104.9L396.6,104.4L397.9,103.1L398.6,101.0L398.6,99.0L397.8,97.0L396.6,95.8L394.6,95.7L392.6,96.0L391.5,97.0L390.7,99.0L390.5,101.0L390.9,103.1M372.8,97.8L371.8,97.0L370.9,94.9L371.1,92.9L372.8,90.8L374.8,90.0L376.8,90.2L378.6,92.9L378.8,94.9L378.1,97.0L376.8,98.4L374.8,98.3L372.8,97.8M186.9,437.2L190.9,436.7L194.8,437.2L196.8,435.3L200.7,429.1L204.7,424.9L208.7,417.5L212.6,413.7L214.6,410.5L216.3,408.7L218.6,407.2L222.5,405.7L223.4,404.6L226.5,399.1L235.8,390.4L239.6,386.3L240.3,384.2L239.3,382.2L234.4,379.0L233.4,378.1L232.7,376.1L234.4,374.4L238.3,372.0L239.7,370.0L238.3,368.2L236.4,367.1L230.4,365.9L228.8,363.9L228.4,361.8L229.1,359.8L230.4,358.7L234.4,357.7L236.2,355.7L236.2,353.7L234.4,351.7L228.4,350.6L226.5,349.5L225.0,347.6L224.4,345.5L224.8,343.5L226.5,341.0L228.4,340.2L230.4,340.1L234.4,341.4L236.4,341.5L238.3,341.2L240.3,340.0L242.3,339.5L244.3,339.6L250.2,341.0L254.2,341.2L258.1,340.0L260.1,340.5L266.0,343.1L270.0,341.5L272.0,341.8L273.9,342.7L279.9,346.5L281.9,347.2L284.0,345.5L288.2,339.4L291.7,335.4L292.8,333.3L293.5,331.3L293.7,329.2L293.5,327.2L292.6,325.2L292.3,323.1L292.8,321.1L295.5,317.0L295.0,315.0L292.5,312.9L291.7,310.9L292.1,308.9L293.7,307.0L297.7,305.4L299.7,304.9L305.6,304.7L309.5,295.9L313.5,303.3L315.5,304.9L317.5,305.8L319.4,305.1L321.4,303.6L321.9,302.8L324.0,296.6L325.4,293.9L329.3,293.5L333.3,290.8L339.2,285.0L343.2,279.0L347.1,276.0L348.9,274.2L351.1,271.6L355.0,267.9L362.9,258.9L364.0,255.9L364.3,253.8L364.0,247.7L362.2,237.5L361.0,234.8L359.0,233.0L357.0,231.7L353.1,231.2L351.1,230.0L349.1,227.9L347.9,225.3L346.6,219.2L345.1,216.1L341.2,215.7L339.2,214.9L337.2,213.9L333.3,211.0L331.9,209.0L331.3,207.0L331.2,204.9L331.5,202.9L332.5,200.9L333.3,199.9L335.3,198.8L337.2,198.2L339.2,198.1L345.1,198.6L346.6,196.8L347.1,194.8L346.3,192.7L345.1,191.8L339.2,193.6L337.2,193.6L336.1,192.7L335.3,190.7L335.2,188.6L335.7,186.6L337.2,184.0L339.2,183.3L341.2,183.2L345.1,183.7L347.1,183.4L349.1,182.3L350.5,180.5L351.0,178.5L349.6,176.4L343.2,173.7L341.2,172.6L341.2,172.0L343.2,170.3L347.1,169.8L349.1,169.1L349.9,168.3L350.6,166.2L351.6,160.1L353.1,156.6L355.0,155.3L357.0,154.5L359.0,154.1L364.9,153.9L366.0,152.0L367.8,143.8L368.9,141.8L370.9,141.2L372.8,141.4L376.8,149.0L378.4,145.9L379.6,141.8L382.1,137.7L382.7,135.8L382.8,133.6L382.2,131.6L380.8,129.7L378.8,128.6L376.8,128.2L372.8,129.4L370.9,128.4L368.9,126.9L367.5,123.4L366.2,117.3L364.9,114.9L361.0,114.2L359.0,113.5L357.0,112.3L356.1,111.2L356.1,109.2L357.0,108.4L364.9,106.0L366.1,105.1L366.8,103.1L365.7,101.0L364.9,100.4L359.3,99.0L357.0,98.0L355.9,97.0L355.1,94.9L355.8,92.9L357.0,91.3L359.0,90.1L364.9,88.7L366.9,87.4L369.2,84.7L370.1,82.7L370.8,78.6M341.2,429.4L341.0,429.1L341.2,428.8L343.2,427.1L345.1,427.8L346.0,429.1L345.1,430.0L343.2,430.8L341.2,429.4M357.0,430.8L355.7,429.1L355.3,427.0L355.3,425.0L357.0,423.5L358.8,425.0L359.3,427.0L359.0,429.1L357.0,430.8M343.2,414.1L342.0,412.8L342.6,410.7L343.2,409.8L345.1,409.2L346.0,410.7L346.6,412.8L345.1,414.5L343.2,414.1M357.0,414.4L355.6,412.8L357.0,409.4L359.0,409.9L360.0,412.8L359.0,413.8L357.0,414.4M242.3,327.4L240.7,325.2L241.4,323.1L242.3,322.3L243.5,323.1L244.2,325.2L242.3,327.4M258.1,326.3L256.9,325.2L256.4,323.1L258.1,321.7L260.1,322.2L261.6,323.1L261.0,325.2L258.1,326.3M242.3,312.3L240.7,310.9L242.3,308.8L244.3,308.5L246.2,309.0L247.7,310.9L246.2,312.7L244.3,312.7L242.3,312.3M258.1,312.3L256.5,310.9L257.1,308.9L258.1,307.8L260.9,308.9L261.3,310.9L258.1,312.3M496.9,306.8L497.5,307.5L499.4,308.8L501.4,308.6L502.9,306.8L501.4,305.2L499.4,305.2L496.9,306.8M527.1,308.1L525.8,306.8L525.6,304.8L525.8,302.8L527.1,301.3L529.1,300.8L531.3,302.7L531.6,304.8L531.2,306.8L529.1,308.7L527.1,308.1M582.5,296.7L578.5,297.5L576.6,298.3L573.9,300.7L572.7,302.8L571.3,308.9L570.2,310.9L568.7,312.1L566.7,312.8L564.7,312.1L563.7,310.9L562.7,308.5L561.3,302.8L560.7,302.0L558.8,300.8L556.8,301.5L555.9,302.8L553.6,310.9L552.8,311.8L550.9,311.8L549.8,310.9L548.7,308.9L548.0,306.8L547.3,302.8L544.9,301.4L539.0,300.1L535.7,298.7L534.1,296.6L533.2,294.6L534.4,290.5L534.0,288.5L533.0,286.4L531.1,285.0L529.1,284.3L527.0,284.4L525.1,285.0L521.2,287.6L517.2,288.9L514.2,290.5L521.5,294.6L521.8,296.6L521.2,298.7L519.2,299.7L511.3,301.7L509.5,302.8L509.3,308.9L508.9,310.9L508.1,312.9L506.8,315.0L503.4,316.5L497.5,317.5L495.5,318.2L494.7,319.0L494.0,321.1L493.5,325.1L491.8,327.2L491.3,327.2L490.2,325.2L487.6,318.5L485.6,317.1L483.6,317.6L481.8,319.0L480.8,321.1L480.5,323.1L481.0,327.2L480.9,329.2L480.2,331.3L477.7,332.9L475.7,333.4L473.7,333.3L471.7,332.4L470.8,331.3L470.9,329.2L472.6,323.1L471.7,321.9L469.8,321.1L467.8,321.6L466.0,323.1L466.6,329.2L466.5,331.3L465.9,333.3L464.8,335.4L463.8,336.1L461.8,337.2L459.9,337.5L457.9,337.4L455.9,336.8L454.0,335.4L451.2,331.3L450.2,329.2L449.5,327.2L449.0,323.1L446.0,321.7L440.1,320.3L437.6,319.0L435.6,317.0L434.4,315.0L433.9,310.9L430.9,306.8L428.2,305.5L418.3,303.7L412.4,303.4L410.4,303.7L407.5,304.8L398.8,312.9L395.1,317.0L392.6,319.3L390.9,321.1L388.0,325.2L382.2,329.2L376.5,335.4L373.9,339.4L373.5,343.5L370.9,344.9L364.9,347.0L364.1,347.6L362.7,349.6L362.0,351.6L362.8,353.7L364.4,355.7L371.6,359.8L363.1,363.9L362.8,370.0L362.4,372.0L360.8,376.1L359.0,377.7L357.0,378.2L355.0,377.4L353.1,374.8L351.1,374.3L347.1,377.1L345.1,377.5L343.2,377.2L341.2,376.4L339.2,376.1L337.2,376.4L335.3,377.0L333.3,378.2L329.3,381.8L323.4,386.1L321.8,388.3L322.4,390.4L326.2,396.5L327.0,398.5L327.3,400.5L325.7,404.6L328.3,410.7L328.8,412.8L327.6,416.8L327.8,420.9L329.2,427.0L329.3,429.1L328.7,431.1L327.6,433.1L327.3,435.2L327.4,437.2L328.7,441.3L328.6,443.3L327.8,445.4L325.4,447.1L323.4,447.5L321.4,446.9L319.5,445.4L318.5,443.3L317.4,437.2L315.5,435.4L313.5,435.4L311.6,437.2L310.6,441.3L309.5,442.6L307.6,443.4L305.6,443.0L303.6,441.3L302.4,435.2L301.4,433.1L299.7,431.7L297.7,433.1L295.4,437.2L293.7,439.0L291.7,438.2L290.9,437.2L287.8,432.1L285.8,431.2L283.8,431.8L279.9,435.7L271.4,445.4L266.0,448.5L265.0,449.4L263.5,453.5L262.1,455.9L260.3,457.6L257.2,459.6L253.5,463.7L246.3,467.8L242.3,471.9L236.3,475.9L234.4,478.0L234.9,482.1L234.4,486.1M525.5,276.3L529.2,276.3L531.1,275.6L532.7,274.2L531.1,272.8L529.2,272.2L525.1,272.2L523.2,273.1L521.8,274.2L523.2,275.4L525.5,276.3M455.6,266.1L457.9,267.3L459.9,267.8L463.8,268.1L469.8,267.7L473.6,266.1L475.1,264.0L476.1,262.0L476.5,260.0L476.7,255.9L476.4,253.8L475.7,252.9L473.7,251.8L471.7,252.1L470.0,253.8L469.5,257.9L467.8,259.5L466.4,257.9L466.3,253.8L465.8,253.0L463.8,251.9L461.8,252.6L457.7,255.9L456.0,257.9L455.2,264.0L455.6,266.1M485.9,253.8L487.6,255.7L489.5,254.9L490.2,253.8L489.5,252.8L487.6,252.0L485.9,253.8M499.5,253.8L501.4,255.7L503.4,255.7L505.2,253.8L505.7,251.8L505.8,249.8L505.4,249.0L503.4,247.7L501.1,247.7L499.4,249.8L499.2,251.8L499.5,253.8M486.6,219.2L487.6,220.7L489.5,219.8L489.8,219.2L490.0,217.2L489.5,215.3L487.6,213.8L486.6,215.1L485.9,217.2L486.6,219.2M566.7,214.0L565.8,213.1L566.7,211.9L568.7,211.4L570.1,213.1L568.7,214.6L566.7,214.0M400.3,209.0L400.5,209.3L402.5,209.7L408.4,208.9L410.4,207.2L413.7,202.9L414.3,200.9L413.2,198.8L412.4,198.3L408.4,198.2L406.9,196.8L408.4,195.0L412.4,194.5L414.1,192.7L414.4,190.7L413.3,188.6L412.4,187.9L410.4,187.6L406.5,187.8L404.5,188.3L402.5,189.3L400.5,190.8L398.9,194.8L398.6,198.8L398.9,204.9L399.4,207.0L400.3,209.0M410.6,176.4L412.4,178.1L414.2,176.4L413.4,174.4L412.4,173.7L411.4,174.4L410.6,176.4M444.6,176.4L446.0,177.4L448.0,178.1L450.0,177.4L451.3,176.4L449.9,174.4L448.0,173.9L445.5,174.4L444.6,176.4M360.3,166.2L361.0,166.8L362.6,164.2L362.6,162.2L361.0,160.6L359.3,162.2L359.0,164.2L360.3,166.2M413.1,164.2L414.4,164.5L416.4,164.3L418.5,162.2L418.3,159.9L417.1,158.1L416.4,157.7L414.4,157.7L412.4,158.2L410.6,160.1L410.6,162.2L412.4,164.1L413.1,164.2M391.5,139.8L392.6,141.1L393.7,139.8L394.6,137.3L394.6,133.5L394.0,131.6L392.6,129.9L391.3,131.6L390.6,133.6L390.7,137.7L391.5,139.8M361.0,137.0L359.7,135.7L359.2,133.6L361.0,131.5L362.9,131.1L364.9,131.3L366.8,133.6L366.4,135.7L364.9,137.1L362.9,137.3L361.0,137.0M582.5,131.8L580.5,132.4L578.4,133.6L574.5,137.7L569.5,141.8L565.6,145.9L559.1,149.9L557.7,152.0L559.1,154.0L560.7,155.0L562.7,155.7L568.7,156.4L570.6,157.2L572.0,158.1L573.8,160.1L573.4,162.2L571.8,166.2L571.4,168.3L571.5,170.3L571.2,172.3L568.7,174.1L566.7,174.1L564.9,172.3L564.9,168.3L564.2,166.2L562.7,164.5L560.7,164.1L558.8,165.1L557.8,166.2L555.2,172.3L554.8,172.7L552.8,173.7L550.9,174.1L544.9,174.7L542.9,175.1L541.0,176.1L539.0,177.9L537.0,178.0L535.5,176.4L532.7,172.3L531.1,170.9L529.1,170.7L523.5,176.4L522.9,178.5L521.9,184.6L519.0,188.6L510.8,196.8L507.5,200.9L501.4,203.8L496.7,209.0L497.2,215.1L496.5,221.2L497.5,223.3L499.4,225.3L501.4,226.7L503.7,227.4L507.5,229.4L503.7,231.4L501.4,232.1L499.9,233.5L499.8,235.5L500.4,237.5L501.4,238.4L503.4,239.3L509.3,240.4L511.5,241.6L512.3,243.7L512.4,245.7L511.0,249.8L511.8,253.8L518.3,262.0L521.2,263.7L525.1,264.2L527.1,264.0L529.1,263.3L531.0,262.0L535.0,257.9L537.4,253.8L539.0,252.6L541.0,254.6L542.9,255.7L546.9,255.9L548.9,255.4L550.9,253.9L552.8,251.2L554.8,249.6L556.8,248.9L557.6,249.8L559.6,253.8L560.7,255.2L562.7,255.8L564.7,254.7L568.7,248.9L570.6,249.6L572.6,250.8L577.8,255.9L580.4,257.9L582.5,258.8M452.0,95.8L451.1,94.9L450.5,92.9L452.0,91.4L453.6,92.9L453.2,94.9L452.0,95.8M407.6,78.6L408.4,80.8L410.4,83.5L415.3,88.8L416.5,90.8L417.2,92.9L411.6,97.0L410.5,99.0L411.1,101.0L412.4,102.2L416.4,104.3L417.2,105.1L416.5,107.1L415.0,109.2L412.4,111.2L410.9,113.3L410.4,115.3L410.6,119.4L411.6,121.4L413.6,123.4L412.4,125.1L408.4,127.6L404.5,131.6L403.2,133.6L402.6,135.7L402.3,137.7L402.9,141.8L404.5,144.7L412.4,151.5L416.4,152.3L417.8,152.0L420.3,150.9L422.3,150.9L424.3,151.8L425.4,154.0L426.6,160.1L427.4,162.2L428.2,163.2L430.2,163.8L432.2,163.8L433.5,162.2L434.2,159.8L436.1,155.9L438.1,159.8L438.8,162.2L440.1,164.2L442.1,166.2L444.0,167.2L450.0,166.5L455.9,167.0L461.0,162.2L463.8,155.9L467.8,152.5L475.7,144.0L479.6,141.0L485.6,140.0L487.6,139.4L493.1,133.6L492.9,131.6L491.5,130.0L487.6,127.0L486.1,125.5L486.2,123.4L487.9,121.4L488.8,119.4L489.3,117.3L489.8,111.2L490.2,109.2L491.1,107.1L491.5,106.7L497.5,104.1L498.6,103.1L499.6,101.0L499.2,99.0L497.5,97.5L495.5,96.8L491.5,96.8L489.8,94.9L489.8,92.9L491.5,90.3L493.5,89.9L495.5,90.1L497.5,89.6L501.4,88.0L503.4,87.6L505.4,89.4L506.3,90.8L507.0,92.9L507.7,99.0L508.3,101.0L509.3,102.8L511.3,104.1L513.3,102.8L517.2,96.0L521.2,92.0L525.1,86.9L529.1,82.9L530.3,80.7L530.9,78.6M470.6,486.1L471.7,485.0L473.7,484.1L475.7,484.7L476.7,486.1M483.8,486.1L484.5,482.1L485.6,481.1L487.6,480.1L489.5,480.0L491.5,480.9L492.4,482.1L493.5,486.1M497.4,486.1L497.7,482.1L499.2,475.9L499.2,473.9L497.8,469.8L498.8,465.8L498.9,463.7L498.1,457.6L497.9,453.5L499.2,449.4L499.4,447.4L499.2,445.4L498.2,443.3L497.8,441.3L499.3,437.2L499.1,433.1L499.8,425.0L499.4,420.9L501.4,419.1L503.4,419.4L505.4,421.5L507.3,422.6L511.3,423.2L513.3,422.8L515.3,422.1L517.2,420.3L519.2,419.0L521.2,418.8L523.2,419.6L525.1,422.0L527.1,423.0L529.1,422.7L531.0,420.9L531.8,418.9L533.0,416.8L535.0,415.1L537.0,414.8L539.0,415.6L540.2,416.8L539.8,420.9L541.0,422.4L542.9,422.8L546.9,419.1L548.9,418.9L550.9,419.8L552.1,420.9L552.9,423.0L553.0,425.0L550.9,426.2L544.9,427.6L542.9,428.2L541.7,429.1L540.3,433.1L539.0,435.4L537.0,437.8L535.0,438.5L527.1,440.2L524.8,441.3L523.6,443.3L523.4,445.4L528.8,449.4L527.1,450.6L525.0,453.5L524.2,457.6L521.2,459.0L519.2,459.4L511.3,459.7L507.3,460.7L505.9,461.7L505.5,463.7L505.7,465.8L507.3,467.3L509.3,467.9L511.3,467.8L513.3,466.9L515.3,465.0L517.2,463.9L519.2,463.5L521.2,463.7L523.2,464.5L524.7,465.8L524.9,467.8L524.2,469.8L519.2,472.8L518.1,473.9L521.0,478.0L522.2,482.1L522.5,486.1M512.4,486.1L511.6,482.1L514.1,478.0L513.9,475.9L513.3,473.8L511.3,472.1L509.3,471.7L507.3,471.8L505.4,472.4L503.8,473.9L503.2,475.9L503.1,478.0L505.8,482.1L507.0,486.1M487.6,475.3L486.1,473.9L485.1,471.9L484.7,469.8L485.6,469.0L487.6,467.8L489.5,467.8L491.5,468.8L492.1,469.8L491.8,471.9L490.9,473.9L489.5,475.5L487.6,475.3M489.5,459.7L487.6,459.3L485.5,457.6L484.9,455.6L485.1,453.5L487.6,451.7L489.5,451.4L491.5,451.7L493.4,453.5L492.7,457.6L491.5,459.1L489.5,459.7M533.1,455.3L531.4,453.5L531.9,451.5L533.1,451.0L535.3,451.5L537.3,453.5L535.0,455.5L533.1,455.3M370.9,443.4L368.9,443.3L366.9,442.1L366.5,441.3L367.5,437.2L368.9,435.5L370.9,435.2L373.7,437.2L374.5,439.3L374.6,441.3L372.8,442.9L370.9,443.4M489.5,443.4L487.6,442.9L486.0,441.3L486.3,439.3L487.5,437.2L489.5,435.4L491.5,436.3L493.0,439.3L493.7,441.3L491.5,443.3L489.5,443.4M475.7,442.9L474.1,441.3L475.7,439.8L477.3,441.3L475.7,442.9M333.2,437.2L335.3,439.1L337.2,438.2L337.9,437.2L337.2,436.2L335.3,435.3L333.2,437.2M348.4,437.2L349.1,438.1L351.1,438.6L352.2,437.2L352.8,435.2L352.9,433.1L351.1,431.1L349.1,432.0L348.0,433.1L347.9,435.2L348.4,437.2M508.7,437.2L509.3,438.0L511.3,439.2L513.3,438.6L516.4,435.2L517.3,433.1L514.9,429.1L513.3,427.4L511.3,427.0L509.3,427.7L508.1,429.1L505.8,433.1L508.7,437.2M546.9,437.5L546.9,436.9L548.9,435.3L550.9,436.1L551.8,437.2L550.9,438.3L548.9,439.1L546.9,437.5M527.6,435.2L529.1,435.3L531.1,434.9L533.1,433.1L533.2,431.1L532.8,429.1L531.1,427.4L529.1,426.9L527.1,427.1L525.1,428.3L524.5,429.1L524.3,431.1L524.4,433.1L525.1,434.1L527.6,435.2M489.5,430.9L487.6,429.1L486.9,427.0L486.9,425.0L489.5,423.1L491.5,423.0L493.6,425.0L493.3,427.0L492.7,429.1L491.5,430.6L489.5,430.9M382.7,425.2L382.7,424.8L384.7,423.2L387.1,425.0L384.7,426.9L382.7,425.2M562.7,425.5L562.5,425.0L562.7,424.5L564.7,423.7L565.8,425.0L564.7,426.2L562.7,425.5M186.9,421.9L190.9,419.5L194.8,422.0L197.2,420.9L198.8,418.9L200.1,412.8L202.7,408.3L206.7,406.0L208.2,404.6L212.6,399.9L217.0,394.4L222.5,388.9L224.3,386.3L224.6,384.2L224.0,382.2L222.5,380.3L218.6,377.9L217.0,376.1L217.7,374.1L220.1,372.0L220.5,369.9L219.9,367.9L218.6,366.4L214.6,365.2L213.9,363.9L213.2,361.8L212.2,355.7L211.7,353.7L210.6,351.7L206.7,348.4L202.7,347.5L201.1,345.5L202.7,343.1L206.7,341.7L210.6,339.3L217.1,337.4L222.5,337.1L223.8,335.4L224.5,333.3L224.6,331.3L224.0,329.2L222.5,327.5L218.6,328.1L214.6,327.2L212.8,325.2L213.1,323.1L214.6,322.0L216.6,321.8L218.6,322.0L222.5,323.9L224.5,322.8L227.9,319.0L227.4,317.0L224.5,315.1L222.5,314.2L218.6,315.2L214.6,314.5L212.9,312.9L212.9,310.9L214.6,308.9L216.6,308.2L218.6,308.0L222.5,308.8L228.4,305.7L230.4,305.3L234.4,305.7L236.4,305.6L238.3,304.9L239.5,302.8L241.4,294.6L242.3,292.9L244.3,291.8L246.2,291.4L250.2,291.1L254.2,292.0L256.1,291.9L264.0,290.9L272.0,290.5L273.9,290.8L274.9,292.6L275.8,296.6L276.2,300.7L276.6,302.8L277.5,304.8L281.9,307.2L283.8,306.2L285.8,303.9L289.2,294.6L291.7,291.0L293.7,288.8L295.7,288.3L297.7,288.3L301.6,290.2L303.6,290.1L305.6,289.2L308.6,282.4L309.5,280.9L311.5,283.0L313.5,285.9L315.5,288.1L317.5,289.4L319.4,287.7L325.4,279.9L329.3,278.8L333.3,274.6L337.2,269.4L341.2,265.1L347.1,262.1L348.9,260.0L349.5,257.9L349.8,253.8L349.7,249.8L349.1,246.9L348.4,245.7L345.1,243.9L341.2,244.1L339.2,243.6L337.2,242.5L336.7,241.6L334.4,233.5L331.9,227.4L330.5,219.2L329.3,216.8L325.4,214.1L324.0,211.1L323.4,207.0L323.4,198.8L322.9,194.8L322.3,192.7L319.7,188.6L321.4,186.1L323.4,184.2L325.4,182.8L333.3,181.5L334.0,180.5L333.3,179.5L325.4,178.4L323.6,176.4L323.3,174.4L323.6,172.3L325.4,169.5L331.3,169.2L333.3,168.6L333.5,168.3L334.0,166.2L333.5,162.2L333.8,160.1L335.3,157.2L337.2,155.2L341.2,153.2L345.1,153.0L347.1,152.2L349.1,150.7L350.4,147.9L351.7,141.8L352.5,139.8L354.0,137.7L354.9,135.7L355.1,133.6L354.7,131.6L353.1,129.6L349.1,126.4L343.2,124.9L341.2,123.4L343.2,122.4L349.1,121.7L351.1,121.2L353.1,120.5L354.4,119.4L353.9,117.3L353.1,116.3L343.2,114.0L341.8,113.3L340.6,111.2L340.8,109.2L341.2,108.6L343.6,107.1L349.1,106.2L350.4,105.1L350.7,103.1L349.1,101.5L347.1,100.5L342.7,99.0L341.2,97.7L340.8,97.0L340.5,94.9L341.1,92.9L343.2,91.4L351.1,90.0L353.1,88.7L354.5,86.8L354.4,84.7L353.1,83.1L349.1,81.3L345.1,81.1L343.8,80.7L342.1,78.6M334.9,420.9L335.3,421.4L337.2,422.6L338.8,420.9L337.2,419.2L335.3,420.4L334.9,420.9M362.4,420.9L364.9,422.8L366.9,422.6L368.3,420.9L367.8,416.8L366.9,415.6L364.9,415.4L363.2,416.8L362.4,418.9L362.4,420.9M521.2,414.9L519.2,413.9L518.1,412.8L519.1,410.7L521.2,409.0L523.2,408.9L525.3,410.7L526.0,412.8L523.2,414.8L521.2,414.9M548.9,415.0L546.9,414.6L544.5,412.8L545.3,410.7L546.9,409.2L548.9,408.6L550.9,409.2L552.2,410.7L552.8,412.8L550.9,414.6L548.9,415.0M560.7,413.5L560.3,412.8L560.8,410.7L562.7,408.8L564.7,409.0L566.4,410.7L567.2,412.8L564.7,414.7L562.7,414.8L560.7,413.5M350.9,408.7L351.1,408.9L353.1,407.9L353.7,406.7L354.3,404.6L353.1,403.0L351.1,402.7L348.9,404.6L349.4,406.7L350.9,408.7M366.4,408.7L367.1,408.7L368.9,407.4L370.0,404.6L372.6,400.5L370.9,398.6L368.9,398.4L366.9,398.9L364.5,400.5L362.8,402.6L362.3,404.6L362.9,406.4L364.9,408.5L366.4,408.7M334.2,406.7L335.3,408.2L337.2,408.2L338.3,406.7L339.0,404.6L337.2,401.9L335.3,402.1L334.8,402.6L333.6,404.6L334.2,406.7M533.1,408.0L532.0,406.7L531.5,404.6L533.1,403.0L535.0,402.5L537.0,403.3L538.4,404.6L537.8,406.7L537.0,407.6L535.0,408.7L533.1,408.0M535.0,398.6L533.1,398.1L531.4,396.5L533.1,394.8L535.3,394.4L537.0,395.1L538.0,396.5L537.0,397.8L535.0,398.6M548.9,398.6L546.9,398.2L545.0,396.5L545.1,394.4L545.9,392.4L546.9,391.5L548.9,390.5L550.9,391.3L551.7,392.4L552.6,394.4L553.0,396.5L550.9,398.4L548.9,398.6M562.7,398.6L560.7,398.3L558.8,396.5L559.9,394.4L562.7,390.9L565.0,392.4L567.1,394.4L568.1,396.5L566.7,397.7L564.7,398.5L562.7,398.6M351.0,394.4L353.1,394.4L355.0,393.2L355.5,392.4L356.0,388.3L355.0,387.1L353.1,386.3L351.1,386.2L349.1,386.8L347.5,388.3L347.3,390.4L347.6,392.4L349.1,393.7L351.0,394.4M335.1,392.4L337.6,392.4L339.2,391.6L340.2,390.4L340.8,388.3L340.1,386.3L339.2,385.1L337.2,384.3L335.3,384.8L333.3,386.3L331.9,388.3L332.6,390.4L333.3,391.2L335.1,392.4M582.5,380.6L581.7,380.2L582.5,379.8M564.7,378.2L562.7,377.8L561.0,376.1L560.9,374.1L561.4,372.0L562.7,370.7L564.7,370.1L566.7,371.2L567.4,372.0L568.1,374.1L568.3,376.1L566.7,377.6L564.7,378.2M548.9,377.6L547.5,376.1L548.9,374.6L550.9,374.6L551.9,376.1L550.9,377.6L548.9,377.6M582.5,372.4L581.8,372.0L582.5,371.6M234.2,335.4L234.6,335.4L236.2,333.3L235.3,331.3L234.4,330.6L233.4,331.3L232.6,333.3L234.2,335.4M279.1,335.4L279.9,336.0L281.9,336.8L283.8,335.4L285.2,333.3L285.7,331.3L285.0,329.2L283.8,328.3L281.9,327.6L279.9,328.3L278.7,329.2L277.7,331.3L277.8,333.3L279.1,335.4M249.7,333.3L250.2,333.7L250.7,333.3L251.8,331.3L250.2,329.6L248.6,331.3L249.7,333.3M262.6,333.3L264.0,334.4L266.0,335.0L268.5,333.3L268.7,331.3L266.0,329.5L264.0,330.1L262.5,331.3L262.6,333.3M426.8,325.2L428.2,326.8L430.2,326.7L432.0,325.2L432.9,323.1L430.2,321.2L428.2,321.2L426.3,323.1L426.8,325.2M497.2,325.2L497.5,325.7L498.0,325.2L499.0,323.1L497.5,322.1L496.8,323.1L497.2,325.2M582.5,326.3L580.5,324.5L580.1,323.1L579.9,319.0L578.1,315.0L576.6,313.6L574.6,313.5L572.7,315.0L571.5,317.0L570.1,325.2L568.7,327.3L566.7,327.9L564.7,327.6L564.0,327.2L562.7,325.6L561.3,321.1L560.3,319.0L558.8,317.4L556.8,317.7L555.8,319.0L554.8,324.8L553.4,327.2L552.8,327.6L550.9,327.8L548.9,326.6L548.2,325.2L545.9,315.0L544.9,314.1L542.9,313.6L541.9,315.0L541.2,317.0L540.7,319.0L540.0,325.2L539.0,327.2L537.6,325.2L536.2,319.0L533.0,315.0L531.1,313.3L529.1,312.9L527.1,313.0L525.1,314.0L523.2,315.6L521.2,316.4L515.3,317.7L512.5,319.0L511.0,321.1L510.3,323.1L510.1,327.2L508.2,331.3L506.2,333.3L503.4,334.8L501.4,335.2L497.5,334.6L495.5,335.1L495.2,335.4L494.6,337.4L494.3,343.5L491.5,345.4L489.5,345.7L487.6,345.3L485.6,343.5L484.6,335.4L483.6,334.6L482.6,335.4L481.4,343.5L480.1,345.5L478.2,347.6L475.7,349.3L471.7,346.7L469.8,346.1L465.8,345.6L457.9,345.5L453.9,344.9L451.0,343.5L448.4,339.4L446.0,338.2L438.1,336.8L432.2,334.2L424.3,331.8L423.4,331.3L422.4,329.2L421.9,327.2L422.0,323.1L420.3,319.8L419.1,319.0L416.4,318.4L412.4,318.4L408.4,318.7L406.5,319.2L404.4,321.1L401.4,327.2L397.3,331.3L392.2,335.4L388.2,339.4L387.2,343.5L379.5,349.6L377.8,351.6L379.1,353.7L381.2,355.7L384.1,357.8L386.1,359.8L384.7,360.8L378.1,363.9L377.2,365.9L377.1,367.9L379.0,372.0L379.0,374.1L378.4,376.1L376.4,378.1L372.8,380.7L363.8,384.2L361.5,386.3L360.6,388.3L362.9,392.8L364.9,393.7L366.9,394.2L370.9,394.6L374.8,395.5L376.5,396.5L376.8,398.5L376.4,406.7L375.4,414.8L375.4,416.8L376.2,420.9L375.5,427.0L374.5,429.1L372.8,430.0L364.9,432.0L362.8,433.1L362.2,435.2L362.0,437.2L362.5,441.3L362.0,443.3L359.0,449.4L359.9,453.5L359.6,455.6L358.9,457.6L357.0,459.4L355.0,459.3L353.5,457.6L352.8,453.5L353.8,449.4L353.0,447.4L351.1,444.4L349.1,443.9L345.4,447.4L344.4,449.4L346.2,453.5L346.4,455.6L346.3,457.6L345.1,459.1L343.2,459.5L341.2,457.6L340.3,453.5L340.9,449.4L339.2,447.9L337.2,447.3L335.3,447.4L333.3,448.1L331.6,449.4L331.3,455.1L329.4,461.7L327.1,465.8L325.7,469.8L323.4,471.5L321.5,469.8L320.6,465.8L317.4,461.7L315.5,460.6L313.5,460.1L307.6,459.1L305.6,458.3L304.3,457.6L303.1,453.5L301.6,452.1L299.8,451.5L297.7,452.0L295.7,454.4L293.7,455.2L292.0,453.5L289.6,449.4L287.8,447.9L285.8,447.3L283.8,447.6L281.3,449.4L275.9,455.1L270.6,459.6L266.0,464.2L264.7,465.8L262.5,469.8L258.1,472.5L252.2,473.8L250.2,475.5L249.1,478.0L251.6,482.1L249.3,486.1M233.5,319.0L234.4,319.8L236.4,320.3L238.3,320.2L239.5,319.0L240.3,317.0L238.3,315.2L236.4,315.3L234.4,315.8L233.0,317.0L233.5,319.0M265.0,319.0L266.0,319.3L266.4,319.0L267.9,317.0L267.6,315.0L266.0,313.7L262.9,315.0L261.9,317.0L264.0,318.7L265.0,319.0M276.6,319.0L277.9,320.6L279.9,320.9L281.9,320.7L283.4,319.0L283.9,317.0L283.9,315.0L283.0,312.9L281.9,312.0L279.9,312.0L277.9,312.4L277.1,312.9L276.0,315.0L275.9,317.0L276.6,319.0M249.7,304.8L250.2,305.4L252.2,305.4L254.2,304.5L255.6,302.7L255.4,300.7L254.2,299.8L250.2,299.3L248.6,300.7L248.4,302.8L249.7,304.8M264.3,304.8L266.0,305.5L268.0,305.0L270.0,303.1L271.6,300.7L272.1,298.7L271.8,296.6L270.0,294.8L266.0,297.5L263.4,298.7L262.1,300.5L262.3,302.7L264.3,304.8M230.4,301.2L229.7,300.7L228.5,298.7L228.4,296.2L228.9,294.6L230.4,292.7L232.4,292.9L234.4,293.7L235.2,294.6L236.3,296.6L236.0,298.7L234.4,300.1L230.4,301.2M246.2,284.5L244.4,282.4L246.2,279.9L248.0,282.4L246.2,284.5M526.8,251.8L529.1,252.0L531.1,251.7L534.6,249.8L535.3,247.7L535.0,239.6L536.2,229.4L539.0,228.1L546.9,226.1L550.9,223.5L552.8,223.1L554.8,223.4L556.8,224.6L558.8,226.8L560.7,227.3L562.7,226.0L563.2,225.3L564.3,221.2L563.8,219.2L562.7,217.2L560.7,215.6L558.8,216.3L556.8,218.6L554.8,219.3L552.8,219.0L550.2,217.2L549.2,209.0L550.5,204.9L549.6,194.8L549.3,192.7L548.9,192.1L546.9,190.8L544.9,190.6L542.9,191.1L541.3,192.7L540.4,204.9L539.0,206.5L537.4,204.9L536.7,196.8L534.2,190.7L533.0,188.6L531.1,187.0L529.1,188.5L527.2,190.7L523.3,196.8L521.7,200.9L520.9,204.9L514.4,209.0L515.0,213.1L511.8,217.2L511.3,219.2L511.6,221.2L517.5,225.3L519.5,227.4L520.5,229.4L515.1,233.5L515.0,235.5L516.1,237.5L521.7,241.6L523.4,245.7L522.7,249.8L525.1,251.4L526.8,251.8M543.4,241.6L544.9,243.2L546.9,241.6L550.2,237.5L548.5,233.5L546.9,231.8L544.9,231.4L542.9,232.1L542.0,233.5L541.2,235.5L540.6,237.5L543.4,241.6M557.8,241.6L558.8,242.8L560.7,243.5L562.7,241.9L564.7,239.0L565.4,237.5L564.9,235.5L564.0,233.5L562.7,232.1L560.7,231.4L558.8,231.7L556.9,233.5L556.2,237.5L557.8,241.6M574.4,241.6L576.6,243.4L579.0,241.6L579.9,239.6L580.2,237.5L579.9,235.5L579.0,233.5L576.6,231.7L574.4,233.5L573.4,235.5L572.9,237.5L573.4,239.6L574.4,241.6M341.6,237.5L343.2,239.1L345.1,239.5L347.0,237.5L347.1,235.5L345.1,232.7L343.2,233.6L341.7,235.5L341.6,237.5M576.6,227.4L578.5,226.5L579.8,225.3L580.2,223.3L580.1,221.2L578.5,219.9L576.6,219.2L574.6,219.5L572.9,221.2L572.7,223.3L573.0,225.3L574.6,227.0L576.6,227.4M539.0,214.8L537.2,213.1L539.0,211.4L540.6,213.1L539.0,214.8M558.7,211.1L560.7,210.5L562.2,209.0L560.7,207.3L558.6,207.0L556.8,207.9L556.1,209.0L556.8,210.1L558.7,211.1M557.7,202.9L560.7,203.1L562.7,202.7L564.7,201.5L565.1,200.9L565.2,198.8L564.6,192.7L563.0,190.7L558.8,187.3L557.3,188.6L556.4,190.7L554.6,198.8L554.4,200.9L554.8,201.6L556.8,202.8L557.7,202.9M230.4,190.3L228.8,188.6L230.4,187.0L231.9,188.6L230.4,190.3M186.9,187.6L188.3,188.6L188.9,190.7L188.0,192.7L186.9,193.9M582.5,186.6L578.5,186.9L576.6,187.3L573.6,188.6L570.3,192.7L570.2,194.8L570.8,200.9L573.0,204.9L574.4,209.0L576.6,210.2L578.5,210.7L582.5,211.1M200.8,179.0L198.8,178.0L197.4,176.4L197.2,174.4L198.8,172.9L200.8,172.1L202.7,171.7L203.7,172.3L204.7,174.3L204.7,176.4L203.6,178.5L202.7,179.4L200.8,179.0M214.6,178.5L212.9,176.4L212.5,174.4L213.1,172.3L214.6,171.1L218.6,170.4L220.3,172.3L220.6,174.4L220.3,176.4L218.6,178.9L216.6,179.1L214.6,178.5M230.4,178.0L228.9,176.4L228.3,174.4L228.5,172.3L230.4,170.1L232.4,170.8L235.2,172.3L236.1,174.4L234.4,176.5L232.4,177.7L230.4,178.0M244.3,177.1L242.3,176.4L240.5,174.4L240.8,172.3L242.3,171.1L246.2,170.2L248.1,172.3L248.1,174.4L246.2,177.1L244.3,177.1M582.5,174.4L578.5,174.8L574.7,176.4L573.9,178.5L574.4,180.5L576.6,181.5L580.5,182.5L582.5,182.5M186.9,170.3L190.9,171.5L192.0,172.3L192.9,174.4L192.8,176.4L191.8,178.5L190.9,179.6L186.9,180.3M342.7,166.2L345.1,166.9L346.1,166.2L345.1,164.6L343.2,165.7L342.7,166.2M186.9,156.4L190.9,157.6L194.8,160.4L196.8,160.3L198.8,159.7L200.2,158.1L200.8,156.0L200.9,154.0L200.5,152.0L198.9,149.9L196.8,149.3L194.8,149.1L190.9,151.7L186.9,150.8M236.2,156.0L238.3,157.6L242.3,155.3L243.6,154.0L244.3,152.0L243.9,149.9L242.3,148.2L238.3,145.8L236.4,146.7L234.4,148.4L233.1,149.9L232.5,152.0L233.6,154.0L236.2,156.0M442.9,149.9L444.0,151.6L446.0,151.9L448.0,151.4L452.0,148.1L455.9,148.8L459.9,142.0L463.8,141.2L467.8,139.6L473.7,135.6L475.8,133.6L477.3,131.6L475.7,129.6L473.7,128.4L467.8,125.8L465.8,125.4L459.9,125.0L458.4,123.4L459.9,122.0L471.7,121.1L473.3,119.4L473.8,117.3L473.6,115.3L472.4,113.3L471.7,112.8L469.8,112.5L459.9,111.6L455.9,112.9L448.0,111.9L446.2,109.2L445.9,107.1L446.6,105.1L448.8,103.1L449.5,101.0L448.0,99.1L446.0,97.9L444.0,97.4L440.1,98.5L439.4,99.0L438.2,101.0L438.6,103.1L440.8,105.1L442.0,107.1L442.2,109.2L441.8,111.2L439.4,115.3L437.4,123.4L436.1,126.4L426.2,127.6L418.3,127.3L416.4,127.9L414.5,131.6L414.2,133.6L414.8,137.7L416.4,140.2L420.3,139.5L424.3,141.3L428.2,147.1L430.2,148.2L432.2,148.1L436.1,142.5L438.1,143.5L440.1,145.5L442.9,149.9M582.5,149.1L580.8,149.9L579.3,152.0L581.0,154.0L582.5,154.8M258.1,145.0L257.0,143.8L256.1,141.8L256.2,139.8L258.1,136.8L260.1,137.5L261.9,139.8L261.8,141.8L260.1,144.0L258.1,145.0M186.9,140.5L190.9,140.8L194.8,142.0L198.8,144.9L199.9,143.8L202.7,138.7L204.7,138.0L206.7,138.2L207.9,139.8L208.7,141.8L208.8,143.8L208.5,145.9L207.4,147.9L205.6,149.9L204.7,152.0L204.6,154.0L205.1,156.0L206.7,157.7L208.7,157.9L210.6,157.5L211.6,156.0L212.5,152.0L212.8,143.8L213.2,141.8L214.6,138.7L218.6,137.9L221.4,135.7L222.5,133.9L226.5,139.5L228.4,139.3L230.4,138.1L231.5,135.7L233.1,127.5L233.9,125.5L236.1,123.4L238.3,122.1L242.3,120.7L243.1,119.4L243.8,117.3L245.1,111.2L246.2,109.0L248.2,109.1L250.2,109.9L251.3,111.2L252.2,113.3L252.0,115.3L248.4,119.4L248.8,121.4L250.2,122.6L254.2,122.2L255.4,123.4L256.2,125.5L255.8,127.5L254.2,129.6L252.2,130.9L250.2,131.7L248.4,133.6L248.2,135.7L249.2,137.7L251.4,139.8L252.2,141.8L252.1,143.8L250.8,145.9L249.1,147.9L248.3,149.9L248.0,152.0L248.5,156.0L249.6,158.1L251.7,160.1L252.0,162.2L250.2,164.2L246.2,163.8L238.3,164.6L234.4,164.3L230.4,165.9L228.4,165.4L226.5,164.5L224.5,164.2L222.5,164.4L218.6,165.8L214.6,165.6L210.6,164.8L208.7,164.7L206.7,164.9L202.7,165.9L198.8,164.5L196.8,164.5L190.9,166.0L186.9,166.3M237.4,137.7L238.3,138.4L240.3,138.6L242.3,138.3L243.0,137.7L244.2,135.7L244.4,133.6L243.9,131.6L242.3,129.8L240.3,129.4L238.3,129.5L236.6,131.6L236.2,133.6L236.4,135.7L237.4,137.7M218.6,131.3L216.8,129.6L216.7,127.5L218.6,125.2L220.5,127.2L221.0,129.6L220.5,130.7L218.6,131.3M264.0,130.7L262.8,129.6L262.1,127.5L263.1,125.5L264.0,124.7L266.0,124.0L267.3,125.5L268.1,127.5L267.6,129.6L266.0,131.2L264.0,130.7M273.9,131.2L272.3,129.6L271.9,127.5L272.6,125.5L273.9,124.5L275.3,125.5L276.0,127.5L275.5,129.6L273.9,131.2M452.0,125.3L450.3,123.4L452.0,121.8L453.6,123.4L452.0,125.3M427.6,121.4L428.2,121.8L432.2,120.4L433.5,119.4L434.2,117.3L433.8,115.3L432.2,113.7L428.2,111.9L424.3,115.3L422.7,117.3L424.3,118.9L427.6,121.4M258.1,117.7L256.3,115.3L256.0,113.3L256.4,111.2L258.1,109.2L260.1,109.9L261.6,111.2L262.2,113.3L261.6,115.3L260.1,116.9L258.1,117.7M234.4,115.5L232.5,113.3L233.3,111.2L234.4,110.3L235.4,111.2L236.2,113.3L234.4,115.5M273.9,117.3L272.2,115.3L271.8,113.3L272.1,111.2L273.9,109.0L275.9,109.5L277.9,110.3L278.9,111.2L279.8,113.3L278.8,115.3L277.9,116.3L275.9,117.1L273.9,117.3M293.7,114.7L292.2,113.3L292.3,111.2L293.7,110.2L295.1,111.2L295.2,113.3L293.7,114.7M463.1,107.1L463.8,107.5L465.8,107.4L473.7,105.6L475.7,104.6L477.0,103.1L473.7,98.7L471.7,97.0L465.8,96.4L463.8,96.6L463.2,97.0L462.1,99.0L461.7,101.0L462.0,105.1L463.1,107.1M426.3,105.1L428.2,105.7L430.2,105.6L432.2,105.0L433.9,103.1L434.2,101.0L433.5,99.0L432.2,97.7L430.2,96.8L428.2,96.3L426.2,97.3L424.0,99.0L422.5,101.0L423.2,103.1L424.3,104.1L426.3,105.1M454.9,105.1L455.9,105.8L457.0,105.1L458.0,103.1L457.6,101.0L455.9,99.5L454.5,101.0L453.9,103.1L454.9,105.1M258.1,101.5L257.4,101.0L256.2,99.0L256.3,97.0L258.1,94.4L260.1,95.2L261.8,97.0L261.9,99.0L260.1,101.0L258.1,101.5M273.9,103.1L272.2,101.0L271.8,99.0L272.0,97.0L272.8,94.9L273.9,93.5L275.9,94.5L277.9,96.7L279.3,99.0L275.9,101.9L273.9,103.1M246.2,99.3L245.8,99.0L245.1,97.0L246.2,95.8L247.5,97.0L246.7,99.0L246.2,99.3M293.7,100.8L292.0,99.0L291.7,97.0L292.2,94.9L293.7,93.2L295.7,93.5L297.7,94.2L298.5,94.9L299.6,97.0L298.9,99.0L297.7,100.4L295.7,100.9L293.7,100.8M424.0,86.8L426.2,88.0L428.2,88.5L430.2,88.0L432.2,86.9L433.9,84.7L432.2,82.3L430.2,81.3L428.2,81.0L426.2,81.3L424.3,82.3L422.6,84.7L424.0,86.8M438.5,86.8L440.1,88.4L442.1,88.7L444.0,88.6L445.8,86.8L446.1,84.7L445.4,82.7L444.0,81.1L442.1,81.0L440.1,81.4L439.0,82.7L438.1,84.7L438.5,86.8M290.2,78.6L289.8,79.5L289.4,78.6M298.1,78.6L297.7,79.4L297.3,78.6M453.9,78.6L454.3,82.7L454.8,84.7L455.9,87.0L459.9,88.5L463.8,90.7L469.8,91.3L471.7,91.2L475.7,87.8L477.0,84.7L477.4,82.7L477.7,78.6M481.6,78.6L481.7,80.7L482.6,84.7L483.6,86.9L485.6,87.5L487.6,86.6L489.1,82.7L489.5,78.6M508.5,78.6L509.3,80.2L511.3,81.9L513.3,80.4L514.1,78.6M305.9,486.1L307.6,484.6L309.5,484.0L311.5,484.2L313.6,486.1M318.7,486.1L318.4,480.0L317.7,478.0L315.5,476.9L313.5,476.3L307.6,475.6L305.6,475.1L303.0,473.9L302.6,471.9L302.6,467.8L302.2,465.8L299.7,463.9L297.7,465.0L295.7,468.6L293.7,469.5L291.7,467.5L289.2,461.7L287.8,460.4L285.8,459.7L283.8,460.4L278.2,465.8L272.9,471.9L265.0,478.0L265.0,482.1L263.9,486.1M365.6,486.1L366.5,482.1L366.9,481.4L368.9,480.1L370.9,481.1L371.9,482.1L372.8,486.1M381.5,486.1L382.7,484.6L384.7,484.3L386.6,486.1M459.9,486.1L460.0,484.1L460.5,482.1L467.9,478.0L468.3,475.9L467.7,473.9L465.2,471.9L463.5,469.8L465.8,467.8L468.8,465.8L469.7,463.7L469.5,461.7L460.5,457.6L460.0,455.6L460.6,453.5L469.0,449.4L468.9,447.4L467.7,445.4L465.8,444.4L459.9,442.3L458.1,441.3L459.9,440.3L465.8,438.7L469.2,437.2L470.6,435.2L470.9,433.1L467.8,431.8L461.8,430.8L457.9,429.2L457.2,427.0L458.0,425.0L461.8,423.4L467.8,422.6L471.7,421.1L472.9,418.9L473.2,416.8L472.3,412.8L473.7,411.1L475.7,409.8L477.7,409.1L483.6,408.5L485.6,407.8L487.6,406.6L488.8,404.6L489.0,402.6L488.9,400.5L487.7,396.5L488.4,394.4L489.5,393.1L491.5,392.3L493.5,393.7L494.4,396.5L493.3,404.6L493.9,406.7L495.5,408.7L497.5,408.5L498.8,406.7L499.4,404.6L499.4,400.5L499.8,396.5L500.6,394.4L501.4,393.3L503.4,393.2L507.7,394.4L509.3,395.5L510.0,396.5L509.5,398.5L508.6,400.5L509.2,404.6L510.0,406.7L511.3,408.4L513.3,408.2L516.1,404.6L516.5,402.6L516.6,400.5L514.8,396.5L515.3,394.2L516.4,392.4L517.2,391.9L519.2,391.1L525.1,389.7L528.2,388.3L529.3,386.3L530.3,382.2L530.0,380.2L529.1,379.7L525.1,378.4L519.2,377.8L517.2,377.2L515.3,376.1L516.2,374.1L517.6,372.0L519.2,370.6L521.2,369.9L523.2,370.4L525.1,372.8L527.1,373.9L529.1,372.9L530.1,372.0L532.2,367.9L531.9,365.9L530.2,361.8L529.1,360.5L527.1,359.7L525.1,361.0L523.2,364.7L521.2,365.8L519.2,366.0L517.2,365.3L515.9,363.9L514.9,361.8L513.3,360.0L511.3,360.0L509.6,361.8L508.7,363.9L507.3,365.3L505.4,366.0L503.4,366.0L501.4,365.2L499.4,361.7L497.5,363.8L494.7,367.9L496.3,372.0L496.2,374.1L495.4,376.1L493.5,377.7L491.5,378.2L489.5,378.1L487.6,376.9L487.0,376.1L486.6,372.0L487.8,367.9L486.8,365.9L485.3,363.9L483.6,362.2L482.0,363.9L479.8,367.9L481.5,372.0L480.9,376.1L479.6,377.6L477.7,378.2L475.7,378.0L473.2,376.1L473.0,372.0L473.5,367.9L472.1,363.9L469.8,361.9L467.8,362.1L465.9,363.9L464.8,365.9L464.3,367.9L465.0,372.0L462.4,376.1L459.9,377.8L458.4,378.1L455.9,378.3L453.9,377.9L450.6,376.1L449.3,374.1L448.6,372.0L450.6,367.9L450.7,365.9L450.3,363.9L445.7,359.8L445.3,357.8L445.6,355.7L447.3,353.7L448.3,351.6L446.0,350.5L440.1,348.6L434.2,346.2L426.2,344.5L424.3,343.5L422.0,339.4L416.4,335.9L414.4,334.2L412.4,333.3L410.4,333.2L408.4,333.9L406.7,335.4L405.1,337.4L403.6,339.4L403.1,343.5L402.5,344.1L400.5,345.9L392.2,351.6L393.5,353.7L395.7,355.7L399.4,357.8L402.1,359.8L400.5,360.8L393.4,363.9L392.4,365.9L392.6,368.0L401.1,372.0L401.6,374.1L401.0,376.1L398.6,377.4L392.6,379.4L391.3,380.2L390.1,384.2L388.7,385.1L382.7,386.9L379.7,388.3L382.7,389.8L388.7,391.7L390.6,393.1L391.8,394.4L392.8,396.5L392.5,398.5L390.4,404.6L390.6,405.1L392.6,407.2L400.4,410.7L401.7,412.8L393.4,416.8L392.4,418.9L392.6,420.9L394.6,422.0L400.5,423.9L402.5,425.0L399.2,427.0L394.7,429.1L389.4,433.1L390.0,435.2L391.5,437.2L400.6,441.3L398.6,442.4L396.6,443.0L390.6,443.9L387.3,445.4L386.7,447.4L386.9,449.4L388.8,453.5L388.2,455.6L386.8,457.6L382.7,459.2L376.8,460.3L373.9,461.7L373.3,463.7L373.3,467.8L372.7,469.8L370.9,470.8L362.9,472.8L360.6,473.9L359.2,475.9L358.5,478.0L360.5,486.1M531.8,486.1L532.3,482.1L533.1,480.9L535.0,479.9L537.0,480.2L539.4,482.1L539.7,484.1L539.5,486.1M582.5,434.1L580.4,433.1L578.5,429.1L576.6,427.4L574.5,427.0L572.6,427.7L571.0,429.1L569.1,431.1L567.9,433.1L568.9,437.2L568.7,439.3L567.7,441.3L564.7,442.6L558.8,444.4L556.8,445.4L555.3,447.4L554.4,449.4L554.3,453.5L553.5,455.6L552.0,457.6L548.9,459.0L542.9,460.7L541.0,461.7L540.9,463.7L541.4,465.8L541.3,467.8L540.6,469.8L539.0,470.8L531.1,473.2L529.7,473.9L529.1,474.7L528.4,475.9L527.8,478.0L529.1,482.1L529.4,486.1M186.9,406.8L190.9,405.7L194.8,405.7L200.8,397.5L206.7,392.1L211.9,386.3L212.6,384.2L211.9,382.2L210.6,380.8L205.0,378.1L203.1,376.1L203.9,374.1L207.4,372.0L208.5,370.0L206.7,367.4L204.7,367.0L200.8,367.0L198.8,366.5L197.6,363.9L197.1,361.8L196.4,355.7L195.9,353.7L194.8,351.4L192.8,350.7L186.9,350.3M186.9,355.7L188.8,357.8L189.0,359.8L188.4,361.8L186.9,363.6M186.9,307.3L194.8,309.3L196.8,308.6L198.8,307.2L199.8,304.8L201.8,296.6L202.7,294.8L204.7,294.2L208.7,294.1L210.6,293.6L211.9,290.5L213.0,284.4L214.6,280.2L216.6,278.8L218.6,278.2L222.5,280.1L224.5,280.3L226.5,279.7L227.9,276.3L228.8,270.1L229.4,268.1L230.4,266.0L234.4,275.4L236.4,276.9L238.3,277.5L242.3,272.0L244.3,267.4L246.2,264.1L247.3,266.1L249.2,272.2L250.2,274.2L252.2,274.4L254.2,273.4L258.1,264.9L260.1,266.2L263.5,274.2L265.6,276.3L266.0,276.5L272.0,274.3L273.9,274.0L275.9,275.1L277.3,276.3L278.6,278.3L280.4,284.4L281.9,287.5L283.2,284.4L285.0,278.3L285.8,276.8L289.8,275.6L290.5,274.2L292.5,268.1L293.7,265.5L295.7,265.0L297.7,265.5L301.6,274.2L303.6,274.4L305.6,273.4L308.6,266.1L309.5,264.5L311.5,267.2L313.5,271.1L315.5,273.3L317.5,274.6L323.1,266.1L324.7,264.0L325.4,263.4L329.3,262.9L331.3,261.4L333.3,259.8L334.7,257.9L335.3,255.9L335.2,253.8L334.4,251.8L332.8,249.8L329.3,244.0L325.4,241.6L324.4,239.6L322.8,231.4L320.4,225.3L318.6,219.2L317.5,216.9L315.5,217.9L313.5,219.6L311.5,219.9L309.5,219.5L305.6,214.8L303.6,214.4L301.6,214.5L297.7,216.6L295.7,215.8L293.7,214.5L291.9,211.1L291.6,209.0L291.7,206.4L292.1,204.9L293.7,202.3L297.7,199.7L301.6,200.4L303.6,199.9L305.6,198.8L307.3,196.8L307.5,194.8L305.6,192.4L301.6,190.9L297.7,191.5L293.7,191.2L291.9,188.6L291.7,186.6L292.3,184.6L293.7,183.3L297.7,182.6L301.6,184.4L305.6,182.2L307.2,180.5L305.6,178.7L303.6,177.2L301.6,176.2L297.7,177.5L293.7,177.0L292.9,176.4L291.8,174.4L291.6,172.3L292.1,170.3L293.7,168.3L295.7,167.6L297.7,167.4L301.6,169.1L305.7,166.2L307.7,164.2L304.3,162.2L303.5,160.1L303.5,158.1L304.2,156.0L305.6,154.7L307.6,153.7L309.4,152.0L309.4,149.9L307.6,148.2L305.6,147.2L304.2,145.9L303.5,143.8L303.7,141.8L304.8,139.8L308.4,137.7L309.6,135.7L308.9,133.6L307.6,132.5L303.6,130.8L301.6,130.4L297.7,132.6L296.8,133.6L295.8,135.7L296.9,137.7L299.2,139.8L299.7,141.8L299.1,143.8L297.7,145.5L295.7,146.9L293.7,147.8L292.7,145.9L292.1,143.8L291.5,137.7L290.3,133.6L289.8,132.7L287.8,132.4L283.8,133.4L281.9,134.5L280.6,137.7L279.2,143.8L278.4,145.9L277.9,146.7L276.1,147.9L273.9,148.4L270.0,146.5L268.0,146.6L266.0,147.1L262.6,149.9L262.4,152.0L264.0,153.3L266.0,154.1L270.0,154.8L272.0,153.8L273.9,153.3L274.9,154.0L275.9,155.7L277.1,160.1L277.0,162.2L275.9,163.0L273.9,163.8L270.0,164.2L266.0,164.2L264.0,164.9L262.3,166.2L262.1,168.3L264.0,169.9L266.0,170.5L268.0,170.4L272.0,169.5L273.9,169.4L276.6,170.3L278.0,172.3L277.3,174.4L275.9,175.5L273.9,176.3L270.0,175.0L268.0,174.9L266.0,175.2L264.1,176.4L262.9,178.5L262.2,180.5L261.7,186.6L261.0,188.6L259.7,190.7L258.1,192.1L254.2,191.2L252.2,191.5L250.0,192.7L248.6,196.8L247.8,202.9L246.2,206.9L244.3,207.7L242.1,207.0L240.6,202.9L239.7,196.8L238.3,193.6L236.4,193.9L234.4,195.4L233.0,198.8L231.4,204.9L230.4,206.7L229.4,204.9L227.4,198.8L226.5,196.9L224.5,195.7L222.5,195.6L218.6,204.2L216.6,204.8L214.6,204.3L210.6,195.1L208.7,194.8L206.7,195.7L204.7,198.8L202.7,201.2L200.8,199.4L198.8,196.9L196.8,196.3L194.8,196.7L190.9,204.3L188.9,204.8L186.9,204.9M186.9,294.6L190.9,295.5L191.8,296.6L192.7,298.7L191.5,300.7L190.9,301.2L186.9,302.0M186.9,280.4L188.6,282.4L188.4,284.4L186.9,285.7M186.9,133.3L190.9,133.7L194.8,135.0L196.8,134.4L198.0,133.6L198.8,133.0L199.5,131.6L201.8,123.4L202.7,121.8L204.7,121.1L206.7,121.0L208.7,121.5L210.6,121.4L211.6,119.4L213.3,113.3L214.6,110.1L216.6,108.5L218.6,107.6L222.5,107.6L224.5,106.6L226.5,105.1L227.4,103.1L229.1,97.0L230.4,93.9L232.4,92.9L234.4,92.6L238.3,93.7L240.3,92.4L242.3,90.5L243.7,88.8L244.3,86.9L243.9,84.7L242.3,82.8L238.3,80.7L237.4,78.6M186.9,122.9L188.9,122.8L190.9,123.1L192.6,125.5L192.9,127.5L192.0,129.6L190.9,130.3L186.9,130.8"/>
</g>
<g fill="#0000ff" shape-rendering="crispEdges">
<rect x="222" y="78" width="1" height="408"/><rect x="186" y="449" width="397" height="1"/><rect x="262" y="78" width="1" height="408"/><rect x="186" y="408" width="397" height="1"/><rect x="301" y="78" width="1" height="408"/><rect x="186" y="367" width="397" height="1"/><rect x="341" y="78" width="1" height="408"/><rect x="186" y="327" width="397" height="1"/><rect x="380" y="78" width="1" height="408"/><rect x="186" y="286" width="397" height="1"/><rect x="420" y="78" width="1" height="408"/><rect x="186" y="245" width="397" height="1"/><rect x="459" y="78" width="1" height="408"/><rect x="186" y="204" width="397" height="1"/><rect x="499" y="78" width="1" height="408"/><rect x="186" y="164" width="397" height="1"/><rect x="538" y="78" width="1" height="408"/><rect x="186" y="123" width="397" height="1"/><rect x="578" y="78" width="1" height="408"/><rect x="186" y="82" width="397" height="1"/>
</g>
<g fill="#000" shape-rendering="crispEdges">
<rect x="186" y="78" width="397" height="1"/>
<rect x="582" y="78" width="1" height="408"/>
<rect x="186" y="78" width="2" height="409"/>
<rect x="186" y="485" width="397" height="2"/>
<rect x="202" y="487" width="2" height="4"/><rect x="182" y="469" width="4" height="2"/><rect x="221" y="487" width="2" height="8"/><rect x="178" y="448" width="8" height="2"/><rect x="241" y="487" width="2" height="4"/><rect x="182" y="428" width="4" height="2"/><rect x="261" y="487" width="2" height="8"/><rect x="178" y="408" width="8" height="2"/><rect x="281" y="487" width="2" height="4"/><rect x="182" y="387" width="4" height="2"/><rect x="301" y="487" width="2" height="8"/><rect x="178" y="367" width="8" height="2"/><rect x="320" y="487" width="2" height="4"/><rect x="182" y="346" width="4" height="2"/><rect x="340" y="487" width="2" height="8"/><rect x="178" y="326" width="8" height="2"/><rect x="360" y="487" width="2" height="4"/><rect x="182" y="306" width="4" height="2"/><rect x="380" y="487" width="2" height="8"/><rect x="178" y="285" width="8" height="2"/><rect x="399" y="487" width="2" height="4"/><rect x="182" y="265" width="4" height="2"/><rect x="419" y="487" width="2" height="8"/><rect x="178" y="245" width="8" height="2"/><rect x="439" y="487" width="2" height="4"/><rect x="182" y="224" width="4" height="2"/><rect x="459" y="487" width="2" height="8"/><rect x="178" y="204" width="8" height="2"/><rect x="479" y="487" width="2" height="4"/><rect x="182" y="183" width="4" height="2"/><rect x="498" y="487" width="2" height="8"/><rect x="178" y="163" width="8" height="2"/><rect x="518" y="487" width="2" height="4"/><rect x="182" y="143" width="4" height="2"/><rect x="538" y="487" width="2" height="8"/><rect x="178" y="122" width="8" height="2"/><rect x="558" y="487" width="2" height="4"/><rect x="182" y="102" width="4" height="2"/><rect x="577" y="487" width="2" height="8"/><rect x="178" y="82" width="8" height="2"/>
</g>
<g><text x="212.7" y="511.6" textLength="18.6" lengthAdjust="spacingAndGlyphs" style="font-size:13px;letter-spacing:1.9px" >10</text><text x="252.3" y="511.6" textLength="18.6" lengthAdjust="spacingAndGlyphs" style="font-size:13px;letter-spacing:1.9px" >20</text><text x="291.8" y="511.6" textLength="18.6" lengthAdjust="spacingAndGlyphs" style="font-size:13px;letter-spacing:1.9px" >30</text><text x="331.4" y="511.6" textLength="18.6" lengthAdjust="spacingAndGlyphs" style="font-size:13px;letter-spacing:1.9px" >40</text><text x="370.9" y="511.6" textLength="18.6" lengthAdjust="spacingAndGlyphs" style="font-size:13px;letter-spacing:1.9px" >50</text><text x="410.5" y="511.6" textLength="18.6" lengthAdjust="spacingAndGlyphs" style="font-size:13px;letter-spacing:1.9px" >60</text><text x="450.1" y="511.6" textLength="18.6" lengthAdjust="spacingAndGlyphs" style="font-size:13px;letter-spacing:1.9px" >70</text><text x="489.6" y="511.6" textLength="18.6" lengthAdjust="spacingAndGlyphs" style="font-size:13px;letter-spacing:1.9px" >80</text><text x="529.2" y="511.6" textLength="18.6" lengthAdjust="spacingAndGlyphs" style="font-size:13px;letter-spacing:1.9px" >90</text><text x="564.8" y="511.6" textLength="26.6" lengthAdjust="spacingAndGlyphs" style="font-size:13px;letter-spacing:1.9px" >100</text><text x="154.2" y="453.8" textLength="18.6" lengthAdjust="spacingAndGlyphs" style="font-size:13px;letter-spacing:1.9px" >10</text><text x="154.2" y="413.1" textLength="18.6" lengthAdjust="spacingAndGlyphs" style="font-size:13px;letter-spacing:1.9px" >20</text><text x="154.2" y="372.3" textLength="18.6" lengthAdjust="spacingAndGlyphs" style="font-size:13px;letter-spacing:1.9px" >30</text><text x="154.2" y="331.6" textLength="18.6" lengthAdjust="spacingAndGlyphs" style="font-size:13px;letter-spacing:1.9px" >40</text><text x="154.2" y="290.8" textLength="18.6" lengthAdjust="spacingAndGlyphs" style="font-size:13px;letter-spacing:1.9px" >50</text><text x="154.2" y="250.1" textLength="18.6" lengthAdjust="spacingAndGlyphs" style="font-size:13px;letter-spacing:1.9px" >60</text><text x="154.2" y="209.3" textLength="18.6" lengthAdjust="spacingAndGlyphs" style="font-size:13px;letter-spacing:1.9px" >70</text><text x="154.2" y="168.6" textLength="18.6" lengthAdjust="spacingAndGlyphs" style="font-size:13px;letter-spacing:1.9px" >80</text><text x="154.2" y="127.8" textLength="18.6" lengthAdjust="spacingAndGlyphs" style="font-size:13px;letter-spacing:1.9px" >90</text><text x="146.2" y="87.1" textLength="26.6" lengthAdjust="spacingAndGlyphs" style="font-size:13px;letter-spacing:1.9px" >100</text></g>
<text x="319.0" y="538.4" textLength="131.0" lengthAdjust="spacingAndGlyphs" style="font-size:13px;letter-spacing:1.9px" >sequence number</text>
<g transform="translate(135.2,358.2) rotate(-90)"><text x="0.0" y="0.0" textLength="132.6" lengthAdjust="spacingAndGlyphs" style="font-size:13px;letter-spacing:1.9px" >sequence number</text></g>
<text x="491.0" y="562.7" textLength="187.6" lengthAdjust="spacingAndGlyphs" style="font-size:13px;letter-spacing:1.9px" >(representative atom: CA)</text>
<text x="636.0" y="355.8" textLength="46.8" lengthAdjust="spacingAndGlyphs" style="font-size:17px;letter-spacing:2.2px" >3wrp</text>
<rect x="606.5" y="45.5" width="143" height="213" fill="#fff" stroke="#000" stroke-width="1" shape-rendering="crispEdges"/>
<rect x="620" y="68" width="37" height="19" fill="#ff0000" shape-rendering="crispEdges"/><text x="661.0" y="82.7" textLength="60.1" lengthAdjust="spacingAndGlyphs" style="font-size:12px;letter-spacing:0.8px" >0  --  5.6</text><rect x="620" y="90" width="37" height="19" fill="#ff7f00" shape-rendering="crispEdges"/><text x="661.0" y="104.7" textLength="69.1" lengthAdjust="spacingAndGlyphs" style="font-size:12px;letter-spacing:0.8px" >5.6  --  11</text><rect x="620" y="112" width="37" height="19" fill="#ffff00" shape-rendering="crispEdges"/><text x="661.0" y="126.7" textLength="64.6" lengthAdjust="spacingAndGlyphs" style="font-size:12px;letter-spacing:0.8px" >11  --  17</text><rect x="620" y="134" width="37" height="19" fill="#7fff00" shape-rendering="crispEdges"/><text x="661.0" y="148.7" textLength="64.6" lengthAdjust="spacingAndGlyphs" style="font-size:12px;letter-spacing:0.8px" >17  --  23</text><rect x="620" y="156" width="37" height="19" fill="#00ff00" shape-rendering="crispEdges"/><text x="661.0" y="170.7" textLength="64.6" lengthAdjust="spacingAndGlyphs" style="font-size:12px;letter-spacing:0.8px" >23  --  28</text><rect x="620" y="178" width="37" height="19" fill="#00ffff" shape-rendering="crispEdges"/><text x="661.0" y="192.7" textLength="64.6" lengthAdjust="spacingAndGlyphs" style="font-size:12px;letter-spacing:0.8px" >28  --  34</text><rect x="620" y="200" width="37" height="19" fill="#007fff" shape-rendering="crispEdges"/><text x="661.0" y="214.7" textLength="64.6" lengthAdjust="spacingAndGlyphs" style="font-size:12px;letter-spacing:0.8px" >34  --  39</text><rect x="620" y="222" width="37" height="19" fill="#0000ff" shape-rendering="crispEdges"/><text x="661.0" y="236.7" textLength="64.6" lengthAdjust="spacingAndGlyphs" style="font-size:12px;letter-spacing:0.8px" >39  --  45</text>
</svg>
</body></html>
